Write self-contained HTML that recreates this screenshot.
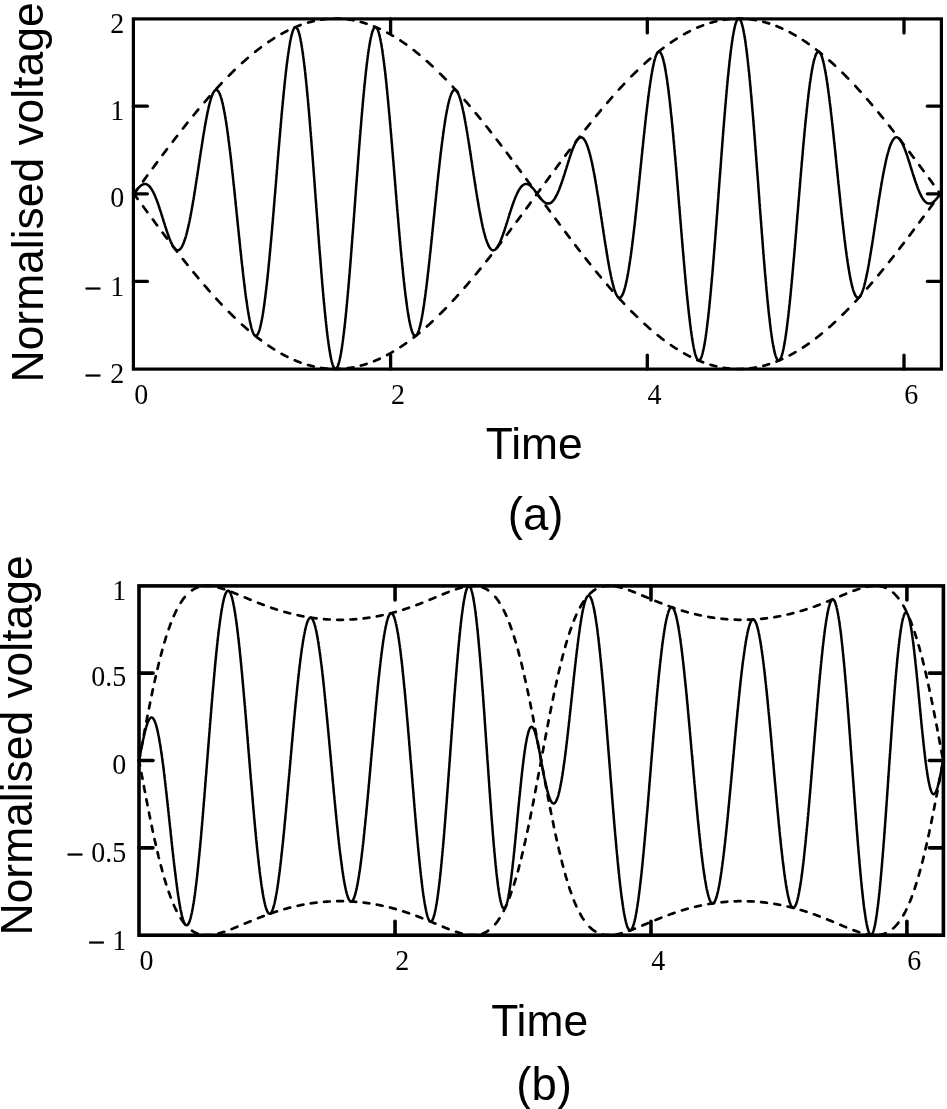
<!DOCTYPE html>
<html><head><meta charset="utf-8"><title>Normalised voltage vs time</title><style>html,body{margin:0;padding:0;background:#fff;overflow:hidden}svg{display:block}</style></head><body>
<svg width="947" height="1109" viewBox="0 0 947 1109">
<style>.ax{fill:none;stroke:#000}.tk{stroke:#000;stroke-linecap:round}.so{fill:none;stroke:#000;stroke-width:2.5;stroke-linejoin:round}.da{fill:none;stroke:#000;stroke-width:2.7;stroke-linecap:round;stroke-linejoin:round}.n{font-family:"Liberation Serif",serif;font-size:28px;fill:#000}.s{font-family:"Liberation Sans",sans-serif;font-size:44px;fill:#000}</style>
<rect width="947" height="1109" fill="#fff"/>
<rect x="133.40" y="18.90" width="808.00" height="350.20" class="ax" stroke-width="3.2"/>
<line x1="390.60" y1="369.10" x2="390.60" y2="355.10" class="tk" stroke-width="3.3"/>
<line x1="390.60" y1="18.90" x2="390.60" y2="32.90" class="tk" stroke-width="3.3"/>
<line x1="647.30" y1="369.10" x2="647.30" y2="355.10" class="tk" stroke-width="3.3"/>
<line x1="647.30" y1="18.90" x2="647.30" y2="32.90" class="tk" stroke-width="3.3"/>
<line x1="904.00" y1="369.10" x2="904.00" y2="355.10" class="tk" stroke-width="3.3"/>
<line x1="904.00" y1="18.90" x2="904.00" y2="32.90" class="tk" stroke-width="3.3"/>
<line x1="133.40" y1="106.20" x2="147.40" y2="106.20" class="tk" stroke-width="3.3"/>
<line x1="941.40" y1="106.20" x2="927.40" y2="106.20" class="tk" stroke-width="3.3"/>
<line x1="133.40" y1="193.80" x2="147.40" y2="193.80" class="tk" stroke-width="3.3"/>
<line x1="941.40" y1="193.80" x2="927.40" y2="193.80" class="tk" stroke-width="3.3"/>
<line x1="133.40" y1="281.40" x2="147.40" y2="281.40" class="tk" stroke-width="3.3"/>
<line x1="941.40" y1="281.40" x2="927.40" y2="281.40" class="tk" stroke-width="3.3"/>
<rect x="139.00" y="585.90" width="804.40" height="349.30" class="ax" stroke-width="3.6"/>
<line x1="395.04" y1="935.20" x2="395.04" y2="921.20" class="tk" stroke-width="3.6"/>
<line x1="395.04" y1="585.90" x2="395.04" y2="599.90" class="tk" stroke-width="3.6"/>
<line x1="650.98" y1="935.20" x2="650.98" y2="921.20" class="tk" stroke-width="3.6"/>
<line x1="650.98" y1="585.90" x2="650.98" y2="599.90" class="tk" stroke-width="3.6"/>
<line x1="906.92" y1="935.20" x2="906.92" y2="921.20" class="tk" stroke-width="3.6"/>
<line x1="906.92" y1="585.90" x2="906.92" y2="599.90" class="tk" stroke-width="3.6"/>
<line x1="139.00" y1="673.15" x2="153.00" y2="673.15" class="tk" stroke-width="3.6"/>
<line x1="943.40" y1="673.15" x2="929.40" y2="673.15" class="tk" stroke-width="3.6"/>
<line x1="139.00" y1="760.50" x2="153.00" y2="760.50" class="tk" stroke-width="3.6"/>
<line x1="943.40" y1="760.50" x2="929.40" y2="760.50" class="tk" stroke-width="3.6"/>
<line x1="139.00" y1="847.85" x2="153.00" y2="847.85" class="tk" stroke-width="3.6"/>
<line x1="943.40" y1="847.85" x2="929.40" y2="847.85" class="tk" stroke-width="3.6"/>
<path class="so" d="M133.9,193.8 L134.0,193.6 L134.2,193.4 L134.3,193.2 L134.4,193.1 L134.6,192.9 L134.7,192.7 L134.8,192.5 L135.0,192.3 L135.1,192.2 L135.2,192.0 L135.4,191.8 L135.5,191.6 L135.6,191.4 L135.8,191.3 L135.9,191.1 L136.1,190.9 L136.2,190.7 L136.3,190.6 L136.5,190.4 L136.6,190.2 L136.7,190.0 L136.9,189.9 L137.0,189.7 L137.1,189.5 L137.3,189.4 L137.4,189.2 L137.5,189.0 L137.7,188.9 L137.8,188.7 L137.9,188.6 L138.1,188.4 L138.2,188.3 L138.3,188.1 L138.5,188.0 L138.6,187.8 L138.7,187.7 L138.9,187.5 L139.0,187.4 L139.1,187.2 L139.3,187.1 L139.4,187.0 L139.5,186.8 L139.7,186.7 L139.8,186.6 L139.9,186.4 L140.1,186.3 L140.2,186.2 L140.4,186.1 L140.5,186.0 L140.6,185.9 L140.8,185.7 L140.9,185.6 L141.0,185.5 L141.2,185.4 L141.3,185.3 L141.4,185.2 L141.6,185.2 L141.7,185.1 L141.8,185.0 L142.0,184.9 L142.1,184.8 L142.2,184.7 L142.4,184.7 L142.5,184.6 L142.6,184.5 L142.8,184.5 L142.9,184.4 L143.0,184.4 L143.2,184.3 L143.3,184.3 L143.4,184.2 L143.6,184.2 L143.7,184.1 L143.8,184.1 L144.0,184.1 L144.1,184.1 L144.3,184.0 L144.4,184.0 L144.5,184.0 L144.7,184.0 L144.8,184.0 L144.9,184.0 L145.1,184.0 L145.2,184.0 L145.3,184.0 L145.5,184.0 L145.6,184.0 L145.7,184.1 L145.9,184.1 L146.0,184.1 L146.1,184.1 L146.3,184.2 L146.4,184.2 L146.5,184.3 L146.7,184.3 L146.8,184.4 L146.9,184.4 L147.1,184.5 L147.2,184.6 L147.3,184.6 L147.5,184.7 L147.6,184.8 L147.7,184.9 L147.9,185.0 L148.0,185.1 L148.1,185.2 L148.3,185.3 L148.4,185.4 L148.6,185.5 L148.7,185.6 L148.8,185.7 L149.0,185.9 L149.1,186.0 L149.2,186.1 L149.4,186.3 L149.5,186.4 L149.6,186.5 L149.8,186.7 L149.9,186.9 L150.0,187.0 L150.2,187.2 L150.3,187.4 L150.4,187.5 L150.6,187.7 L150.7,187.9 L150.8,188.1 L151.0,188.3 L151.1,188.5 L151.2,188.7 L151.4,188.9 L151.5,189.1 L151.6,189.3 L151.8,189.5 L151.9,189.7 L152.0,189.9 L152.2,190.2 L152.3,190.4 L152.5,190.6 L152.6,190.9 L152.7,191.1 L152.9,191.4 L153.0,191.6 L153.1,191.9 L153.3,192.2 L153.4,192.4 L153.5,192.7 L153.7,193.0 L153.8,193.2 L153.9,193.5 L154.1,193.8 L154.2,194.1 L154.3,194.4 L154.5,194.7 L154.6,195.0 L154.7,195.3 L154.9,195.6 L155.0,195.9 L155.1,196.2 L155.3,196.5 L155.4,196.9 L155.5,197.2 L155.7,197.5 L155.8,197.8 L155.9,198.2 L156.1,198.5 L156.2,198.9 L156.3,199.2 L156.5,199.6 L156.6,199.9 L156.8,200.3 L156.9,200.6 L157.0,201.0 L157.2,201.3 L157.3,201.7 L157.4,202.1 L157.6,202.4 L157.7,202.8 L157.8,203.2 L158.0,203.6 L158.1,204.0 L158.2,204.3 L158.4,204.7 L158.5,205.1 L158.6,205.5 L158.8,205.9 L158.9,206.3 L159.0,206.7 L159.2,207.1 L159.3,207.5 L159.4,207.9 L159.6,208.3 L159.7,208.7 L159.8,209.1 L160.0,209.5 L160.1,209.9 L160.2,210.4 L160.4,210.8 L160.5,211.2 L160.7,211.6 L160.8,212.0 L160.9,212.4 L161.1,212.9 L161.2,213.3 L161.3,213.7 L161.5,214.1 L161.6,214.6 L161.7,215.0 L161.9,215.4 L162.0,215.9 L162.1,216.3 L162.3,216.7 L162.4,217.1 L162.5,217.6 L162.7,218.0 L162.8,218.4 L162.9,218.9 L163.1,219.3 L163.2,219.7 L163.3,220.2 L163.5,220.6 L163.6,221.0 L163.7,221.4 L163.9,221.9 L164.0,222.3 L164.1,222.7 L164.3,223.2 L164.4,223.6 L164.6,224.0 L164.7,224.4 L164.8,224.9 L165.0,225.3 L165.1,225.7 L165.2,226.1 L165.4,226.6 L165.5,227.0 L165.6,227.4 L165.8,227.8 L165.9,228.2 L166.0,228.7 L166.2,229.1 L166.3,229.5 L166.4,229.9 L166.6,230.3 L166.7,230.7 L166.8,231.1 L167.0,231.5 L167.1,231.9 L167.2,232.3 L167.4,232.7 L167.5,233.1 L167.6,233.5 L167.8,233.9 L167.9,234.2 L168.0,234.6 L168.2,235.0 L168.3,235.4 L168.4,235.8 L168.6,236.1 L168.7,236.5 L168.9,236.9 L169.0,237.2 L169.1,237.6 L169.3,237.9 L169.4,238.3 L169.5,238.6 L169.7,239.0 L169.8,239.3 L169.9,239.6 L170.1,240.0 L170.2,240.3 L170.3,240.6 L170.5,240.9 L170.6,241.3 L170.7,241.6 L170.9,241.9 L171.0,242.2 L171.1,242.5 L171.3,242.8 L171.4,243.1 L171.5,243.3 L171.7,243.6 L171.8,243.9 L171.9,244.2 L172.1,244.4 L172.2,244.7 L172.3,244.9 L172.5,245.2 L172.6,245.4 L172.8,245.7 L172.9,245.9 L173.0,246.1 L173.2,246.4 L173.3,246.6 L173.4,246.8 L173.6,247.0 L173.7,247.2 L173.8,247.4 L174.0,247.6 L174.1,247.8 L174.2,247.9 L174.4,248.1 L174.5,248.3 L174.6,248.4 L174.8,248.6 L174.9,248.7 L175.0,248.9 L175.2,249.0 L175.3,249.1 L175.4,249.3 L175.6,249.4 L175.7,249.5 L175.8,249.6 L176.0,249.7 L176.1,249.8 L176.2,249.9 L176.4,249.9 L176.5,250.0 L176.6,250.1 L176.8,250.1 L176.9,250.2 L177.1,250.2 L177.2,250.2 L177.3,250.3 L177.5,250.3 L177.6,250.3 L177.7,250.3 L177.9,250.3 L178.0,250.3 L178.1,250.3 L178.3,250.2 L178.4,250.2 L178.5,250.2 L178.7,250.1 L178.8,250.1 L178.9,250.0 L179.1,249.9 L179.2,249.9 L179.3,249.8 L179.5,249.7 L179.6,249.6 L179.7,249.5 L179.9,249.4 L180.0,249.2 L180.1,249.1 L180.3,249.0 L180.4,248.8 L180.5,248.7 L180.7,248.5 L180.8,248.3 L181.0,248.2 L181.1,248.0 L181.2,247.8 L181.4,247.6 L181.5,247.4 L181.6,247.2 L181.8,246.9 L181.9,246.7 L182.0,246.5 L182.2,246.2 L182.3,246.0 L182.4,245.7 L182.6,245.4 L182.7,245.1 L182.8,244.9 L183.0,244.6 L183.1,244.3 L183.2,244.0 L183.4,243.6 L183.5,243.3 L183.6,243.0 L183.8,242.6 L183.9,242.3 L184.0,241.9 L184.2,241.6 L184.3,241.2 L184.4,240.8 L184.6,240.4 L184.7,240.0 L184.8,239.6 L185.0,239.2 L185.1,238.8 L185.3,238.4 L185.4,237.9 L185.5,237.5 L185.7,237.0 L185.8,236.6 L185.9,236.1 L186.1,235.6 L186.2,235.2 L186.3,234.7 L186.5,234.2 L186.6,233.7 L186.7,233.2 L186.9,232.6 L187.0,232.1 L187.1,231.6 L187.3,231.1 L187.4,230.5 L187.5,230.0 L187.7,229.4 L187.8,228.8 L187.9,228.3 L188.1,227.7 L188.2,227.1 L188.3,226.5 L188.5,225.9 L188.6,225.3 L188.7,224.7 L188.9,224.0 L189.0,223.4 L189.2,222.8 L189.3,222.1 L189.4,221.5 L189.6,220.8 L189.7,220.2 L189.8,219.5 L190.0,218.9 L190.1,218.2 L190.2,217.5 L190.4,216.8 L190.5,216.1 L190.6,215.4 L190.8,214.7 L190.9,214.0 L191.0,213.3 L191.2,212.5 L191.3,211.8 L191.4,211.1 L191.6,210.3 L191.7,209.6 L191.8,208.9 L192.0,208.1 L192.1,207.3 L192.2,206.6 L192.4,205.8 L192.5,205.0 L192.6,204.2 L192.8,203.5 L192.9,202.7 L193.0,201.9 L193.2,201.1 L193.3,200.3 L193.5,199.5 L193.6,198.7 L193.7,197.9 L193.9,197.0 L194.0,196.2 L194.1,195.4 L194.3,194.6 L194.4,193.7 L194.5,192.9 L194.7,192.1 L194.8,191.2 L194.9,190.4 L195.1,189.5 L195.2,188.7 L195.3,187.8 L195.5,187.0 L195.6,186.1 L195.7,185.2 L195.9,184.4 L196.0,183.5 L196.1,182.7 L196.3,181.8 L196.4,180.9 L196.5,180.0 L196.7,179.2 L196.8,178.3 L196.9,177.4 L197.1,176.5 L197.2,175.6 L197.4,174.8 L197.5,173.9 L197.6,173.0 L197.8,172.1 L197.9,171.2 L198.0,170.3 L198.2,169.4 L198.3,168.5 L198.4,167.6 L198.6,166.8 L198.7,165.9 L198.8,165.0 L199.0,164.1 L199.1,163.2 L199.2,162.3 L199.4,161.4 L199.5,160.5 L199.6,159.6 L199.8,158.7 L199.9,157.9 L200.0,157.0 L200.2,156.1 L200.3,155.2 L200.4,154.3 L200.6,153.4 L200.7,152.6 L200.8,151.7 L201.0,150.8 L201.1,149.9 L201.2,149.1 L201.4,148.2 L201.5,147.3 L201.7,146.4 L201.8,145.6 L201.9,144.7 L202.1,143.9 L202.2,143.0 L202.3,142.2 L202.5,141.3 L202.6,140.5 L202.7,139.6 L202.9,138.8 L203.0,137.9 L203.1,137.1 L203.3,136.3 L203.4,135.5 L203.5,134.6 L203.7,133.8 L203.8,133.0 L203.9,132.2 L204.1,131.4 L204.2,130.6 L204.3,129.8 L204.5,129.0 L204.6,128.2 L204.7,127.4 L204.9,126.7 L205.0,125.9 L205.1,125.1 L205.3,124.4 L205.4,123.6 L205.6,122.9 L205.7,122.1 L205.8,121.4 L206.0,120.7 L206.1,119.9 L206.2,119.2 L206.4,118.5 L206.5,117.8 L206.6,117.1 L206.8,116.4 L206.9,115.7 L207.0,115.0 L207.2,114.4 L207.3,113.7 L207.4,113.0 L207.6,112.4 L207.7,111.7 L207.8,111.1 L208.0,110.5 L208.1,109.9 L208.2,109.2 L208.4,108.6 L208.5,108.0 L208.6,107.5 L208.8,106.9 L208.9,106.3 L209.0,105.7 L209.2,105.2 L209.3,104.6 L209.4,104.1 L209.6,103.6 L209.7,103.0 L209.9,102.5 L210.0,102.0 L210.1,101.5 L210.3,101.0 L210.4,100.6 L210.5,100.1 L210.7,99.6 L210.8,99.2 L210.9,98.8 L211.1,98.3 L211.2,97.9 L211.3,97.5 L211.5,97.1 L211.6,96.7 L211.7,96.3 L211.9,96.0 L212.0,95.6 L212.1,95.3 L212.3,94.9 L212.4,94.6 L212.5,94.3 L212.7,94.0 L212.8,93.7 L212.9,93.4 L213.1,93.1 L213.2,92.8 L213.3,92.6 L213.5,92.3 L213.6,92.1 L213.8,91.9 L213.9,91.7 L214.0,91.5 L214.2,91.3 L214.3,91.1 L214.4,91.0 L214.6,90.8 L214.7,90.7 L214.8,90.5 L215.0,90.4 L215.1,90.3 L215.2,90.2 L215.4,90.1 L215.5,90.1 L215.6,90.0 L215.8,89.9 L215.9,89.9 L216.0,89.9 L216.2,89.9 L216.3,89.9 L216.4,89.9 L216.6,89.9 L216.7,89.9 L216.8,90.0 L217.0,90.0 L217.1,90.1 L217.2,90.2 L217.4,90.3 L217.5,90.4 L217.7,90.5 L217.8,90.7 L217.9,90.8 L218.1,91.0 L218.2,91.1 L218.3,91.3 L218.5,91.5 L218.6,91.7 L218.7,91.9 L218.9,92.1 L219.0,92.4 L219.1,92.6 L219.3,92.9 L219.4,93.2 L219.5,93.5 L219.7,93.8 L219.8,94.1 L219.9,94.4 L220.1,94.8 L220.2,95.1 L220.3,95.5 L220.5,95.9 L220.6,96.2 L220.7,96.6 L220.9,97.1 L221.0,97.5 L221.1,97.9 L221.3,98.4 L221.4,98.8 L221.5,99.3 L221.7,99.8 L221.8,100.3 L222.0,100.8 L222.1,101.3 L222.2,101.8 L222.4,102.4 L222.5,102.9 L222.6,103.5 L222.8,104.1 L222.9,104.7 L223.0,105.3 L223.2,105.9 L223.3,106.5 L223.4,107.2 L223.6,107.8 L223.7,108.5 L223.8,109.2 L224.0,109.8 L224.1,110.5 L224.2,111.2 L224.4,112.0 L224.5,112.7 L224.6,113.4 L224.8,114.2 L224.9,114.9 L225.0,115.7 L225.2,116.5 L225.3,117.3 L225.4,118.1 L225.6,118.9 L225.7,119.7 L225.9,120.6 L226.0,121.4 L226.1,122.3 L226.3,123.1 L226.4,124.0 L226.5,124.9 L226.7,125.8 L226.8,126.7 L226.9,127.6 L227.1,128.6 L227.2,129.5 L227.3,130.4 L227.5,131.4 L227.6,132.4 L227.7,133.3 L227.9,134.3 L228.0,135.3 L228.1,136.3 L228.3,137.3 L228.4,138.3 L228.5,139.4 L228.7,140.4 L228.8,141.4 L228.9,142.5 L229.1,143.5 L229.2,144.6 L229.3,145.7 L229.5,146.8 L229.6,147.9 L229.7,149.0 L229.9,150.1 L230.0,151.2 L230.2,152.3 L230.3,153.4 L230.4,154.6 L230.6,155.7 L230.7,156.9 L230.8,158.0 L231.0,159.2 L231.1,160.4 L231.2,161.5 L231.4,162.7 L231.5,163.9 L231.6,165.1 L231.8,166.3 L231.9,167.5 L232.0,168.7 L232.2,170.0 L232.3,171.2 L232.4,172.4 L232.6,173.6 L232.7,174.9 L232.8,176.1 L233.0,177.4 L233.1,178.6 L233.2,179.9 L233.4,181.1 L233.5,182.4 L233.6,183.7 L233.8,185.0 L233.9,186.2 L234.1,187.5 L234.2,188.8 L234.3,190.1 L234.5,191.4 L234.6,192.7 L234.7,194.0 L234.9,195.3 L235.0,196.6 L235.1,197.9 L235.3,199.2 L235.4,200.5 L235.5,201.8 L235.7,203.1 L235.8,204.4 L235.9,205.7 L236.1,207.1 L236.2,208.4 L236.3,209.7 L236.5,211.0 L236.6,212.3 L236.7,213.7 L236.9,215.0 L237.0,216.3 L237.1,217.6 L237.3,218.9 L237.4,220.3 L237.5,221.6 L237.7,222.9 L237.8,224.2 L237.9,225.5 L238.1,226.9 L238.2,228.2 L238.4,229.5 L238.5,230.8 L238.6,232.1 L238.8,233.4 L238.9,234.7 L239.0,236.1 L239.2,237.4 L239.3,238.7 L239.4,240.0 L239.6,241.3 L239.7,242.6 L239.8,243.8 L240.0,245.1 L240.1,246.4 L240.2,247.7 L240.4,249.0 L240.5,250.3 L240.6,251.5 L240.8,252.8 L240.9,254.1 L241.0,255.3 L241.2,256.6 L241.3,257.8 L241.4,259.1 L241.6,260.3 L241.7,261.5 L241.8,262.8 L242.0,264.0 L242.1,265.2 L242.3,266.4 L242.4,267.6 L242.5,268.8 L242.7,270.0 L242.8,271.2 L242.9,272.4 L243.1,273.6 L243.2,274.7 L243.3,275.9 L243.5,277.0 L243.6,278.2 L243.7,279.3 L243.9,280.5 L244.0,281.6 L244.1,282.7 L244.3,283.8 L244.4,284.9 L244.5,286.0 L244.7,287.1 L244.8,288.2 L244.9,289.2 L245.1,290.3 L245.2,291.3 L245.3,292.4 L245.5,293.4 L245.6,294.4 L245.7,295.4 L245.9,296.4 L246.0,297.4 L246.1,298.4 L246.3,299.4 L246.4,300.3 L246.6,301.3 L246.7,302.2 L246.8,303.1 L247.0,304.1 L247.1,305.0 L247.2,305.9 L247.4,306.8 L247.5,307.6 L247.6,308.5 L247.8,309.3 L247.9,310.2 L248.0,311.0 L248.2,311.8 L248.3,312.6 L248.4,313.4 L248.6,314.2 L248.7,315.0 L248.8,315.7 L249.0,316.5 L249.1,317.2 L249.2,317.9 L249.4,318.6 L249.5,319.3 L249.6,320.0 L249.8,320.7 L249.9,321.3 L250.0,322.0 L250.2,322.6 L250.3,323.2 L250.5,323.8 L250.6,324.4 L250.7,325.0 L250.9,325.5 L251.0,326.1 L251.1,326.6 L251.3,327.1 L251.4,327.6 L251.5,328.1 L251.7,328.6 L251.8,329.1 L251.9,329.5 L252.1,329.9 L252.2,330.4 L252.3,330.8 L252.5,331.2 L252.6,331.5 L252.7,331.9 L252.9,332.2 L253.0,332.6 L253.1,332.9 L253.3,333.2 L253.4,333.5 L253.5,333.7 L253.7,334.0 L253.8,334.2 L253.9,334.4 L254.1,334.6 L254.2,334.8 L254.3,335.0 L254.5,335.2 L254.6,335.3 L254.8,335.4 L254.9,335.6 L255.0,335.7 L255.2,335.7 L255.3,335.8 L255.4,335.9 L255.6,335.9 L255.7,335.9 L255.8,335.9 L256.0,335.9 L256.1,335.9 L256.2,335.8 L256.4,335.8 L256.5,335.7 L256.6,335.6 L256.8,335.5 L256.9,335.4 L257.0,335.2 L257.2,335.1 L257.3,334.9 L257.4,334.7 L257.6,334.5 L257.7,334.3 L257.8,334.0 L258.0,333.8 L258.1,333.5 L258.2,333.2 L258.4,332.9 L258.5,332.6 L258.7,332.3 L258.8,331.9 L258.9,331.6 L259.1,331.2 L259.2,330.8 L259.3,330.4 L259.5,329.9 L259.6,329.5 L259.7,329.0 L259.9,328.6 L260.0,328.1 L260.1,327.6 L260.3,327.0 L260.4,326.5 L260.5,325.9 L260.7,325.4 L260.8,324.8 L260.9,324.2 L261.1,323.6 L261.2,322.9 L261.3,322.3 L261.5,321.6 L261.6,320.9 L261.7,320.2 L261.9,319.5 L262.0,318.8 L262.1,318.1 L262.3,317.3 L262.4,316.6 L262.5,315.8 L262.7,315.0 L262.8,314.2 L263.0,313.3 L263.1,312.5 L263.2,311.6 L263.4,310.8 L263.5,309.9 L263.6,309.0 L263.8,308.1 L263.9,307.2 L264.0,306.2 L264.2,305.3 L264.3,304.3 L264.4,303.3 L264.6,302.3 L264.7,301.3 L264.8,300.3 L265.0,299.3 L265.1,298.2 L265.2,297.2 L265.4,296.1 L265.5,295.0 L265.6,293.9 L265.8,292.8 L265.9,291.7 L266.0,290.5 L266.2,289.4 L266.3,288.2 L266.4,287.0 L266.6,285.9 L266.7,284.7 L266.9,283.5 L267.0,282.2 L267.1,281.0 L267.3,279.8 L267.4,278.5 L267.5,277.2 L267.7,276.0 L267.8,274.7 L267.9,273.4 L268.1,272.1 L268.2,270.8 L268.3,269.4 L268.5,268.1 L268.6,266.8 L268.7,265.4 L268.9,264.0 L269.0,262.7 L269.1,261.3 L269.3,259.9 L269.4,258.5 L269.5,257.1 L269.7,255.6 L269.8,254.2 L269.9,252.8 L270.1,251.3 L270.2,249.9 L270.3,248.4 L270.5,246.9 L270.6,245.5 L270.7,244.0 L270.9,242.5 L271.0,241.0 L271.2,239.5 L271.3,238.0 L271.4,236.4 L271.6,234.9 L271.7,233.4 L271.8,231.8 L272.0,230.3 L272.1,228.8 L272.2,227.2 L272.4,225.6 L272.5,224.1 L272.6,222.5 L272.8,220.9 L272.9,219.3 L273.0,217.7 L273.2,216.2 L273.3,214.6 L273.4,213.0 L273.6,211.4 L273.7,209.8 L273.8,208.1 L274.0,206.5 L274.1,204.9 L274.2,203.3 L274.4,201.7 L274.5,200.0 L274.6,198.4 L274.8,196.8 L274.9,195.1 L275.1,193.5 L275.2,191.9 L275.3,190.2 L275.5,188.6 L275.6,187.0 L275.7,185.3 L275.9,183.7 L276.0,182.0 L276.1,180.4 L276.3,178.7 L276.4,177.1 L276.5,175.5 L276.7,173.8 L276.8,172.2 L276.9,170.5 L277.1,168.9 L277.2,167.3 L277.3,165.6 L277.5,164.0 L277.6,162.3 L277.7,160.7 L277.9,159.1 L278.0,157.5 L278.1,155.8 L278.3,154.2 L278.4,152.6 L278.5,151.0 L278.7,149.3 L278.8,147.7 L279.0,146.1 L279.1,144.5 L279.2,142.9 L279.4,141.3 L279.5,139.7 L279.6,138.1 L279.8,136.6 L279.9,135.0 L280.0,133.4 L280.2,131.8 L280.3,130.3 L280.4,128.7 L280.6,127.2 L280.7,125.6 L280.8,124.1 L281.0,122.6 L281.1,121.0 L281.2,119.5 L281.4,118.0 L281.5,116.5 L281.6,115.0 L281.8,113.5 L281.9,112.0 L282.0,110.5 L282.2,109.1 L282.3,107.6 L282.4,106.2 L282.6,104.7 L282.7,103.3 L282.8,101.9 L283.0,100.4 L283.1,99.0 L283.3,97.6 L283.4,96.2 L283.5,94.9 L283.7,93.5 L283.8,92.1 L283.9,90.8 L284.1,89.4 L284.2,88.1 L284.3,86.8 L284.5,85.5 L284.6,84.2 L284.7,82.9 L284.9,81.6 L285.0,80.4 L285.1,79.1 L285.3,77.9 L285.4,76.6 L285.5,75.4 L285.7,74.2 L285.8,73.0 L285.9,71.8 L286.1,70.7 L286.2,69.5 L286.3,68.4 L286.5,67.3 L286.6,66.1 L286.7,65.0 L286.9,64.0 L287.0,62.9 L287.2,61.8 L287.3,60.8 L287.4,59.7 L287.6,58.7 L287.7,57.7 L287.8,56.7 L288.0,55.7 L288.1,54.8 L288.2,53.8 L288.4,52.9 L288.5,52.0 L288.6,51.1 L288.8,50.2 L288.9,49.3 L289.0,48.5 L289.2,47.6 L289.3,46.8 L289.4,46.0 L289.6,45.2 L289.7,44.4 L289.8,43.6 L290.0,42.9 L290.1,42.2 L290.2,41.4 L290.4,40.7 L290.5,40.1 L290.6,39.4 L290.8,38.8 L290.9,38.1 L291.0,37.5 L291.2,36.9 L291.3,36.3 L291.5,35.8 L291.6,35.2 L291.7,34.7 L291.9,34.2 L292.0,33.7 L292.1,33.2 L292.3,32.7 L292.4,32.3 L292.5,31.9 L292.7,31.5 L292.8,31.1 L292.9,30.7 L293.1,30.4 L293.2,30.0 L293.3,29.7 L293.5,29.4 L293.6,29.1 L293.7,28.9 L293.9,28.6 L294.0,28.4 L294.1,28.2 L294.3,28.0 L294.4,27.8 L294.5,27.7 L294.7,27.5 L294.8,27.4 L294.9,27.3 L295.1,27.2 L295.2,27.2 L295.4,27.1 L295.5,27.1 L295.6,27.1 L295.8,27.1 L295.9,27.1 L296.0,27.2 L296.2,27.2 L296.3,27.3 L296.4,27.4 L296.6,27.6 L296.7,27.7 L296.8,27.9 L297.0,28.0 L297.1,28.2 L297.2,28.5 L297.4,28.7 L297.5,28.9 L297.6,29.2 L297.8,29.5 L297.9,29.8 L298.0,30.1 L298.2,30.5 L298.3,30.8 L298.4,31.2 L298.6,31.6 L298.7,32.0 L298.8,32.5 L299.0,32.9 L299.1,33.4 L299.2,33.9 L299.4,34.4 L299.5,34.9 L299.7,35.5 L299.8,36.0 L299.9,36.6 L300.1,37.2 L300.2,37.8 L300.3,38.5 L300.5,39.1 L300.6,39.8 L300.7,40.5 L300.9,41.2 L301.0,41.9 L301.1,42.6 L301.3,43.4 L301.4,44.2 L301.5,44.9 L301.7,45.8 L301.8,46.6 L301.9,47.4 L302.1,48.3 L302.2,49.1 L302.3,50.0 L302.5,50.9 L302.6,51.9 L302.7,52.8 L302.9,53.8 L303.0,54.7 L303.1,55.7 L303.3,56.7 L303.4,57.7 L303.6,58.8 L303.7,59.8 L303.8,60.9 L304.0,62.0 L304.1,63.1 L304.2,64.2 L304.4,65.3 L304.5,66.4 L304.6,67.6 L304.8,68.8 L304.9,70.0 L305.0,71.2 L305.2,72.4 L305.3,73.6 L305.4,74.8 L305.6,76.1 L305.7,77.4 L305.8,78.6 L306.0,79.9 L306.1,81.3 L306.2,82.6 L306.4,83.9 L306.5,85.3 L306.6,86.6 L306.8,88.0 L306.9,89.4 L307.0,90.8 L307.2,92.2 L307.3,93.6 L307.4,95.0 L307.6,96.5 L307.7,97.9 L307.9,99.4 L308.0,100.9 L308.1,102.4 L308.3,103.9 L308.4,105.4 L308.5,106.9 L308.7,108.4 L308.8,110.0 L308.9,111.5 L309.1,113.1 L309.2,114.7 L309.3,116.3 L309.5,117.8 L309.6,119.4 L309.7,121.1 L309.9,122.7 L310.0,124.3 L310.1,125.9 L310.3,127.6 L310.4,129.2 L310.5,130.9 L310.7,132.6 L310.8,134.2 L310.9,135.9 L311.1,137.6 L311.2,139.3 L311.3,141.0 L311.5,142.7 L311.6,144.4 L311.8,146.1 L311.9,147.9 L312.0,149.6 L312.2,151.3 L312.3,153.1 L312.4,154.8 L312.6,156.6 L312.7,158.3 L312.8,160.1 L313.0,161.9 L313.1,163.6 L313.2,165.4 L313.4,167.2 L313.5,169.0 L313.6,170.8 L313.8,172.6 L313.9,174.3 L314.0,176.1 L314.2,177.9 L314.3,179.7 L314.4,181.5 L314.6,183.3 L314.7,185.2 L314.8,187.0 L315.0,188.8 L315.1,190.6 L315.2,192.4 L315.4,194.2 L315.5,196.0 L315.6,197.8 L315.8,199.6 L315.9,201.5 L316.1,203.3 L316.2,205.1 L316.3,206.9 L316.5,208.7 L316.6,210.5 L316.7,212.3 L316.9,214.1 L317.0,215.9 L317.1,217.7 L317.3,219.5 L317.4,221.3 L317.5,223.1 L317.7,224.9 L317.8,226.7 L317.9,228.5 L318.1,230.3 L318.2,232.1 L318.3,233.9 L318.5,235.6 L318.6,237.4 L318.7,239.2 L318.9,240.9 L319.0,242.7 L319.1,244.4 L319.3,246.2 L319.4,247.9 L319.5,249.6 L319.7,251.4 L319.8,253.1 L320.0,254.8 L320.1,256.5 L320.2,258.2 L320.4,259.9 L320.5,261.6 L320.6,263.3 L320.8,265.0 L320.9,266.6 L321.0,268.3 L321.2,270.0 L321.3,271.6 L321.4,273.2 L321.6,274.9 L321.7,276.5 L321.8,278.1 L322.0,279.7 L322.1,281.3 L322.2,282.9 L322.4,284.4 L322.5,286.0 L322.6,287.6 L322.8,289.1 L322.9,290.6 L323.0,292.2 L323.2,293.7 L323.3,295.2 L323.4,296.7 L323.6,298.2 L323.7,299.6 L323.8,301.1 L324.0,302.5 L324.1,304.0 L324.3,305.4 L324.4,306.8 L324.5,308.2 L324.7,309.6 L324.8,310.9 L324.9,312.3 L325.1,313.7 L325.2,315.0 L325.3,316.3 L325.5,317.6 L325.6,318.9 L325.7,320.2 L325.9,321.5 L326.0,322.7 L326.1,323.9 L326.3,325.2 L326.4,326.4 L326.5,327.6 L326.7,328.8 L326.8,329.9 L326.9,331.1 L327.1,332.2 L327.2,333.3 L327.3,334.4 L327.5,335.5 L327.6,336.6 L327.7,337.7 L327.9,338.7 L328.0,339.7 L328.2,340.7 L328.3,341.7 L328.4,342.7 L328.6,343.7 L328.7,344.6 L328.8,345.5 L329.0,346.5 L329.1,347.4 L329.2,348.2 L329.4,349.1 L329.5,349.9 L329.6,350.8 L329.8,351.6 L329.9,352.4 L330.0,353.1 L330.2,353.9 L330.3,354.6 L330.4,355.4 L330.6,356.1 L330.7,356.7 L330.8,357.4 L331.0,358.1 L331.1,358.7 L331.2,359.3 L331.4,359.9 L331.5,360.5 L331.6,361.0 L331.8,361.6 L331.9,362.1 L332.1,362.6 L332.2,363.1 L332.3,363.6 L332.5,364.0 L332.6,364.4 L332.7,364.8 L332.9,365.2 L333.0,365.6 L333.1,366.0 L333.3,366.3 L333.4,366.6 L333.5,366.9 L333.7,367.2 L333.8,367.4 L333.9,367.7 L334.1,367.9 L334.2,368.1 L334.3,368.3 L334.5,368.4 L334.6,368.6 L334.7,368.7 L334.9,368.8 L335.0,368.9 L335.1,368.9 L335.3,369.0 L335.4,369.0 L335.5,369.0 L335.7,369.0 L335.8,369.0 L335.9,368.9 L336.1,368.8 L336.2,368.7 L336.4,368.6 L336.5,368.5 L336.6,368.3 L336.8,368.2 L336.9,368.0 L337.0,367.8 L337.2,367.5 L337.3,367.3 L337.4,367.0 L337.6,366.7 L337.7,366.4 L337.8,366.1 L338.0,365.8 L338.1,365.4 L338.2,365.0 L338.4,364.6 L338.5,364.2 L338.6,363.8 L338.8,363.3 L338.9,362.8 L339.0,362.4 L339.2,361.8 L339.3,361.3 L339.4,360.8 L339.6,360.2 L339.7,359.6 L339.8,359.0 L340.0,358.4 L340.1,357.7 L340.3,357.1 L340.4,356.4 L340.5,355.7 L340.7,355.0 L340.8,354.3 L340.9,353.5 L341.1,352.8 L341.2,352.0 L341.3,351.2 L341.5,350.3 L341.6,349.5 L341.7,348.7 L341.9,347.8 L342.0,346.9 L342.1,346.0 L342.3,345.1 L342.4,344.1 L342.5,343.2 L342.7,342.2 L342.8,341.2 L342.9,340.2 L343.1,339.2 L343.2,338.2 L343.3,337.1 L343.5,336.1 L343.6,335.0 L343.7,333.9 L343.9,332.8 L344.0,331.6 L344.1,330.5 L344.3,329.3 L344.4,328.2 L344.6,327.0 L344.7,325.8 L344.8,324.6 L345.0,323.3 L345.1,322.1 L345.2,320.8 L345.4,319.5 L345.5,318.3 L345.6,317.0 L345.8,315.6 L345.9,314.3 L346.0,313.0 L346.2,311.6 L346.3,310.3 L346.4,308.9 L346.6,307.5 L346.7,306.1 L346.8,304.7 L347.0,303.2 L347.1,301.8 L347.2,300.4 L347.4,298.9 L347.5,297.4 L347.6,295.9 L347.8,294.4 L347.9,292.9 L348.0,291.4 L348.2,289.9 L348.3,288.3 L348.5,286.8 L348.6,285.2 L348.7,283.7 L348.9,282.1 L349.0,280.5 L349.1,278.9 L349.3,277.3 L349.4,275.7 L349.5,274.1 L349.7,272.4 L349.8,270.8 L349.9,269.1 L350.1,267.5 L350.2,265.8 L350.3,264.1 L350.5,262.5 L350.6,260.8 L350.7,259.1 L350.9,257.4 L351.0,255.7 L351.1,254.0 L351.3,252.2 L351.4,250.5 L351.5,248.8 L351.7,247.0 L351.8,245.3 L351.9,243.6 L352.1,241.8 L352.2,240.0 L352.3,238.3 L352.5,236.5 L352.6,234.7 L352.8,233.0 L352.9,231.2 L353.0,229.4 L353.2,227.6 L353.3,225.8 L353.4,224.0 L353.6,222.2 L353.7,220.4 L353.8,218.6 L354.0,216.8 L354.1,215.0 L354.2,213.2 L354.4,211.4 L354.5,209.6 L354.6,207.8 L354.8,206.0 L354.9,204.2 L355.0,202.4 L355.2,200.6 L355.3,198.7 L355.4,196.9 L355.6,195.1 L355.7,193.3 L355.8,191.5 L356.0,189.7 L356.1,187.9 L356.2,186.1 L356.4,184.3 L356.5,182.4 L356.7,180.6 L356.8,178.8 L356.9,177.0 L357.1,175.2 L357.2,173.5 L357.3,171.7 L357.5,169.9 L357.6,168.1 L357.7,166.3 L357.9,164.5 L358.0,162.8 L358.1,161.0 L358.3,159.2 L358.4,157.5 L358.5,155.7 L358.7,154.0 L358.8,152.2 L358.9,150.5 L359.1,148.7 L359.2,147.0 L359.3,145.3 L359.5,143.6 L359.6,141.8 L359.7,140.1 L359.9,138.4 L360.0,136.8 L360.1,135.1 L360.3,133.4 L360.4,131.7 L360.5,130.1 L360.7,128.4 L360.8,126.8 L361.0,125.1 L361.1,123.5 L361.2,121.9 L361.4,120.3 L361.5,118.6 L361.6,117.1 L361.8,115.5 L361.9,113.9 L362.0,112.3 L362.2,110.8 L362.3,109.2 L362.4,107.7 L362.6,106.2 L362.7,104.6 L362.8,103.1 L363.0,101.6 L363.1,100.1 L363.2,98.7 L363.4,97.2 L363.5,95.8 L363.6,94.3 L363.8,92.9 L363.9,91.5 L364.0,90.1 L364.2,88.7 L364.3,87.3 L364.4,85.9 L364.6,84.6 L364.7,83.2 L364.9,81.9 L365.0,80.6 L365.1,79.3 L365.3,78.0 L365.4,76.7 L365.5,75.5 L365.7,74.2 L365.8,73.0 L365.9,71.8 L366.1,70.6 L366.2,69.4 L366.3,68.2 L366.5,67.0 L366.6,65.9 L366.7,64.7 L366.9,63.6 L367.0,62.5 L367.1,61.4 L367.3,60.4 L367.4,59.3 L367.5,58.3 L367.7,57.2 L367.8,56.2 L367.9,55.2 L368.1,54.2 L368.2,53.3 L368.3,52.3 L368.5,51.4 L368.6,50.5 L368.7,49.6 L368.9,48.7 L369.0,47.8 L369.2,47.0 L369.3,46.2 L369.4,45.3 L369.6,44.6 L369.7,43.8 L369.8,43.0 L370.0,42.3 L370.1,41.5 L370.2,40.8 L370.4,40.1 L370.5,39.4 L370.6,38.8 L370.8,38.1 L370.9,37.5 L371.0,36.9 L371.2,36.3 L371.3,35.8 L371.4,35.2 L371.6,34.7 L371.7,34.1 L371.8,33.6 L372.0,33.2 L372.1,32.7 L372.2,32.3 L372.4,31.8 L372.5,31.4 L372.6,31.0 L372.8,30.7 L372.9,30.3 L373.1,30.0 L373.2,29.7 L373.3,29.4 L373.5,29.1 L373.6,28.8 L373.7,28.6 L373.9,28.3 L374.0,28.1 L374.1,27.9 L374.3,27.8 L374.4,27.6 L374.5,27.5 L374.7,27.4 L374.8,27.3 L374.9,27.2 L375.1,27.2 L375.2,27.1 L375.3,27.1 L375.5,27.1 L375.6,27.1 L375.7,27.1 L375.9,27.2 L376.0,27.3 L376.1,27.4 L376.3,27.5 L376.4,27.6 L376.5,27.7 L376.7,27.9 L376.8,28.1 L376.9,28.3 L377.1,28.5 L377.2,28.7 L377.4,29.0 L377.5,29.3 L377.6,29.6 L377.8,29.9 L377.9,30.2 L378.0,30.5 L378.2,30.9 L378.3,31.3 L378.4,31.7 L378.6,32.1 L378.7,32.5 L378.8,33.0 L379.0,33.4 L379.1,33.9 L379.2,34.4 L379.4,35.0 L379.5,35.5 L379.6,36.0 L379.8,36.6 L379.9,37.2 L380.0,37.8 L380.2,38.4 L380.3,39.1 L380.4,39.7 L380.6,40.4 L380.7,41.1 L380.8,41.8 L381.0,42.5 L381.1,43.3 L381.3,44.0 L381.4,44.8 L381.5,45.6 L381.7,46.4 L381.8,47.2 L381.9,48.0 L382.1,48.9 L382.2,49.7 L382.3,50.6 L382.5,51.5 L382.6,52.4 L382.7,53.4 L382.9,54.3 L383.0,55.3 L383.1,56.2 L383.3,57.2 L383.4,58.2 L383.5,59.2 L383.7,60.2 L383.8,61.3 L383.9,62.3 L384.1,63.4 L384.2,64.5 L384.3,65.6 L384.5,66.7 L384.6,67.8 L384.7,69.0 L384.9,70.1 L385.0,71.3 L385.2,72.4 L385.3,73.6 L385.4,74.8 L385.6,76.0 L385.7,77.3 L385.8,78.5 L386.0,79.7 L386.1,81.0 L386.2,82.3 L386.4,83.5 L386.5,84.8 L386.6,86.1 L386.8,87.5 L386.9,88.8 L387.0,90.1 L387.2,91.5 L387.3,92.8 L387.4,94.2 L387.6,95.6 L387.7,96.9 L387.8,98.3 L388.0,99.7 L388.1,101.1 L388.2,102.6 L388.4,104.0 L388.5,105.4 L388.6,106.9 L388.8,108.3 L388.9,109.8 L389.0,111.3 L389.2,112.8 L389.3,114.2 L389.5,115.7 L389.6,117.2 L389.7,118.8 L389.9,120.3 L390.0,121.8 L390.1,123.3 L390.3,124.9 L390.4,126.4 L390.5,127.9 L390.7,129.5 L390.8,131.1 L390.9,132.6 L391.1,134.2 L391.2,135.8 L391.3,137.4 L391.5,138.9 L391.6,140.5 L391.7,142.1 L391.9,143.7 L392.0,145.3 L392.1,146.9 L392.3,148.5 L392.4,150.2 L392.5,151.8 L392.7,153.4 L392.8,155.0 L392.9,156.6 L393.1,158.3 L393.2,159.9 L393.4,161.5 L393.5,163.2 L393.6,164.8 L393.8,166.4 L393.9,168.1 L394.0,169.7 L394.2,171.4 L394.3,173.0 L394.4,174.6 L394.6,176.3 L394.7,177.9 L394.8,179.6 L395.0,181.2 L395.1,182.9 L395.2,184.5 L395.4,186.1 L395.5,187.8 L395.6,189.4 L395.8,191.1 L395.9,192.7 L396.0,194.3 L396.2,196.0 L396.3,197.6 L396.4,199.2 L396.6,200.9 L396.7,202.5 L396.8,204.1 L397.0,205.7 L397.1,207.3 L397.2,208.9 L397.4,210.6 L397.5,212.2 L397.7,213.8 L397.8,215.4 L397.9,217.0 L398.1,218.5 L398.2,220.1 L398.3,221.7 L398.5,223.3 L398.6,224.9 L398.7,226.4 L398.9,228.0 L399.0,229.5 L399.1,231.1 L399.3,232.6 L399.4,234.2 L399.5,235.7 L399.7,237.2 L399.8,238.7 L399.9,240.2 L400.1,241.7 L400.2,243.2 L400.3,244.7 L400.5,246.2 L400.6,247.7 L400.7,249.1 L400.9,250.6 L401.0,252.1 L401.1,253.5 L401.3,254.9 L401.4,256.4 L401.6,257.8 L401.7,259.2 L401.8,260.6 L402.0,262.0 L402.1,263.3 L402.2,264.7 L402.4,266.1 L402.5,267.4 L402.6,268.8 L402.8,270.1 L402.9,271.4 L403.0,272.7 L403.2,274.0 L403.3,275.3 L403.4,276.6 L403.6,277.9 L403.7,279.1 L403.8,280.4 L404.0,281.6 L404.1,282.8 L404.2,284.1 L404.4,285.3 L404.5,286.5 L404.6,287.6 L404.8,288.8 L404.9,290.0 L405.0,291.1 L405.2,292.2 L405.3,293.3 L405.4,294.4 L405.6,295.5 L405.7,296.6 L405.9,297.7 L406.0,298.7 L406.1,299.8 L406.3,300.8 L406.4,301.8 L406.5,302.8 L406.7,303.8 L406.8,304.8 L406.9,305.7 L407.1,306.7 L407.2,307.6 L407.3,308.5 L407.5,309.4 L407.6,310.3 L407.7,311.2 L407.9,312.1 L408.0,312.9 L408.1,313.8 L408.3,314.6 L408.4,315.4 L408.5,316.2 L408.7,316.9 L408.8,317.7 L408.9,318.5 L409.1,319.2 L409.2,319.9 L409.3,320.6 L409.5,321.3 L409.6,322.0 L409.8,322.6 L409.9,323.2 L410.0,323.9 L410.2,324.5 L410.3,325.1 L410.4,325.7 L410.6,326.2 L410.7,326.8 L410.8,327.3 L411.0,327.8 L411.1,328.3 L411.2,328.8 L411.4,329.3 L411.5,329.7 L411.6,330.2 L411.8,330.6 L411.9,331.0 L412.0,331.4 L412.2,331.7 L412.3,332.1 L412.4,332.4 L412.6,332.8 L412.7,333.1 L412.8,333.4 L413.0,333.6 L413.1,333.9 L413.2,334.2 L413.4,334.4 L413.5,334.6 L413.6,334.8 L413.8,335.0 L413.9,335.1 L414.1,335.3 L414.2,335.4 L414.3,335.5 L414.5,335.6 L414.6,335.7 L414.7,335.8 L414.9,335.8 L415.0,335.9 L415.1,335.9 L415.3,335.9 L415.4,335.9 L415.5,335.9 L415.7,335.8 L415.8,335.8 L415.9,335.7 L416.1,335.6 L416.2,335.5 L416.3,335.4 L416.5,335.2 L416.6,335.1 L416.7,334.9 L416.9,334.7 L417.0,334.5 L417.1,334.3 L417.3,334.1 L417.4,333.9 L417.5,333.6 L417.7,333.3 L417.8,333.0 L418.0,332.7 L418.1,332.4 L418.2,332.1 L418.4,331.7 L418.5,331.3 L418.6,331.0 L418.8,330.6 L418.9,330.2 L419.0,329.7 L419.2,329.3 L419.3,328.8 L419.4,328.4 L419.6,327.9 L419.7,327.4 L419.8,326.9 L420.0,326.4 L420.1,325.8 L420.2,325.3 L420.4,324.7 L420.5,324.1 L420.6,323.5 L420.8,322.9 L420.9,322.3 L421.0,321.7 L421.2,321.0 L421.3,320.3 L421.4,319.7 L421.6,319.0 L421.7,318.3 L421.8,317.6 L422.0,316.8 L422.1,316.1 L422.3,315.4 L422.4,314.6 L422.5,313.8 L422.7,313.0 L422.8,312.2 L422.9,311.4 L423.1,310.6 L423.2,309.8 L423.3,308.9 L423.5,308.1 L423.6,307.2 L423.7,306.3 L423.9,305.4 L424.0,304.5 L424.1,303.6 L424.3,302.7 L424.4,301.7 L424.5,300.8 L424.7,299.8 L424.8,298.9 L424.9,297.9 L425.1,296.9 L425.2,295.9 L425.3,294.9 L425.5,293.9 L425.6,292.9 L425.7,291.8 L425.9,290.8 L426.0,289.7 L426.2,288.7 L426.3,287.6 L426.4,286.5 L426.6,285.4 L426.7,284.4 L426.8,283.3 L427.0,282.1 L427.1,281.0 L427.2,279.9 L427.4,278.8 L427.5,277.6 L427.6,276.5 L427.8,275.3 L427.9,274.1 L428.0,273.0 L428.2,271.8 L428.3,270.6 L428.4,269.4 L428.6,268.2 L428.7,267.0 L428.8,265.8 L429.0,264.6 L429.1,263.4 L429.2,262.2 L429.4,260.9 L429.5,259.7 L429.6,258.4 L429.8,257.2 L429.9,255.9 L430.0,254.7 L430.2,253.4 L430.3,252.2 L430.5,250.9 L430.6,249.6 L430.7,248.3 L430.9,247.1 L431.0,245.8 L431.1,244.5 L431.3,243.2 L431.4,241.9 L431.5,240.6 L431.7,239.3 L431.8,238.0 L431.9,236.7 L432.1,235.4 L432.2,234.1 L432.3,232.8 L432.5,231.5 L432.6,230.2 L432.7,228.8 L432.9,227.5 L433.0,226.2 L433.1,224.9 L433.3,223.6 L433.4,222.2 L433.5,220.9 L433.7,219.6 L433.8,218.3 L433.9,217.0 L434.1,215.6 L434.2,214.3 L434.4,213.0 L434.5,211.7 L434.6,210.3 L434.8,209.0 L434.9,207.7 L435.0,206.4 L435.2,205.1 L435.3,203.8 L435.4,202.4 L435.6,201.1 L435.7,199.8 L435.8,198.5 L436.0,197.2 L436.1,195.9 L436.2,194.6 L436.4,193.3 L436.5,192.0 L436.6,190.7 L436.8,189.4 L436.9,188.2 L437.0,186.9 L437.2,185.6 L437.3,184.3 L437.4,183.0 L437.6,181.8 L437.7,180.5 L437.8,179.3 L438.0,178.0 L438.1,176.7 L438.2,175.5 L438.4,174.3 L438.5,173.0 L438.7,171.8 L438.8,170.6 L438.9,169.3 L439.1,168.1 L439.2,166.9 L439.3,165.7 L439.5,164.5 L439.6,163.3 L439.7,162.1 L439.9,161.0 L440.0,159.8 L440.1,158.6 L440.3,157.5 L440.4,156.3 L440.5,155.2 L440.7,154.0 L440.8,152.9 L440.9,151.8 L441.1,150.6 L441.2,149.5 L441.3,148.4 L441.5,147.3 L441.6,146.2 L441.7,145.2 L441.9,144.1 L442.0,143.0 L442.1,142.0 L442.3,140.9 L442.4,139.9 L442.6,138.8 L442.7,137.8 L442.8,136.8 L443.0,135.8 L443.1,134.8 L443.2,133.8 L443.4,132.8 L443.5,131.9 L443.6,130.9 L443.8,130.0 L443.9,129.0 L444.0,128.1 L444.2,127.2 L444.3,126.3 L444.4,125.4 L444.6,124.5 L444.7,123.6 L444.8,122.7 L445.0,121.8 L445.1,121.0 L445.2,120.2 L445.4,119.3 L445.5,118.5 L445.6,117.7 L445.8,116.9 L445.9,116.1 L446.0,115.3 L446.2,114.6 L446.3,113.8 L446.5,113.1 L446.6,112.3 L446.7,111.6 L446.9,110.9 L447.0,110.2 L447.1,109.5 L447.3,108.8 L447.4,108.2 L447.5,107.5 L447.7,106.9 L447.8,106.2 L447.9,105.6 L448.1,105.0 L448.2,104.4 L448.3,103.8 L448.5,103.2 L448.6,102.7 L448.7,102.1 L448.9,101.6 L449.0,101.0 L449.1,100.5 L449.3,100.0 L449.4,99.5 L449.5,99.1 L449.7,98.6 L449.8,98.1 L449.9,97.7 L450.1,97.3 L450.2,96.8 L450.3,96.4 L450.5,96.0 L450.6,95.7 L450.8,95.3 L450.9,94.9 L451.0,94.6 L451.2,94.3 L451.3,93.9 L451.4,93.6 L451.6,93.3 L451.7,93.0 L451.8,92.8 L452.0,92.5 L452.1,92.3 L452.2,92.0 L452.4,91.8 L452.5,91.6 L452.6,91.4 L452.8,91.2 L452.9,91.0 L453.0,90.9 L453.2,90.7 L453.3,90.6 L453.4,90.5 L453.6,90.3 L453.7,90.2 L453.8,90.2 L454.0,90.1 L454.1,90.0 L454.2,90.0 L454.4,89.9 L454.5,89.9 L454.7,89.9 L454.8,89.9 L454.9,89.9 L455.1,89.9 L455.2,89.9 L455.3,90.0 L455.5,90.0 L455.6,90.1 L455.7,90.2 L455.9,90.3 L456.0,90.4 L456.1,90.5 L456.3,90.6 L456.4,90.7 L456.5,90.9 L456.7,91.0 L456.8,91.2 L456.9,91.4 L457.1,91.6 L457.2,91.8 L457.3,92.0 L457.5,92.2 L457.6,92.5 L457.7,92.7 L457.9,93.0 L458.0,93.2 L458.1,93.5 L458.3,93.8 L458.4,94.1 L458.5,94.4 L458.7,94.7 L458.8,95.1 L459.0,95.4 L459.1,95.8 L459.2,96.1 L459.4,96.5 L459.5,96.9 L459.6,97.3 L459.8,97.7 L459.9,98.1 L460.0,98.5 L460.2,99.0 L460.3,99.4 L460.4,99.9 L460.6,100.3 L460.7,100.8 L460.8,101.3 L461.0,101.8 L461.1,102.3 L461.2,102.8 L461.4,103.3 L461.5,103.8 L461.6,104.4 L461.8,104.9 L461.9,105.5 L462.0,106.0 L462.2,106.6 L462.3,107.2 L462.4,107.7 L462.6,108.3 L462.7,108.9 L462.9,109.5 L463.0,110.2 L463.1,110.8 L463.3,111.4 L463.4,112.1 L463.5,112.7 L463.7,113.4 L463.8,114.0 L463.9,114.7 L464.1,115.4 L464.2,116.1 L464.3,116.7 L464.5,117.4 L464.6,118.1 L464.7,118.9 L464.9,119.6 L465.0,120.3 L465.1,121.0 L465.3,121.7 L465.4,122.5 L465.5,123.2 L465.7,124.0 L465.8,124.7 L465.9,125.5 L466.1,126.3 L466.2,127.0 L466.3,127.8 L466.5,128.6 L466.6,129.4 L466.7,130.2 L466.9,131.0 L467.0,131.8 L467.2,132.6 L467.3,133.4 L467.4,134.2 L467.6,135.0 L467.7,135.9 L467.8,136.7 L468.0,137.5 L468.1,138.4 L468.2,139.2 L468.4,140.0 L468.5,140.9 L468.6,141.7 L468.8,142.6 L468.9,143.4 L469.0,144.3 L469.2,145.2 L469.3,146.0 L469.4,146.9 L469.6,147.7 L469.7,148.6 L469.8,149.5 L470.0,150.4 L470.1,151.2 L470.2,152.1 L470.4,153.0 L470.5,153.9 L470.6,154.8 L470.8,155.6 L470.9,156.5 L471.1,157.4 L471.2,158.3 L471.3,159.2 L471.5,160.1 L471.6,161.0 L471.7,161.9 L471.9,162.7 L472.0,163.6 L472.1,164.5 L472.3,165.4 L472.4,166.3 L472.5,167.2 L472.7,168.1 L472.8,169.0 L472.9,169.9 L473.1,170.8 L473.2,171.6 L473.3,172.5 L473.5,173.4 L473.6,174.3 L473.7,175.2 L473.9,176.1 L474.0,177.0 L474.1,177.8 L474.3,178.7 L474.4,179.6 L474.5,180.5 L474.7,181.3 L474.8,182.2 L474.9,183.1 L475.1,184.0 L475.2,184.8 L475.4,185.7 L475.5,186.5 L475.6,187.4 L475.8,188.3 L475.9,189.1 L476.0,190.0 L476.2,190.8 L476.3,191.6 L476.4,192.5 L476.6,193.3 L476.7,194.2 L476.8,195.0 L477.0,195.8 L477.1,196.6 L477.2,197.5 L477.4,198.3 L477.5,199.1 L477.6,199.9 L477.8,200.7 L477.9,201.5 L478.0,202.3 L478.2,203.1 L478.3,203.9 L478.4,204.6 L478.6,205.4 L478.7,206.2 L478.8,207.0 L479.0,207.7 L479.1,208.5 L479.3,209.2 L479.4,210.0 L479.5,210.7 L479.7,211.5 L479.8,212.2 L479.9,212.9 L480.1,213.6 L480.2,214.3 L480.3,215.1 L480.5,215.8 L480.6,216.5 L480.7,217.1 L480.9,217.8 L481.0,218.5 L481.1,219.2 L481.3,219.9 L481.4,220.5 L481.5,221.2 L481.7,221.8 L481.8,222.5 L481.9,223.1 L482.1,223.7 L482.2,224.4 L482.3,225.0 L482.5,225.6 L482.6,226.2 L482.7,226.8 L482.9,227.4 L483.0,228.0 L483.1,228.5 L483.3,229.1 L483.4,229.7 L483.6,230.2 L483.7,230.8 L483.8,231.3 L484.0,231.9 L484.1,232.4 L484.2,232.9 L484.4,233.4 L484.5,233.9 L484.6,234.4 L484.8,234.9 L484.9,235.4 L485.0,235.9 L485.2,236.3 L485.3,236.8 L485.4,237.3 L485.6,237.7 L485.7,238.1 L485.8,238.6 L486.0,239.0 L486.1,239.4 L486.2,239.8 L486.4,240.2 L486.5,240.6 L486.6,241.0 L486.8,241.4 L486.9,241.7 L487.0,242.1 L487.2,242.5 L487.3,242.8 L487.5,243.1 L487.6,243.5 L487.7,243.8 L487.9,244.1 L488.0,244.4 L488.1,244.7 L488.3,245.0 L488.4,245.3 L488.5,245.6 L488.7,245.8 L488.8,246.1 L488.9,246.3 L489.1,246.6 L489.2,246.8 L489.3,247.1 L489.5,247.3 L489.6,247.5 L489.7,247.7 L489.9,247.9 L490.0,248.1 L490.1,248.3 L490.3,248.4 L490.4,248.6 L490.5,248.7 L490.7,248.9 L490.8,249.0 L490.9,249.2 L491.1,249.3 L491.2,249.4 L491.3,249.5 L491.5,249.6 L491.6,249.7 L491.8,249.8 L491.9,249.9 L492.0,250.0 L492.2,250.0 L492.3,250.1 L492.4,250.1 L492.6,250.2 L492.7,250.2 L492.8,250.3 L493.0,250.3 L493.1,250.3 L493.2,250.3 L493.4,250.3 L493.5,250.3 L493.6,250.3 L493.8,250.2 L493.9,250.2 L494.0,250.2 L494.2,250.1 L494.3,250.1 L494.4,250.0 L494.6,250.0 L494.7,249.9 L494.8,249.8 L495.0,249.7 L495.1,249.6 L495.2,249.5 L495.4,249.4 L495.5,249.3 L495.7,249.2 L495.8,249.1 L495.9,249.0 L496.1,248.8 L496.2,248.7 L496.3,248.5 L496.5,248.4 L496.6,248.2 L496.7,248.0 L496.9,247.9 L497.0,247.7 L497.1,247.5 L497.3,247.3 L497.4,247.1 L497.5,246.9 L497.7,246.7 L497.8,246.5 L497.9,246.3 L498.1,246.0 L498.2,245.8 L498.3,245.6 L498.5,245.3 L498.6,245.1 L498.7,244.8 L498.9,244.6 L499.0,244.3 L499.1,244.0 L499.3,243.8 L499.4,243.5 L499.6,243.2 L499.7,242.9 L499.8,242.6 L500.0,242.3 L500.1,242.0 L500.2,241.7 L500.4,241.4 L500.5,241.1 L500.6,240.8 L500.8,240.5 L500.9,240.1 L501.0,239.8 L501.2,239.5 L501.3,239.1 L501.4,238.8 L501.6,238.5 L501.7,238.1 L501.8,237.8 L502.0,237.4 L502.1,237.0 L502.2,236.7 L502.4,236.3 L502.5,235.9 L502.6,235.6 L502.8,235.2 L502.9,234.8 L503.0,234.4 L503.2,234.1 L503.3,233.7 L503.4,233.3 L503.6,232.9 L503.7,232.5 L503.9,232.1 L504.0,231.7 L504.1,231.3 L504.3,230.9 L504.4,230.5 L504.5,230.1 L504.7,229.7 L504.8,229.3 L504.9,228.9 L505.1,228.4 L505.2,228.0 L505.3,227.6 L505.5,227.2 L505.6,226.8 L505.7,226.4 L505.9,225.9 L506.0,225.5 L506.1,225.1 L506.3,224.7 L506.4,224.2 L506.5,223.8 L506.7,223.4 L506.8,223.0 L506.9,222.5 L507.1,222.1 L507.2,221.7 L507.3,221.2 L507.5,220.8 L507.6,220.4 L507.8,219.9 L507.9,219.5 L508.0,219.1 L508.2,218.6 L508.3,218.2 L508.4,217.8 L508.6,217.4 L508.7,216.9 L508.8,216.5 L509.0,216.1 L509.1,215.6 L509.2,215.2 L509.4,214.8 L509.5,214.4 L509.6,213.9 L509.8,213.5 L509.9,213.1 L510.0,212.7 L510.2,212.2 L510.3,211.8 L510.4,211.4 L510.6,211.0 L510.7,210.6 L510.8,210.1 L511.0,209.7 L511.1,209.3 L511.2,208.9 L511.4,208.5 L511.5,208.1 L511.6,207.7 L511.8,207.3 L511.9,206.9 L512.1,206.5 L512.2,206.1 L512.3,205.7 L512.5,205.3 L512.6,204.9 L512.7,204.5 L512.9,204.1 L513.0,203.8 L513.1,203.4 L513.3,203.0 L513.4,202.6 L513.5,202.3 L513.7,201.9 L513.8,201.5 L513.9,201.2 L514.1,200.8 L514.2,200.4 L514.3,200.1 L514.5,199.7 L514.6,199.4 L514.7,199.0 L514.9,198.7 L515.0,198.4 L515.1,198.0 L515.3,197.7 L515.4,197.4 L515.5,197.0 L515.7,196.7 L515.8,196.4 L516.0,196.1 L516.1,195.8 L516.2,195.4 L516.4,195.1 L516.5,194.8 L516.6,194.5 L516.8,194.2 L516.9,194.0 L517.0,193.7 L517.2,193.4 L517.3,193.1 L517.4,192.8 L517.6,192.6 L517.7,192.3 L517.8,192.0 L518.0,191.8 L518.1,191.5 L518.2,191.3 L518.4,191.0 L518.5,190.8 L518.6,190.5 L518.8,190.3 L518.9,190.1 L519.0,189.8 L519.2,189.6 L519.3,189.4 L519.4,189.2 L519.6,189.0 L519.7,188.8 L519.8,188.6 L520.0,188.4 L520.1,188.2 L520.3,188.0 L520.4,187.8 L520.5,187.6 L520.7,187.4 L520.8,187.3 L520.9,187.1 L521.1,186.9 L521.2,186.8 L521.3,186.6 L521.5,186.5 L521.6,186.3 L521.7,186.2 L521.9,186.1 L522.0,185.9 L522.1,185.8 L522.3,185.7 L522.4,185.6 L522.5,185.4 L522.7,185.3 L522.8,185.2 L522.9,185.1 L523.1,185.0 L523.2,184.9 L523.3,184.8 L523.5,184.8 L523.6,184.7 L523.7,184.6 L523.9,184.5 L524.0,184.5 L524.2,184.4 L524.3,184.4 L524.4,184.3 L524.6,184.2 L524.7,184.2 L524.8,184.2 L525.0,184.1 L525.1,184.1 L525.2,184.1 L525.4,184.0 L525.5,184.0 L525.6,184.0 L525.8,184.0 L525.9,184.0 L526.0,184.0 L526.2,184.0 L526.3,184.0 L526.4,184.0 L526.6,184.0 L526.7,184.0 L526.8,184.0 L527.0,184.1 L527.1,184.1 L527.2,184.1 L527.4,184.2 L527.5,184.2 L527.6,184.2 L527.8,184.3 L527.9,184.3 L528.0,184.4 L528.2,184.4 L528.3,184.5 L528.5,184.6 L528.6,184.6 L528.7,184.7 L528.9,184.8 L529.0,184.9 L529.1,184.9 L529.3,185.0 L529.4,185.1 L529.5,185.2 L529.7,185.3 L529.8,185.4 L529.9,185.5 L530.1,185.6 L530.2,185.7 L530.3,185.8 L530.5,185.9 L530.6,186.0 L530.7,186.1 L530.9,186.3 L531.0,186.4 L531.1,186.5 L531.3,186.6 L531.4,186.8 L531.5,186.9 L531.7,187.0 L531.8,187.2 L531.9,187.3 L532.1,187.4 L532.2,187.6 L532.4,187.7 L532.5,187.9 L532.6,188.0 L532.8,188.2 L532.9,188.3 L533.0,188.5 L533.2,188.6 L533.3,188.8 L533.4,189.0 L533.6,189.1 L533.7,189.3 L533.8,189.5 L534.0,189.6 L534.1,189.8 L534.2,190.0 L534.4,190.1 L534.5,190.3 L534.6,190.5 L534.8,190.6 L534.9,190.8 L535.0,191.0 L535.2,191.2 L535.3,191.3 L535.4,191.5 L535.6,191.7 L535.7,191.9 L535.8,192.1 L536.0,192.2 L536.1,192.4 L536.2,192.6 L536.4,192.8 L536.5,193.0 L536.7,193.2 L536.8,193.3 L536.9,193.5 L537.1,193.7 L537.2,193.9 L537.3,194.1 L537.5,194.3 L537.6,194.4 L537.7,194.6 L537.9,194.8 L538.0,195.0 L538.1,195.2 L538.3,195.4 L538.4,195.5 L538.5,195.7 L538.7,195.9 L538.8,196.1 L538.9,196.3 L539.1,196.4 L539.2,196.6 L539.3,196.8 L539.5,197.0 L539.6,197.1 L539.7,197.3 L539.9,197.5 L540.0,197.6 L540.1,197.8 L540.3,198.0 L540.4,198.1 L540.6,198.3 L540.7,198.5 L540.8,198.6 L541.0,198.8 L541.1,199.0 L541.2,199.1 L541.4,199.3 L541.5,199.4 L541.6,199.6 L541.8,199.7 L541.9,199.9 L542.0,200.0 L542.2,200.2 L542.3,200.3 L542.4,200.4 L542.6,200.6 L542.7,200.7 L542.8,200.8 L543.0,201.0 L543.1,201.1 L543.2,201.2 L543.4,201.3 L543.5,201.5 L543.6,201.6 L543.8,201.7 L543.9,201.8 L544.0,201.9 L544.2,202.0 L544.3,202.1 L544.4,202.2 L544.6,202.3 L544.7,202.4 L544.9,202.5 L545.0,202.6 L545.1,202.7 L545.3,202.7 L545.4,202.8 L545.5,202.9 L545.7,203.0 L545.8,203.0 L545.9,203.1 L546.1,203.2 L546.2,203.2 L546.3,203.3 L546.5,203.3 L546.6,203.4 L546.7,203.4 L546.9,203.4 L547.0,203.5 L547.1,203.5 L547.3,203.5 L547.4,203.6 L547.5,203.6 L547.7,203.6 L547.8,203.6 L547.9,203.6 L548.1,203.6 L548.2,203.6 L548.3,203.6 L548.5,203.6 L548.6,203.6 L548.8,203.6 L548.9,203.6 L549.0,203.5 L549.2,203.5 L549.3,203.5 L549.4,203.4 L549.6,203.4 L549.7,203.4 L549.8,203.3 L550.0,203.2 L550.1,203.2 L550.2,203.1 L550.4,203.1 L550.5,203.0 L550.6,202.9 L550.8,202.8 L550.9,202.8 L551.0,202.7 L551.2,202.6 L551.3,202.5 L551.4,202.4 L551.6,202.3 L551.7,202.2 L551.8,202.0 L552.0,201.9 L552.1,201.8 L552.2,201.7 L552.4,201.5 L552.5,201.4 L552.7,201.3 L552.8,201.1 L552.9,201.0 L553.1,200.8 L553.2,200.7 L553.3,200.5 L553.5,200.3 L553.6,200.2 L553.7,200.0 L553.9,199.8 L554.0,199.6 L554.1,199.4 L554.3,199.2 L554.4,199.0 L554.5,198.8 L554.7,198.6 L554.8,198.4 L554.9,198.2 L555.1,198.0 L555.2,197.8 L555.3,197.5 L555.5,197.3 L555.6,197.1 L555.7,196.8 L555.9,196.6 L556.0,196.3 L556.1,196.1 L556.3,195.8 L556.4,195.6 L556.5,195.3 L556.7,195.0 L556.8,194.8 L557.0,194.5 L557.1,194.2 L557.2,193.9 L557.4,193.6 L557.5,193.4 L557.6,193.1 L557.8,192.8 L557.9,192.5 L558.0,192.2 L558.2,191.8 L558.3,191.5 L558.4,191.2 L558.6,190.9 L558.7,190.6 L558.8,190.2 L559.0,189.9 L559.1,189.6 L559.2,189.2 L559.4,188.9 L559.5,188.6 L559.6,188.2 L559.8,187.9 L559.9,187.5 L560.0,187.2 L560.2,186.8 L560.3,186.4 L560.4,186.1 L560.6,185.7 L560.7,185.3 L560.9,185.0 L561.0,184.6 L561.1,184.2 L561.3,183.8 L561.4,183.5 L561.5,183.1 L561.7,182.7 L561.8,182.3 L561.9,181.9 L562.1,181.5 L562.2,181.1 L562.3,180.7 L562.5,180.3 L562.6,179.9 L562.7,179.5 L562.9,179.1 L563.0,178.7 L563.1,178.3 L563.3,177.9 L563.4,177.5 L563.5,177.0 L563.7,176.6 L563.8,176.2 L563.9,175.8 L564.1,175.4 L564.2,174.9 L564.3,174.5 L564.5,174.1 L564.6,173.7 L564.7,173.2 L564.9,172.8 L565.0,172.4 L565.2,172.0 L565.3,171.5 L565.4,171.1 L565.6,170.7 L565.7,170.2 L565.8,169.8 L566.0,169.4 L566.1,169.0 L566.2,168.5 L566.4,168.1 L566.5,167.7 L566.6,167.2 L566.8,166.8 L566.9,166.4 L567.0,165.9 L567.2,165.5 L567.3,165.1 L567.4,164.6 L567.6,164.2 L567.7,163.8 L567.8,163.4 L568.0,162.9 L568.1,162.5 L568.2,162.1 L568.4,161.7 L568.5,161.2 L568.6,160.8 L568.8,160.4 L568.9,160.0 L569.1,159.6 L569.2,159.2 L569.3,158.7 L569.5,158.3 L569.6,157.9 L569.7,157.5 L569.9,157.1 L570.0,156.7 L570.1,156.3 L570.3,155.9 L570.4,155.5 L570.5,155.1 L570.7,154.7 L570.8,154.3 L570.9,153.9 L571.1,153.5 L571.2,153.2 L571.3,152.8 L571.5,152.4 L571.6,152.0 L571.7,151.7 L571.9,151.3 L572.0,150.9 L572.1,150.6 L572.3,150.2 L572.4,149.8 L572.5,149.5 L572.7,149.1 L572.8,148.8 L572.9,148.5 L573.1,148.1 L573.2,147.8 L573.4,147.5 L573.5,147.1 L573.6,146.8 L573.8,146.5 L573.9,146.2 L574.0,145.9 L574.2,145.6 L574.3,145.3 L574.4,145.0 L574.6,144.7 L574.7,144.4 L574.8,144.1 L575.0,143.8 L575.1,143.6 L575.2,143.3 L575.4,143.0 L575.5,142.8 L575.6,142.5 L575.8,142.3 L575.9,142.0 L576.0,141.8 L576.2,141.6 L576.3,141.3 L576.4,141.1 L576.6,140.9 L576.7,140.7 L576.8,140.5 L577.0,140.3 L577.1,140.1 L577.3,139.9 L577.4,139.7 L577.5,139.6 L577.7,139.4 L577.8,139.2 L577.9,139.1 L578.1,138.9 L578.2,138.8 L578.3,138.6 L578.5,138.5 L578.6,138.4 L578.7,138.3 L578.9,138.2 L579.0,138.1 L579.1,138.0 L579.3,137.9 L579.4,137.8 L579.5,137.7 L579.7,137.6 L579.8,137.6 L579.9,137.5 L580.1,137.5 L580.2,137.4 L580.3,137.4 L580.5,137.4 L580.6,137.3 L580.7,137.3 L580.9,137.3 L581.0,137.3 L581.1,137.3 L581.3,137.3 L581.4,137.3 L581.6,137.4 L581.7,137.4 L581.8,137.5 L582.0,137.5 L582.1,137.6 L582.2,137.6 L582.4,137.7 L582.5,137.8 L582.6,137.9 L582.8,138.0 L582.9,138.1 L583.0,138.2 L583.2,138.3 L583.3,138.4 L583.4,138.6 L583.6,138.7 L583.7,138.9 L583.8,139.0 L584.0,139.2 L584.1,139.3 L584.2,139.5 L584.4,139.7 L584.5,139.9 L584.6,140.1 L584.8,140.3 L584.9,140.5 L585.0,140.8 L585.2,141.0 L585.3,141.3 L585.5,141.5 L585.6,141.8 L585.7,142.0 L585.9,142.3 L586.0,142.6 L586.1,142.9 L586.3,143.2 L586.4,143.5 L586.5,143.8 L586.7,144.1 L586.8,144.5 L586.9,144.8 L587.1,145.1 L587.2,145.5 L587.3,145.9 L587.5,146.2 L587.6,146.6 L587.7,147.0 L587.9,147.4 L588.0,147.8 L588.1,148.2 L588.3,148.6 L588.4,149.0 L588.5,149.5 L588.7,149.9 L588.8,150.3 L588.9,150.8 L589.1,151.3 L589.2,151.7 L589.3,152.2 L589.5,152.7 L589.6,153.2 L589.8,153.7 L589.9,154.2 L590.0,154.7 L590.2,155.2 L590.3,155.7 L590.4,156.3 L590.6,156.8 L590.7,157.4 L590.8,157.9 L591.0,158.5 L591.1,159.1 L591.2,159.6 L591.4,160.2 L591.5,160.8 L591.6,161.4 L591.8,162.0 L591.9,162.6 L592.0,163.2 L592.2,163.9 L592.3,164.5 L592.4,165.1 L592.6,165.8 L592.7,166.4 L592.8,167.1 L593.0,167.7 L593.1,168.4 L593.2,169.1 L593.4,169.8 L593.5,170.5 L593.7,171.1 L593.8,171.8 L593.9,172.5 L594.1,173.3 L594.2,174.0 L594.3,174.7 L594.5,175.4 L594.6,176.1 L594.7,176.9 L594.9,177.6 L595.0,178.4 L595.1,179.1 L595.3,179.9 L595.4,180.6 L595.5,181.4 L595.7,182.2 L595.8,183.0 L595.9,183.7 L596.1,184.5 L596.2,185.3 L596.3,186.1 L596.5,186.9 L596.6,187.7 L596.7,188.5 L596.9,189.3 L597.0,190.1 L597.1,191.0 L597.3,191.8 L597.4,192.6 L597.5,193.4 L597.7,194.3 L597.8,195.1 L598.0,196.0 L598.1,196.8 L598.2,197.6 L598.4,198.5 L598.5,199.3 L598.6,200.2 L598.8,201.1 L598.9,201.9 L599.0,202.8 L599.2,203.6 L599.3,204.5 L599.4,205.4 L599.6,206.3 L599.7,207.1 L599.8,208.0 L600.0,208.9 L600.1,209.8 L600.2,210.6 L600.4,211.5 L600.5,212.4 L600.6,213.3 L600.8,214.2 L600.9,215.1 L601.0,216.0 L601.2,216.8 L601.3,217.7 L601.4,218.6 L601.6,219.5 L601.7,220.4 L601.9,221.3 L602.0,222.2 L602.1,223.1 L602.3,224.0 L602.4,224.9 L602.5,225.7 L602.7,226.6 L602.8,227.5 L602.9,228.4 L603.1,229.3 L603.2,230.2 L603.3,231.1 L603.5,232.0 L603.6,232.8 L603.7,233.7 L603.9,234.6 L604.0,235.5 L604.1,236.4 L604.3,237.2 L604.4,238.1 L604.5,239.0 L604.7,239.9 L604.8,240.7 L604.9,241.6 L605.1,242.4 L605.2,243.3 L605.3,244.2 L605.5,245.0 L605.6,245.9 L605.8,246.7 L605.9,247.6 L606.0,248.4 L606.2,249.2 L606.3,250.1 L606.4,250.9 L606.6,251.7 L606.7,252.6 L606.8,253.4 L607.0,254.2 L607.1,255.0 L607.2,255.8 L607.4,256.6 L607.5,257.4 L607.6,258.2 L607.8,259.0 L607.9,259.8 L608.0,260.6 L608.2,261.3 L608.3,262.1 L608.4,262.9 L608.6,263.6 L608.7,264.4 L608.8,265.1 L609.0,265.9 L609.1,266.6 L609.2,267.3 L609.4,268.0 L609.5,268.7 L609.6,269.5 L609.8,270.2 L609.9,270.9 L610.1,271.5 L610.2,272.2 L610.3,272.9 L610.5,273.6 L610.6,274.2 L610.7,274.9 L610.9,275.5 L611.0,276.2 L611.1,276.8 L611.3,277.4 L611.4,278.1 L611.5,278.7 L611.7,279.3 L611.8,279.9 L611.9,280.4 L612.1,281.0 L612.2,281.6 L612.3,282.1 L612.5,282.7 L612.6,283.2 L612.7,283.8 L612.9,284.3 L613.0,284.8 L613.1,285.3 L613.3,285.8 L613.4,286.3 L613.5,286.8 L613.7,287.3 L613.8,287.7 L614.0,288.2 L614.1,288.6 L614.2,289.1 L614.4,289.5 L614.5,289.9 L614.6,290.3 L614.8,290.7 L614.9,291.1 L615.0,291.5 L615.2,291.8 L615.3,292.2 L615.4,292.5 L615.6,292.9 L615.7,293.2 L615.8,293.5 L616.0,293.8 L616.1,294.1 L616.2,294.4 L616.4,294.6 L616.5,294.9 L616.6,295.1 L616.8,295.4 L616.9,295.6 L617.0,295.8 L617.2,296.0 L617.3,296.2 L617.4,296.4 L617.6,296.6 L617.7,296.7 L617.8,296.9 L618.0,297.0 L618.1,297.1 L618.3,297.2 L618.4,297.3 L618.5,297.4 L618.7,297.5 L618.8,297.6 L618.9,297.6 L619.1,297.7 L619.2,297.7 L619.3,297.7 L619.5,297.7 L619.6,297.7 L619.7,297.7 L619.9,297.7 L620.0,297.6 L620.1,297.6 L620.3,297.5 L620.4,297.4 L620.5,297.4 L620.7,297.3 L620.8,297.1 L620.9,297.0 L621.1,296.9 L621.2,296.7 L621.3,296.6 L621.5,296.4 L621.6,296.2 L621.7,296.0 L621.9,295.8 L622.0,295.6 L622.2,295.3 L622.3,295.1 L622.4,294.8 L622.6,294.6 L622.7,294.3 L622.8,294.0 L623.0,293.7 L623.1,293.3 L623.2,293.0 L623.4,292.7 L623.5,292.3 L623.6,291.9 L623.8,291.6 L623.9,291.2 L624.0,290.8 L624.2,290.3 L624.3,289.9 L624.4,289.5 L624.6,289.0 L624.7,288.5 L624.8,288.1 L625.0,287.6 L625.1,287.1 L625.2,286.6 L625.4,286.0 L625.5,285.5 L625.6,284.9 L625.8,284.4 L625.9,283.8 L626.0,283.2 L626.2,282.6 L626.3,282.0 L626.5,281.4 L626.6,280.7 L626.7,280.1 L626.9,279.4 L627.0,278.8 L627.1,278.1 L627.3,277.4 L627.4,276.7 L627.5,276.0 L627.7,275.3 L627.8,274.5 L627.9,273.8 L628.1,273.0 L628.2,272.3 L628.3,271.5 L628.5,270.7 L628.6,269.9 L628.7,269.1 L628.9,268.3 L629.0,267.4 L629.1,266.6 L629.3,265.8 L629.4,264.9 L629.5,264.0 L629.7,263.1 L629.8,262.2 L629.9,261.3 L630.1,260.4 L630.2,259.5 L630.4,258.6 L630.5,257.6 L630.6,256.7 L630.8,255.7 L630.9,254.8 L631.0,253.8 L631.2,252.8 L631.3,251.8 L631.4,250.8 L631.6,249.8 L631.7,248.8 L631.8,247.7 L632.0,246.7 L632.1,245.6 L632.2,244.6 L632.4,243.5 L632.5,242.4 L632.6,241.4 L632.8,240.3 L632.9,239.2 L633.0,238.1 L633.2,237.0 L633.3,235.8 L633.4,234.7 L633.6,233.6 L633.7,232.4 L633.8,231.3 L634.0,230.1 L634.1,229.0 L634.2,227.8 L634.4,226.6 L634.5,225.5 L634.7,224.3 L634.8,223.1 L634.9,221.9 L635.1,220.7 L635.2,219.5 L635.3,218.3 L635.5,217.0 L635.6,215.8 L635.7,214.6 L635.9,213.3 L636.0,212.1 L636.1,210.9 L636.3,209.6 L636.4,208.3 L636.5,207.1 L636.7,205.8 L636.8,204.6 L636.9,203.3 L637.1,202.0 L637.2,200.7 L637.3,199.4 L637.5,198.2 L637.6,196.9 L637.7,195.6 L637.9,194.3 L638.0,193.0 L638.1,191.7 L638.3,190.4 L638.4,189.1 L638.6,187.8 L638.7,186.5 L638.8,185.2 L639.0,183.8 L639.1,182.5 L639.2,181.2 L639.4,179.9 L639.5,178.6 L639.6,177.3 L639.8,175.9 L639.9,174.6 L640.0,173.3 L640.2,172.0 L640.3,170.6 L640.4,169.3 L640.6,168.0 L640.7,166.7 L640.8,165.4 L641.0,164.0 L641.1,162.7 L641.2,161.4 L641.4,160.1 L641.5,158.8 L641.6,157.4 L641.8,156.1 L641.9,154.8 L642.0,153.5 L642.2,152.2 L642.3,150.9 L642.4,149.6 L642.6,148.3 L642.7,147.0 L642.9,145.7 L643.0,144.4 L643.1,143.1 L643.3,141.8 L643.4,140.5 L643.5,139.3 L643.7,138.0 L643.8,136.7 L643.9,135.4 L644.1,134.2 L644.2,132.9 L644.3,131.7 L644.5,130.4 L644.6,129.2 L644.7,127.9 L644.9,126.7 L645.0,125.4 L645.1,124.2 L645.3,123.0 L645.4,121.8 L645.5,120.6 L645.7,119.4 L645.8,118.2 L645.9,117.0 L646.1,115.8 L646.2,114.6 L646.3,113.5 L646.5,112.3 L646.6,111.1 L646.8,110.0 L646.9,108.8 L647.0,107.7 L647.2,106.6 L647.3,105.5 L647.4,104.3 L647.6,103.2 L647.7,102.2 L647.8,101.1 L648.0,100.0 L648.1,98.9 L648.2,97.9 L648.4,96.8 L648.5,95.8 L648.6,94.7 L648.8,93.7 L648.9,92.7 L649.0,91.7 L649.2,90.7 L649.3,89.7 L649.4,88.7 L649.6,87.8 L649.7,86.8 L649.8,85.9 L650.0,84.9 L650.1,84.0 L650.2,83.1 L650.4,82.2 L650.5,81.3 L650.6,80.4 L650.8,79.5 L650.9,78.7 L651.1,77.8 L651.2,77.0 L651.3,76.2 L651.5,75.4 L651.6,74.6 L651.7,73.8 L651.9,73.0 L652.0,72.2 L652.1,71.5 L652.3,70.8 L652.4,70.0 L652.5,69.3 L652.7,68.6 L652.8,67.9 L652.9,67.3 L653.1,66.6 L653.2,65.9 L653.3,65.3 L653.5,64.7 L653.6,64.1 L653.7,63.5 L653.9,62.9 L654.0,62.3 L654.1,61.8 L654.3,61.2 L654.4,60.7 L654.5,60.2 L654.7,59.7 L654.8,59.2 L655.0,58.8 L655.1,58.3 L655.2,57.9 L655.4,57.4 L655.5,57.0 L655.6,56.6 L655.8,56.3 L655.9,55.9 L656.0,55.5 L656.2,55.2 L656.3,54.9 L656.4,54.6 L656.6,54.3 L656.7,54.0 L656.8,53.7 L657.0,53.5 L657.1,53.3 L657.2,53.1 L657.4,52.9 L657.5,52.7 L657.6,52.5 L657.8,52.4 L657.9,52.2 L658.0,52.1 L658.2,52.0 L658.3,51.9 L658.4,51.8 L658.6,51.8 L658.7,51.7 L658.8,51.7 L659.0,51.7 L659.1,51.7 L659.3,51.7 L659.4,51.8 L659.5,51.8 L659.7,51.9 L659.8,52.0 L659.9,52.1 L660.1,52.2 L660.2,52.3 L660.3,52.5 L660.5,52.6 L660.6,52.8 L660.7,53.0 L660.9,53.2 L661.0,53.4 L661.1,53.7 L661.3,54.0 L661.4,54.2 L661.5,54.5 L661.7,54.8 L661.8,55.2 L661.9,55.5 L662.1,55.9 L662.2,56.2 L662.3,56.6 L662.5,57.0 L662.6,57.4 L662.7,57.9 L662.9,58.3 L663.0,58.8 L663.2,59.3 L663.3,59.8 L663.4,60.3 L663.6,60.8 L663.7,61.4 L663.8,61.9 L664.0,62.5 L664.1,63.1 L664.2,63.7 L664.4,64.4 L664.5,65.0 L664.6,65.6 L664.8,66.3 L664.9,67.0 L665.0,67.7 L665.2,68.4 L665.3,69.1 L665.4,69.9 L665.6,70.7 L665.7,71.4 L665.8,72.2 L666.0,73.0 L666.1,73.8 L666.2,74.7 L666.4,75.5 L666.5,76.4 L666.6,77.3 L666.8,78.2 L666.9,79.1 L667.1,80.0 L667.2,80.9 L667.3,81.9 L667.5,82.8 L667.6,83.8 L667.7,84.8 L667.9,85.8 L668.0,86.8 L668.1,87.8 L668.3,88.9 L668.4,89.9 L668.5,91.0 L668.7,92.1 L668.8,93.2 L668.9,94.3 L669.1,95.4 L669.2,96.5 L669.3,97.6 L669.5,98.8 L669.6,100.0 L669.7,101.1 L669.9,102.3 L670.0,103.5 L670.1,104.8 L670.3,106.0 L670.4,107.2 L670.5,108.5 L670.7,109.7 L670.8,111.0 L670.9,112.3 L671.1,113.6 L671.2,114.9 L671.4,116.2 L671.5,117.5 L671.6,118.8 L671.8,120.2 L671.9,121.5 L672.0,122.9 L672.2,124.3 L672.3,125.6 L672.4,127.0 L672.6,128.4 L672.7,129.8 L672.8,131.2 L673.0,132.7 L673.1,134.1 L673.2,135.5 L673.4,137.0 L673.5,138.5 L673.6,139.9 L673.8,141.4 L673.9,142.9 L674.0,144.4 L674.2,145.9 L674.3,147.4 L674.4,148.9 L674.6,150.4 L674.7,151.9 L674.8,153.4 L675.0,155.0 L675.1,156.5 L675.3,158.1 L675.4,159.6 L675.5,161.2 L675.7,162.7 L675.8,164.3 L675.9,165.9 L676.1,167.5 L676.2,169.1 L676.3,170.6 L676.5,172.2 L676.6,173.8 L676.7,175.4 L676.9,177.0 L677.0,178.7 L677.1,180.3 L677.3,181.9 L677.4,183.5 L677.5,185.1 L677.7,186.7 L677.8,188.4 L677.9,190.0 L678.1,191.6 L678.2,193.3 L678.3,194.9 L678.5,196.5 L678.6,198.2 L678.7,199.8 L678.9,201.5 L679.0,203.1 L679.1,204.7 L679.3,206.4 L679.4,208.0 L679.6,209.7 L679.7,211.3 L679.8,213.0 L680.0,214.6 L680.1,216.2 L680.2,217.9 L680.4,219.5 L680.5,221.2 L680.6,222.8 L680.8,224.4 L680.9,226.1 L681.0,227.7 L681.2,229.3 L681.3,231.0 L681.4,232.6 L681.6,234.2 L681.7,235.8 L681.8,237.4 L682.0,239.1 L682.1,240.7 L682.2,242.3 L682.4,243.9 L682.5,245.5 L682.6,247.1 L682.8,248.7 L682.9,250.2 L683.0,251.8 L683.2,253.4 L683.3,255.0 L683.5,256.5 L683.6,258.1 L683.7,259.7 L683.9,261.2 L684.0,262.7 L684.1,264.3 L684.3,265.8 L684.4,267.3 L684.5,268.8 L684.7,270.4 L684.8,271.9 L684.9,273.4 L685.1,274.8 L685.2,276.3 L685.3,277.8 L685.5,279.3 L685.6,280.7 L685.7,282.2 L685.9,283.6 L686.0,285.0 L686.1,286.5 L686.3,287.9 L686.4,289.3 L686.5,290.7 L686.7,292.0 L686.8,293.4 L686.9,294.8 L687.1,296.1 L687.2,297.5 L687.3,298.8 L687.5,300.1 L687.6,301.5 L687.8,302.8 L687.9,304.1 L688.0,305.3 L688.2,306.6 L688.3,307.9 L688.4,309.1 L688.6,310.3 L688.7,311.6 L688.8,312.8 L689.0,314.0 L689.1,315.2 L689.2,316.3 L689.4,317.5 L689.5,318.6 L689.6,319.8 L689.8,320.9 L689.9,322.0 L690.0,323.1 L690.2,324.2 L690.3,325.3 L690.4,326.3 L690.6,327.4 L690.7,328.4 L690.8,329.4 L691.0,330.4 L691.1,331.4 L691.2,332.3 L691.4,333.3 L691.5,334.2 L691.7,335.2 L691.8,336.1 L691.9,337.0 L692.1,337.9 L692.2,338.7 L692.3,339.6 L692.5,340.4 L692.6,341.2 L692.7,342.0 L692.9,342.8 L693.0,343.6 L693.1,344.3 L693.3,345.1 L693.4,345.8 L693.5,346.5 L693.7,347.2 L693.8,347.9 L693.9,348.5 L694.1,349.2 L694.2,349.8 L694.3,350.4 L694.5,351.0 L694.6,351.6 L694.7,352.1 L694.9,352.6 L695.0,353.2 L695.1,353.7 L695.3,354.2 L695.4,354.6 L695.5,355.1 L695.7,355.5 L695.8,355.9 L696.0,356.3 L696.1,356.7 L696.2,357.1 L696.4,357.4 L696.5,357.7 L696.6,358.0 L696.8,358.3 L696.9,358.6 L697.0,358.9 L697.2,359.1 L697.3,359.3 L697.4,359.5 L697.6,359.7 L697.7,359.9 L697.8,360.0 L698.0,360.1 L698.1,360.2 L698.2,360.3 L698.4,360.4 L698.5,360.5 L698.6,360.5 L698.8,360.5 L698.9,360.5 L699.0,360.5 L699.2,360.4 L699.3,360.4 L699.4,360.3 L699.6,360.2 L699.7,360.1 L699.9,360.0 L700.0,359.8 L700.1,359.7 L700.3,359.5 L700.4,359.3 L700.5,359.0 L700.7,358.8 L700.8,358.5 L700.9,358.2 L701.1,357.9 L701.2,357.6 L701.3,357.3 L701.5,356.9 L701.6,356.6 L701.7,356.2 L701.9,355.8 L702.0,355.3 L702.1,354.9 L702.3,354.4 L702.4,354.0 L702.5,353.5 L702.7,352.9 L702.8,352.4 L702.9,351.8 L703.1,351.3 L703.2,350.7 L703.3,350.1 L703.5,349.5 L703.6,348.8 L703.7,348.2 L703.9,347.5 L704.0,346.8 L704.2,346.1 L704.3,345.3 L704.4,344.6 L704.6,343.8 L704.7,343.0 L704.8,342.3 L705.0,341.4 L705.1,340.6 L705.2,339.8 L705.4,338.9 L705.5,338.0 L705.6,337.1 L705.8,336.2 L705.9,335.3 L706.0,334.3 L706.2,333.4 L706.3,332.4 L706.4,331.4 L706.6,330.4 L706.7,329.3 L706.8,328.3 L707.0,327.2 L707.1,326.2 L707.2,325.1 L707.4,324.0 L707.5,322.9 L707.6,321.7 L707.8,320.6 L707.9,319.4 L708.1,318.2 L708.2,317.0 L708.3,315.8 L708.5,314.6 L708.6,313.4 L708.7,312.1 L708.9,310.9 L709.0,309.6 L709.1,308.3 L709.3,307.0 L709.4,305.7 L709.5,304.4 L709.7,303.0 L709.8,301.7 L709.9,300.3 L710.1,298.9 L710.2,297.5 L710.3,296.1 L710.5,294.7 L710.6,293.3 L710.7,291.8 L710.9,290.4 L711.0,288.9 L711.1,287.5 L711.3,286.0 L711.4,284.5 L711.5,283.0 L711.7,281.4 L711.8,279.9 L711.9,278.4 L712.1,276.8 L712.2,275.3 L712.4,273.7 L712.5,272.1 L712.6,270.5 L712.8,269.0 L712.9,267.3 L713.0,265.7 L713.2,264.1 L713.3,262.5 L713.4,260.8 L713.6,259.2 L713.7,257.5 L713.8,255.9 L714.0,254.2 L714.1,252.5 L714.2,250.8 L714.4,249.2 L714.5,247.5 L714.6,245.8 L714.8,244.0 L714.9,242.3 L715.0,240.6 L715.2,238.9 L715.3,237.1 L715.4,235.4 L715.6,233.6 L715.7,231.9 L715.8,230.1 L716.0,228.4 L716.1,226.6 L716.3,224.8 L716.4,223.1 L716.5,221.3 L716.7,219.5 L716.8,217.7 L716.9,215.9 L717.1,214.1 L717.2,212.4 L717.3,210.6 L717.5,208.8 L717.6,207.0 L717.7,205.2 L717.9,203.3 L718.0,201.5 L718.1,199.7 L718.3,197.9 L718.4,196.1 L718.5,194.3 L718.7,192.5 L718.8,190.7 L718.9,188.9 L719.1,187.0 L719.2,185.2 L719.3,183.4 L719.5,181.6 L719.6,179.8 L719.7,178.0 L719.9,176.2 L720.0,174.4 L720.2,172.6 L720.3,170.8 L720.4,169.0 L720.6,167.2 L720.7,165.4 L720.8,163.6 L721.0,161.8 L721.1,160.0 L721.2,158.2 L721.4,156.4 L721.5,154.6 L721.6,152.9 L721.8,151.1 L721.9,149.3 L722.0,147.6 L722.2,145.8 L722.3,144.0 L722.4,142.3 L722.6,140.6 L722.7,138.8 L722.8,137.1 L723.0,135.4 L723.1,133.6 L723.2,131.9 L723.4,130.2 L723.5,128.5 L723.6,126.8 L723.8,125.1 L723.9,123.5 L724.0,121.8 L724.2,120.1 L724.3,118.5 L724.5,116.8 L724.6,115.2 L724.7,113.5 L724.9,111.9 L725.0,110.3 L725.1,108.7 L725.3,107.1 L725.4,105.5 L725.5,103.9 L725.7,102.4 L725.8,100.8 L725.9,99.3 L726.1,97.7 L726.2,96.2 L726.3,94.7 L726.5,93.2 L726.6,91.7 L726.7,90.2 L726.9,88.7 L727.0,87.2 L727.1,85.8 L727.3,84.4 L727.4,82.9 L727.5,81.5 L727.7,80.1 L727.8,78.7 L727.9,77.3 L728.1,76.0 L728.2,74.6 L728.4,73.3 L728.5,72.0 L728.6,70.6 L728.8,69.3 L728.9,68.1 L729.0,66.8 L729.2,65.5 L729.3,64.3 L729.4,63.0 L729.6,61.8 L729.7,60.6 L729.8,59.4 L730.0,58.3 L730.1,57.1 L730.2,56.0 L730.4,54.8 L730.5,53.7 L730.6,52.6 L730.8,51.5 L730.9,50.5 L731.0,49.4 L731.2,48.4 L731.3,47.4 L731.4,46.4 L731.6,45.4 L731.7,44.4 L731.8,43.5 L732.0,42.5 L732.1,41.6 L732.2,40.7 L732.4,39.8 L732.5,38.9 L732.7,38.1 L732.8,37.3 L732.9,36.4 L733.1,35.6 L733.2,34.8 L733.3,34.1 L733.5,33.3 L733.6,32.6 L733.7,31.9 L733.9,31.2 L734.0,30.5 L734.1,29.9 L734.3,29.2 L734.4,28.6 L734.5,28.0 L734.7,27.4 L734.8,26.8 L734.9,26.3 L735.1,25.8 L735.2,25.2 L735.3,24.8 L735.5,24.3 L735.6,23.8 L735.7,23.4 L735.9,23.0 L736.0,22.6 L736.1,22.2 L736.3,21.8 L736.4,21.5 L736.6,21.2 L736.7,20.9 L736.8,20.6 L737.0,20.3 L737.1,20.1 L737.2,19.8 L737.4,19.6 L737.5,19.4 L737.6,19.3 L737.8,19.1 L737.9,19.0 L738.0,18.9 L738.2,18.8 L738.3,18.7 L738.4,18.6 L738.6,18.6 L738.7,18.6 L738.8,18.6 L739.0,18.6 L739.1,18.7 L739.2,18.7 L739.4,18.8 L739.5,18.9 L739.6,19.0 L739.8,19.2 L739.9,19.3 L740.0,19.5 L740.2,19.7 L740.3,19.9 L740.4,20.2 L740.6,20.4 L740.7,20.7 L740.9,21.0 L741.0,21.3 L741.1,21.6 L741.3,22.0 L741.4,22.4 L741.5,22.8 L741.7,23.2 L741.8,23.6 L741.9,24.0 L742.1,24.5 L742.2,25.0 L742.3,25.5 L742.5,26.0 L742.6,26.6 L742.7,27.1 L742.9,27.7 L743.0,28.3 L743.1,28.9 L743.3,29.5 L743.4,30.2 L743.5,30.9 L743.7,31.5 L743.8,32.2 L743.9,33.0 L744.1,33.7 L744.2,34.5 L744.3,35.2 L744.5,36.0 L744.6,36.8 L744.8,37.7 L744.9,38.5 L745.0,39.4 L745.2,40.2 L745.3,41.1 L745.4,42.1 L745.6,43.0 L745.7,43.9 L745.8,44.9 L746.0,45.9 L746.1,46.9 L746.2,47.9 L746.4,48.9 L746.5,49.9 L746.6,51.0 L746.8,52.1 L746.9,53.2 L747.0,54.3 L747.2,55.4 L747.3,56.5 L747.4,57.7 L747.6,58.8 L747.7,60.0 L747.8,61.2 L748.0,62.4 L748.1,63.7 L748.2,64.9 L748.4,66.1 L748.5,67.4 L748.6,68.7 L748.8,70.0 L748.9,71.3 L749.1,72.6 L749.2,73.9 L749.3,75.3 L749.5,76.7 L749.6,78.0 L749.7,79.4 L749.9,80.8 L750.0,82.2 L750.1,83.6 L750.3,85.1 L750.4,86.5 L750.5,88.0 L750.7,89.4 L750.8,90.9 L750.9,92.4 L751.1,93.9 L751.2,95.4 L751.3,97.0 L751.5,98.5 L751.6,100.0 L751.7,101.6 L751.9,103.2 L752.0,104.7 L752.1,106.3 L752.3,107.9 L752.4,109.5 L752.5,111.1 L752.7,112.7 L752.8,114.4 L753.0,116.0 L753.1,117.6 L753.2,119.3 L753.4,121.0 L753.5,122.6 L753.6,124.3 L753.8,126.0 L753.9,127.7 L754.0,129.4 L754.2,131.1 L754.3,132.8 L754.4,134.5 L754.6,136.2 L754.7,138.0 L754.8,139.7 L755.0,141.4 L755.1,143.2 L755.2,144.9 L755.4,146.7 L755.5,148.4 L755.6,150.2 L755.8,152.0 L755.9,153.7 L756.0,155.5 L756.2,157.3 L756.3,159.1 L756.4,160.9 L756.6,162.7 L756.7,164.5 L756.8,166.3 L757.0,168.1 L757.1,169.9 L757.3,171.7 L757.4,173.5 L757.5,175.3 L757.7,177.1 L757.8,178.9 L757.9,180.7 L758.1,182.5 L758.2,184.3 L758.3,186.1 L758.5,188.0 L758.6,189.8 L758.7,191.6 L758.9,193.4 L759.0,195.2 L759.1,197.0 L759.3,198.8 L759.4,200.6 L759.5,202.4 L759.7,204.3 L759.8,206.1 L759.9,207.9 L760.1,209.7 L760.2,211.5 L760.3,213.3 L760.5,215.0 L760.6,216.8 L760.7,218.6 L760.9,220.4 L761.0,222.2 L761.2,224.0 L761.3,225.7 L761.4,227.5 L761.6,229.3 L761.7,231.0 L761.8,232.8 L762.0,234.5 L762.1,236.3 L762.2,238.0 L762.4,239.7 L762.5,241.5 L762.6,243.2 L762.8,244.9 L762.9,246.6 L763.0,248.3 L763.2,250.0 L763.3,251.7 L763.4,253.4 L763.6,255.0 L763.7,256.7 L763.8,258.4 L764.0,260.0 L764.1,261.7 L764.2,263.3 L764.4,264.9 L764.5,266.5 L764.6,268.2 L764.8,269.8 L764.9,271.3 L765.0,272.9 L765.2,274.5 L765.3,276.1 L765.5,277.6 L765.6,279.2 L765.7,280.7 L765.9,282.2 L766.0,283.7 L766.1,285.2 L766.3,286.7 L766.4,288.2 L766.5,289.7 L766.7,291.1 L766.8,292.6 L766.9,294.0 L767.1,295.4 L767.2,296.8 L767.3,298.2 L767.5,299.6 L767.6,301.0 L767.7,302.3 L767.9,303.7 L768.0,305.0 L768.1,306.3 L768.3,307.7 L768.4,309.0 L768.5,310.2 L768.7,311.5 L768.8,312.8 L768.9,314.0 L769.1,315.2 L769.2,316.4 L769.4,317.6 L769.5,318.8 L769.6,320.0 L769.8,321.2 L769.9,322.3 L770.0,323.4 L770.2,324.5 L770.3,325.6 L770.4,326.7 L770.6,327.8 L770.7,328.8 L770.8,329.9 L771.0,330.9 L771.1,331.9 L771.2,332.9 L771.4,333.8 L771.5,334.8 L771.6,335.7 L771.8,336.7 L771.9,337.6 L772.0,338.5 L772.2,339.3 L772.3,340.2 L772.4,341.0 L772.6,341.8 L772.7,342.7 L772.8,343.4 L773.0,344.2 L773.1,345.0 L773.3,345.7 L773.4,346.4 L773.5,347.1 L773.7,347.8 L773.8,348.5 L773.9,349.1 L774.1,349.8 L774.2,350.4 L774.3,351.0 L774.5,351.6 L774.6,352.1 L774.7,352.7 L774.9,353.2 L775.0,353.7 L775.1,354.2 L775.3,354.7 L775.4,355.1 L775.5,355.6 L775.7,356.0 L775.8,356.4 L775.9,356.8 L776.1,357.1 L776.2,357.5 L776.3,357.8 L776.5,358.1 L776.6,358.4 L776.7,358.7 L776.9,358.9 L777.0,359.1 L777.1,359.4 L777.3,359.6 L777.4,359.7 L777.6,359.9 L777.7,360.0 L777.8,360.2 L778.0,360.3 L778.1,360.4 L778.2,360.4 L778.4,360.5 L778.5,360.5 L778.6,360.5 L778.8,360.5 L778.9,360.5 L779.0,360.4 L779.2,360.4 L779.3,360.3 L779.4,360.2 L779.6,360.1 L779.7,359.9 L779.8,359.8 L780.0,359.6 L780.1,359.4 L780.2,359.2 L780.4,359.0 L780.5,358.7 L780.6,358.5 L780.8,358.2 L780.9,357.9 L781.0,357.6 L781.2,357.2 L781.3,356.9 L781.5,356.5 L781.6,356.1 L781.7,355.7 L781.9,355.3 L782.0,354.9 L782.1,354.4 L782.3,353.9 L782.4,353.4 L782.5,352.9 L782.7,352.4 L782.8,351.8 L782.9,351.3 L783.1,350.7 L783.2,350.1 L783.3,349.5 L783.5,348.8 L783.6,348.2 L783.7,347.5 L783.9,346.9 L784.0,346.2 L784.1,345.4 L784.3,344.7 L784.4,344.0 L784.5,343.2 L784.7,342.4 L784.8,341.6 L784.9,340.8 L785.1,340.0 L785.2,339.1 L785.3,338.3 L785.5,337.4 L785.6,336.5 L785.8,335.6 L785.9,334.7 L786.0,333.8 L786.2,332.8 L786.3,331.9 L786.4,330.9 L786.6,329.9 L786.7,328.9 L786.8,327.9 L787.0,326.8 L787.1,325.8 L787.2,324.7 L787.4,323.6 L787.5,322.6 L787.6,321.5 L787.8,320.3 L787.9,319.2 L788.0,318.1 L788.2,316.9 L788.3,315.8 L788.4,314.6 L788.6,313.4 L788.7,312.2 L788.8,311.0 L789.0,309.7 L789.1,308.5 L789.2,307.2 L789.4,306.0 L789.5,304.7 L789.7,303.4 L789.8,302.1 L789.9,300.8 L790.1,299.5 L790.2,298.2 L790.3,296.8 L790.5,295.5 L790.6,294.1 L790.7,292.7 L790.9,291.4 L791.0,290.0 L791.1,288.6 L791.3,287.2 L791.4,285.7 L791.5,284.3 L791.7,282.9 L791.8,281.4 L791.9,280.0 L792.1,278.5 L792.2,277.1 L792.3,275.6 L792.5,274.1 L792.6,272.6 L792.7,271.1 L792.9,269.6 L793.0,268.1 L793.1,266.6 L793.3,265.0 L793.4,263.5 L793.5,262.0 L793.7,260.4 L793.8,258.9 L794.0,257.3 L794.1,255.8 L794.2,254.2 L794.4,252.6 L794.5,251.0 L794.6,249.5 L794.8,247.9 L794.9,246.3 L795.0,244.7 L795.2,243.1 L795.3,241.5 L795.4,239.9 L795.6,238.3 L795.7,236.6 L795.8,235.0 L796.0,233.4 L796.1,231.8 L796.2,230.1 L796.4,228.5 L796.5,226.9 L796.6,225.3 L796.8,223.6 L796.9,222.0 L797.0,220.3 L797.2,218.7 L797.3,217.1 L797.4,215.4 L797.6,213.8 L797.7,212.1 L797.9,210.5 L798.0,208.9 L798.1,207.2 L798.3,205.6 L798.4,203.9 L798.5,202.3 L798.7,200.6 L798.8,199.0 L798.9,197.4 L799.1,195.7 L799.2,194.1 L799.3,192.5 L799.5,190.8 L799.6,189.2 L799.7,187.6 L799.9,185.9 L800.0,184.3 L800.1,182.7 L800.3,181.1 L800.4,179.5 L800.5,177.8 L800.7,176.2 L800.8,174.6 L800.9,173.0 L801.1,171.4 L801.2,169.9 L801.3,168.3 L801.5,166.7 L801.6,165.1 L801.7,163.5 L801.9,162.0 L802.0,160.4 L802.2,158.8 L802.3,157.3 L802.4,155.8 L802.6,154.2 L802.7,152.7 L802.8,151.2 L803.0,149.6 L803.1,148.1 L803.2,146.6 L803.4,145.1 L803.5,143.6 L803.6,142.1 L803.8,140.7 L803.9,139.2 L804.0,137.7 L804.2,136.3 L804.3,134.8 L804.4,133.4 L804.6,132.0 L804.7,130.5 L804.8,129.1 L805.0,127.7 L805.1,126.3 L805.2,124.9 L805.4,123.6 L805.5,122.2 L805.6,120.8 L805.8,119.5 L805.9,118.2 L806.1,116.8 L806.2,115.5 L806.3,114.2 L806.5,112.9 L806.6,111.6 L806.7,110.4 L806.9,109.1 L807.0,107.8 L807.1,106.6 L807.3,105.4 L807.4,104.1 L807.5,102.9 L807.7,101.7 L807.8,100.6 L807.9,99.4 L808.1,98.2 L808.2,97.1 L808.3,95.9 L808.5,94.8 L808.6,93.7 L808.7,92.6 L808.9,91.5 L809.0,90.4 L809.1,89.4 L809.3,88.3 L809.4,87.3 L809.5,86.3 L809.7,85.3 L809.8,84.3 L809.9,83.3 L810.1,82.3 L810.2,81.4 L810.4,80.4 L810.5,79.5 L810.6,78.6 L810.8,77.7 L810.9,76.8 L811.0,76.0 L811.2,75.1 L811.3,74.3 L811.4,73.4 L811.6,72.6 L811.7,71.8 L811.8,71.0 L812.0,70.3 L812.1,69.5 L812.2,68.8 L812.4,68.1 L812.5,67.4 L812.6,66.7 L812.8,66.0 L812.9,65.3 L813.0,64.7 L813.2,64.0 L813.3,63.4 L813.4,62.8 L813.6,62.2 L813.7,61.7 L813.8,61.1 L814.0,60.6 L814.1,60.0 L814.3,59.5 L814.4,59.0 L814.5,58.6 L814.7,58.1 L814.8,57.7 L814.9,57.2 L815.1,56.8 L815.2,56.4 L815.3,56.0 L815.5,55.7 L815.6,55.3 L815.7,55.0 L815.9,54.7 L816.0,54.4 L816.1,54.1 L816.3,53.8 L816.4,53.6 L816.5,53.3 L816.7,53.1 L816.8,52.9 L816.9,52.7 L817.1,52.5 L817.2,52.4 L817.3,52.2 L817.5,52.1 L817.6,52.0 L817.7,51.9 L817.9,51.8 L818.0,51.8 L818.1,51.7 L818.3,51.7 L818.4,51.7 L818.6,51.7 L818.7,51.7 L818.8,51.7 L819.0,51.8 L819.1,51.9 L819.2,51.9 L819.4,52.0 L819.5,52.2 L819.6,52.3 L819.8,52.4 L819.9,52.6 L820.0,52.8 L820.2,53.0 L820.3,53.2 L820.4,53.4 L820.6,53.6 L820.7,53.9 L820.8,54.1 L821.0,54.4 L821.1,54.7 L821.2,55.0 L821.4,55.4 L821.5,55.7 L821.6,56.1 L821.8,56.4 L821.9,56.8 L822.0,57.2 L822.2,57.7 L822.3,58.1 L822.5,58.5 L822.6,59.0 L822.7,59.5 L822.9,60.0 L823.0,60.5 L823.1,61.0 L823.3,61.5 L823.4,62.1 L823.5,62.6 L823.7,63.2 L823.8,63.8 L823.9,64.4 L824.1,65.0 L824.2,65.6 L824.3,66.3 L824.5,66.9 L824.6,67.6 L824.7,68.3 L824.9,69.0 L825.0,69.7 L825.1,70.4 L825.3,71.1 L825.4,71.9 L825.5,72.6 L825.7,73.4 L825.8,74.2 L825.9,75.0 L826.1,75.8 L826.2,76.6 L826.4,77.4 L826.5,78.3 L826.6,79.1 L826.8,80.0 L826.9,80.8 L827.0,81.7 L827.2,82.6 L827.3,83.5 L827.4,84.5 L827.6,85.4 L827.7,86.3 L827.8,87.3 L828.0,88.2 L828.1,89.2 L828.2,90.2 L828.4,91.2 L828.5,92.2 L828.6,93.2 L828.8,94.2 L828.9,95.2 L829.0,96.3 L829.2,97.3 L829.3,98.4 L829.4,99.4 L829.6,100.5 L829.7,101.6 L829.8,102.7 L830.0,103.8 L830.1,104.9 L830.2,106.0 L830.4,107.1 L830.5,108.3 L830.7,109.4 L830.8,110.6 L830.9,111.7 L831.1,112.9 L831.2,114.0 L831.3,115.2 L831.5,116.4 L831.6,117.6 L831.7,118.8 L831.9,120.0 L832.0,121.2 L832.1,122.4 L832.3,123.6 L832.4,124.8 L832.5,126.1 L832.7,127.3 L832.8,128.5 L832.9,129.8 L833.1,131.0 L833.2,132.3 L833.3,133.5 L833.5,134.8 L833.6,136.1 L833.7,137.3 L833.9,138.6 L834.0,139.9 L834.1,141.2 L834.3,142.5 L834.4,143.8 L834.6,145.0 L834.7,146.3 L834.8,147.6 L835.0,148.9 L835.1,150.2 L835.2,151.5 L835.4,152.9 L835.5,154.2 L835.6,155.5 L835.8,156.8 L835.9,158.1 L836.0,159.4 L836.2,160.7 L836.3,162.1 L836.4,163.4 L836.6,164.7 L836.7,166.0 L836.8,167.3 L837.0,168.7 L837.1,170.0 L837.2,171.3 L837.4,172.6 L837.5,173.9 L837.6,175.3 L837.8,176.6 L837.9,177.9 L838.0,179.2 L838.2,180.5 L838.3,181.9 L838.4,183.2 L838.6,184.5 L838.7,185.8 L838.9,187.1 L839.0,188.4 L839.1,189.7 L839.3,191.0 L839.4,192.3 L839.5,193.6 L839.7,194.9 L839.8,196.2 L839.9,197.5 L840.1,198.8 L840.2,200.1 L840.3,201.4 L840.5,202.6 L840.6,203.9 L840.7,205.2 L840.9,206.5 L841.0,207.7 L841.1,209.0 L841.3,210.2 L841.4,211.5 L841.5,212.7 L841.7,214.0 L841.8,215.2 L841.9,216.4 L842.1,217.6 L842.2,218.9 L842.3,220.1 L842.5,221.3 L842.6,222.5 L842.8,223.7 L842.9,224.9 L843.0,226.1 L843.2,227.2 L843.3,228.4 L843.4,229.6 L843.6,230.7 L843.7,231.9 L843.8,233.0 L844.0,234.2 L844.1,235.3 L844.2,236.4 L844.4,237.5 L844.5,238.6 L844.6,239.7 L844.8,240.8 L844.9,241.9 L845.0,243.0 L845.2,244.1 L845.3,245.1 L845.4,246.2 L845.6,247.2 L845.7,248.2 L845.8,249.3 L846.0,250.3 L846.1,251.3 L846.2,252.3 L846.4,253.3 L846.5,254.3 L846.6,255.2 L846.8,256.2 L846.9,257.2 L847.1,258.1 L847.2,259.0 L847.3,260.0 L847.5,260.9 L847.6,261.8 L847.7,262.7 L847.9,263.6 L848.0,264.5 L848.1,265.3 L848.3,266.2 L848.4,267.0 L848.5,267.9 L848.7,268.7 L848.8,269.5 L848.9,270.3 L849.1,271.1 L849.2,271.9 L849.3,272.7 L849.5,273.4 L849.6,274.2 L849.7,274.9 L849.9,275.6 L850.0,276.4 L850.1,277.1 L850.3,277.8 L850.4,278.4 L850.5,279.1 L850.7,279.8 L850.8,280.4 L851.0,281.1 L851.1,281.7 L851.2,282.3 L851.4,282.9 L851.5,283.5 L851.6,284.1 L851.8,284.7 L851.9,285.2 L852.0,285.8 L852.2,286.3 L852.3,286.8 L852.4,287.3 L852.6,287.8 L852.7,288.3 L852.8,288.8 L853.0,289.2 L853.1,289.7 L853.2,290.1 L853.4,290.5 L853.5,291.0 L853.6,291.4 L853.8,291.7 L853.9,292.1 L854.0,292.5 L854.2,292.8 L854.3,293.2 L854.4,293.5 L854.6,293.8 L854.7,294.1 L854.8,294.4 L855.0,294.7 L855.1,295.0 L855.3,295.2 L855.4,295.5 L855.5,295.7 L855.7,295.9 L855.8,296.1 L855.9,296.3 L856.1,296.5 L856.2,296.6 L856.3,296.8 L856.5,296.9 L856.6,297.1 L856.7,297.2 L856.9,297.3 L857.0,297.4 L857.1,297.5 L857.3,297.6 L857.4,297.6 L857.5,297.7 L857.7,297.7 L857.8,297.7 L857.9,297.7 L858.1,297.7 L858.2,297.7 L858.3,297.7 L858.5,297.7 L858.6,297.6 L858.7,297.5 L858.9,297.5 L859.0,297.4 L859.2,297.3 L859.3,297.2 L859.4,297.1 L859.6,296.9 L859.7,296.8 L859.8,296.6 L860.0,296.5 L860.1,296.3 L860.2,296.1 L860.4,295.9 L860.5,295.7 L860.6,295.5 L860.8,295.3 L860.9,295.0 L861.0,294.8 L861.2,294.5 L861.3,294.2 L861.4,293.9 L861.6,293.6 L861.7,293.3 L861.8,293.0 L862.0,292.7 L862.1,292.3 L862.2,292.0 L862.4,291.6 L862.5,291.3 L862.6,290.9 L862.8,290.5 L862.9,290.1 L863.0,289.7 L863.2,289.3 L863.3,288.8 L863.5,288.4 L863.6,288.0 L863.7,287.5 L863.9,287.0 L864.0,286.6 L864.1,286.1 L864.3,285.6 L864.4,285.1 L864.5,284.6 L864.7,284.0 L864.8,283.5 L864.9,283.0 L865.1,282.4 L865.2,281.9 L865.3,281.3 L865.5,280.7 L865.6,280.1 L865.7,279.6 L865.9,279.0 L866.0,278.4 L866.1,277.7 L866.3,277.1 L866.4,276.5 L866.5,275.9 L866.7,275.2 L866.8,274.6 L866.9,273.9 L867.1,273.2 L867.2,272.6 L867.4,271.9 L867.5,271.2 L867.6,270.5 L867.8,269.8 L867.9,269.1 L868.0,268.4 L868.2,267.7 L868.3,266.9 L868.4,266.2 L868.6,265.5 L868.7,264.7 L868.8,264.0 L869.0,263.2 L869.1,262.5 L869.2,261.7 L869.4,260.9 L869.5,260.2 L869.6,259.4 L869.8,258.6 L869.9,257.8 L870.0,257.0 L870.2,256.2 L870.3,255.4 L870.4,254.6 L870.6,253.8 L870.7,253.0 L870.8,252.1 L871.0,251.3 L871.1,250.5 L871.2,249.7 L871.4,248.8 L871.5,248.0 L871.7,247.1 L871.8,246.3 L871.9,245.4 L872.1,244.6 L872.2,243.7 L872.3,242.9 L872.5,242.0 L872.6,241.2 L872.7,240.3 L872.9,239.4 L873.0,238.5 L873.1,237.7 L873.3,236.8 L873.4,235.9 L873.5,235.0 L873.7,234.2 L873.8,233.3 L873.9,232.4 L874.1,231.5 L874.2,230.6 L874.3,229.7 L874.5,228.9 L874.6,228.0 L874.7,227.1 L874.9,226.2 L875.0,225.3 L875.1,224.4 L875.3,223.5 L875.4,222.6 L875.6,221.7 L875.7,220.8 L875.8,220.0 L876.0,219.1 L876.1,218.2 L876.2,217.3 L876.4,216.4 L876.5,215.5 L876.6,214.6 L876.8,213.7 L876.9,212.8 L877.0,212.0 L877.2,211.1 L877.3,210.2 L877.4,209.3 L877.6,208.4 L877.7,207.6 L877.8,206.7 L878.0,205.8 L878.1,204.9 L878.2,204.1 L878.4,203.2 L878.5,202.4 L878.6,201.5 L878.8,200.6 L878.9,199.8 L879.0,198.9 L879.2,198.1 L879.3,197.2 L879.4,196.4 L879.6,195.5 L879.7,194.7 L879.9,193.9 L880.0,193.0 L880.1,192.2 L880.3,191.4 L880.4,190.6 L880.5,189.7 L880.7,188.9 L880.8,188.1 L880.9,187.3 L881.1,186.5 L881.2,185.7 L881.3,184.9 L881.5,184.1 L881.6,183.4 L881.7,182.6 L881.9,181.8 L882.0,181.0 L882.1,180.3 L882.3,179.5 L882.4,178.7 L882.5,178.0 L882.7,177.3 L882.8,176.5 L882.9,175.8 L883.1,175.1 L883.2,174.3 L883.3,173.6 L883.5,172.9 L883.6,172.2 L883.8,171.5 L883.9,170.8 L884.0,170.1 L884.2,169.4 L884.3,168.7 L884.4,168.1 L884.6,167.4 L884.7,166.8 L884.8,166.1 L885.0,165.5 L885.1,164.8 L885.2,164.2 L885.4,163.6 L885.5,162.9 L885.6,162.3 L885.8,161.7 L885.9,161.1 L886.0,160.5 L886.2,159.9 L886.3,159.3 L886.4,158.8 L886.6,158.2 L886.7,157.6 L886.8,157.1 L887.0,156.5 L887.1,156.0 L887.2,155.5 L887.4,155.0 L887.5,154.4 L887.7,153.9 L887.8,153.4 L887.9,152.9 L888.1,152.4 L888.2,152.0 L888.3,151.5 L888.5,151.0 L888.6,150.6 L888.7,150.1 L888.9,149.7 L889.0,149.2 L889.1,148.8 L889.3,148.4 L889.4,148.0 L889.5,147.6 L889.7,147.2 L889.8,146.8 L889.9,146.4 L890.1,146.0 L890.2,145.7 L890.3,145.3 L890.5,145.0 L890.6,144.6 L890.7,144.3 L890.9,144.0 L891.0,143.6 L891.1,143.3 L891.3,143.0 L891.4,142.7 L891.5,142.5 L891.7,142.2 L891.8,141.9 L892.0,141.6 L892.1,141.4 L892.2,141.1 L892.4,140.9 L892.5,140.7 L892.6,140.4 L892.8,140.2 L892.9,140.0 L893.0,139.8 L893.2,139.6 L893.3,139.4 L893.4,139.3 L893.6,139.1 L893.7,138.9 L893.8,138.8 L894.0,138.6 L894.1,138.5 L894.2,138.4 L894.4,138.2 L894.5,138.1 L894.6,138.0 L894.8,137.9 L894.9,137.8 L895.0,137.7 L895.2,137.7 L895.3,137.6 L895.4,137.5 L895.6,137.5 L895.7,137.4 L895.9,137.4 L896.0,137.4 L896.1,137.3 L896.3,137.3 L896.4,137.3 L896.5,137.3 L896.7,137.3 L896.8,137.3 L896.9,137.3 L897.1,137.4 L897.2,137.4 L897.3,137.4 L897.5,137.5 L897.6,137.5 L897.7,137.6 L897.9,137.7 L898.0,137.7 L898.1,137.8 L898.3,137.9 L898.4,138.0 L898.5,138.1 L898.7,138.2 L898.8,138.3 L898.9,138.5 L899.1,138.6 L899.2,138.7 L899.3,138.9 L899.5,139.0 L899.6,139.2 L899.7,139.3 L899.9,139.5 L900.0,139.7 L900.2,139.8 L900.3,140.0 L900.4,140.2 L900.6,140.4 L900.7,140.6 L900.8,140.8 L901.0,141.0 L901.1,141.2 L901.2,141.5 L901.4,141.7 L901.5,141.9 L901.6,142.2 L901.8,142.4 L901.9,142.7 L902.0,142.9 L902.2,143.2 L902.3,143.4 L902.4,143.7 L902.6,144.0 L902.7,144.3 L902.8,144.5 L903.0,144.8 L903.1,145.1 L903.2,145.4 L903.4,145.7 L903.5,146.0 L903.6,146.3 L903.8,146.7 L903.9,147.0 L904.1,147.3 L904.2,147.6 L904.3,148.0 L904.5,148.3 L904.6,148.6 L904.7,149.0 L904.9,149.3 L905.0,149.7 L905.1,150.0 L905.3,150.4 L905.4,150.7 L905.5,151.1 L905.7,151.5 L905.8,151.8 L905.9,152.2 L906.1,152.6 L906.2,153.0 L906.3,153.4 L906.5,153.7 L906.6,154.1 L906.7,154.5 L906.9,154.9 L907.0,155.3 L907.1,155.7 L907.3,156.1 L907.4,156.5 L907.5,156.9 L907.7,157.3 L907.8,157.7 L907.9,158.1 L908.1,158.5 L908.2,158.9 L908.4,159.4 L908.5,159.8 L908.6,160.2 L908.8,160.6 L908.9,161.0 L909.0,161.5 L909.2,161.9 L909.3,162.3 L909.4,162.7 L909.6,163.2 L909.7,163.6 L909.8,164.0 L910.0,164.4 L910.1,164.9 L910.2,165.3 L910.4,165.7 L910.5,166.2 L910.6,166.6 L910.8,167.0 L910.9,167.4 L911.0,167.9 L911.2,168.3 L911.3,168.7 L911.4,169.2 L911.6,169.6 L911.7,170.0 L911.8,170.5 L912.0,170.9 L912.1,171.3 L912.3,171.7 L912.4,172.2 L912.5,172.6 L912.7,173.0 L912.8,173.5 L912.9,173.9 L913.1,174.3 L913.2,174.7 L913.3,175.2 L913.5,175.6 L913.6,176.0 L913.7,176.4 L913.9,176.8 L914.0,177.2 L914.1,177.7 L914.3,178.1 L914.4,178.5 L914.5,178.9 L914.7,179.3 L914.8,179.7 L914.9,180.1 L915.1,180.5 L915.2,180.9 L915.3,181.3 L915.5,181.7 L915.6,182.1 L915.7,182.5 L915.9,182.9 L916.0,183.3 L916.1,183.6 L916.3,184.0 L916.4,184.4 L916.6,184.8 L916.7,185.2 L916.8,185.5 L917.0,185.9 L917.1,186.3 L917.2,186.6 L917.4,187.0 L917.5,187.3 L917.6,187.7 L917.8,188.0 L917.9,188.4 L918.0,188.7 L918.2,189.1 L918.3,189.4 L918.4,189.8 L918.6,190.1 L918.7,190.4 L918.8,190.7 L919.0,191.1 L919.1,191.4 L919.2,191.7 L919.4,192.0 L919.5,192.3 L919.6,192.6 L919.8,192.9 L919.9,193.2 L920.0,193.5 L920.2,193.8 L920.3,194.1 L920.5,194.4 L920.6,194.6 L920.7,194.9 L920.9,195.2 L921.0,195.4 L921.1,195.7 L921.3,196.0 L921.4,196.2 L921.5,196.5 L921.7,196.7 L921.8,197.0 L921.9,197.2 L922.1,197.4 L922.2,197.7 L922.3,197.9 L922.5,198.1 L922.6,198.3 L922.7,198.5 L922.9,198.7 L923.0,198.9 L923.1,199.1 L923.3,199.3 L923.4,199.5 L923.5,199.7 L923.7,199.9 L923.8,200.1 L923.9,200.2 L924.1,200.4 L924.2,200.6 L924.3,200.7 L924.5,200.9 L924.6,201.1 L924.8,201.2 L924.9,201.3 L925.0,201.5 L925.2,201.6 L925.3,201.7 L925.4,201.9 L925.6,202.0 L925.7,202.1 L925.8,202.2 L926.0,202.3 L926.1,202.4 L926.2,202.5 L926.4,202.6 L926.5,202.7 L926.6,202.8 L926.8,202.9 L926.9,203.0 L927.0,203.0 L927.2,203.1 L927.3,203.2 L927.4,203.2 L927.6,203.3 L927.7,203.3 L927.8,203.4 L928.0,203.4 L928.1,203.5 L928.2,203.5 L928.4,203.5 L928.5,203.5 L928.7,203.6 L928.8,203.6 L928.9,203.6 L929.1,203.6 L929.2,203.6 L929.3,203.6 L929.5,203.6 L929.6,203.6 L929.7,203.6 L929.9,203.6 L930.0,203.6 L930.1,203.5 L930.3,203.5 L930.4,203.5 L930.5,203.5 L930.7,203.4 L930.8,203.4 L930.9,203.3 L931.1,203.3 L931.2,203.2 L931.3,203.2 L931.5,203.1 L931.6,203.1 L931.7,203.0 L931.9,202.9 L932.0,202.9 L932.1,202.8 L932.3,202.7 L932.4,202.6 L932.5,202.5 L932.7,202.4 L932.8,202.4 L933.0,202.3 L933.1,202.2 L933.2,202.1 L933.4,202.0 L933.5,201.9 L933.6,201.7 L933.8,201.6 L933.9,201.5 L934.0,201.4 L934.2,201.3 L934.3,201.2 L934.4,201.0 L934.6,200.9 L934.7,200.8 L934.8,200.6 L935.0,200.5 L935.1,200.4 L935.2,200.2 L935.4,200.1 L935.5,199.9 L935.6,199.8 L935.8,199.6 L935.9,199.5 L936.0,199.3 L936.2,199.2 L936.3,199.0 L936.4,198.9 L936.6,198.7 L936.7,198.6 L936.9,198.4 L937.0,198.2 L937.1,198.1 L937.3,197.9 L937.4,197.7 L937.5,197.6 L937.7,197.4 L937.8,197.2 L937.9,197.0 L938.1,196.9 L938.2,196.7 L938.3,196.5 L938.5,196.3 L938.6,196.2 L938.7,196.0 L938.9,195.8 L939.0,195.6 L939.1,195.4 L939.3,195.3 L939.4,195.1 L939.5,194.9 L939.7,194.7 L939.8,194.5 L939.9,194.4 L940.1,194.2 L940.2,194.0 L940.3,193.8"/>
<path class="da" d="M133.9,193.8 134.4,193.1 135.0,192.3 135.5,191.6 136.1,190.9 136.6,190.1 137.1,189.4 137.6,188.7M143.1,181.3 143.6,180.6 144.1,179.9 144.7,179.1 145.2,178.4 145.7,177.7 146.3,176.9 146.8,176.2 147.3,175.5M152.8,168.1 153.3,167.5 153.8,166.8 154.3,166.0 154.9,165.3 155.4,164.6 155.9,163.9 156.5,163.1 157.0,162.4 157.1,162.3M162.6,154.9 163.1,154.3 163.6,153.6 164.1,152.9 164.7,152.2 165.2,151.5 165.8,150.8 166.3,150.0 166.8,149.3 167.0,149.1M172.7,141.7 173.2,141.0 173.7,140.4 174.2,139.7 174.8,139.0 175.3,138.3 175.8,137.6 176.4,136.9 176.9,136.2 177.1,135.9M182.9,128.5 183.4,127.9 183.9,127.3 184.4,126.6 185.0,125.9 185.5,125.2 186.1,124.5 186.6,123.9 187.1,123.2 187.5,122.7M193.5,115.3 194.0,114.7 194.5,114.1 195.1,113.4 195.6,112.8 196.1,112.1 196.7,111.5 197.2,110.8 197.8,110.2 198.3,109.5 198.3,109.5M204.6,102.1 205.0,101.6 205.6,101.0 206.1,100.4 206.6,99.8 207.2,99.1 207.7,98.5 208.2,97.9 208.8,97.3 209.3,96.7 209.6,96.3M216.3,88.9 216.7,88.4 217.2,87.9 217.8,87.3 218.3,86.7 218.9,86.1 219.4,85.5 219.9,85.0 220.5,84.4 221.0,83.8 221.5,83.2 221.7,83.1M228.8,75.7 229.3,75.2 229.9,74.7 230.4,74.1 231.0,73.6 231.5,73.1 232.0,72.5 232.6,72.0 233.1,71.5 233.6,70.9 234.2,70.4 234.6,70.0M242.0,63.0 242.5,62.6 243.1,62.1 243.6,61.6 244.1,61.2 244.7,60.7 245.2,60.2 245.7,59.7 246.3,59.3 246.8,58.8 247.4,58.3 247.8,57.9M255.2,51.8 255.7,51.4 256.2,51.0 256.8,50.5 257.3,50.1 257.8,49.7 258.4,49.3 258.9,48.9 259.5,48.5 260.0,48.1 260.5,47.7 261.0,47.3M268.4,42.0 268.9,41.7 269.4,41.3 269.9,41.0 270.5,40.6 271.0,40.3 271.6,39.9 272.1,39.6 272.6,39.2 273.2,38.9 273.7,38.5 274.2,38.2M281.6,33.8 282.2,33.5 282.7,33.2 283.3,32.9 283.8,32.6 284.3,32.3 284.9,32.1 285.4,31.8 285.9,31.5 286.5,31.2 287.0,31.0 287.4,30.7M294.8,27.3 295.4,27.1 295.9,26.9 296.4,26.7 297.0,26.4 297.5,26.2 298.0,26.0 298.6,25.8 299.1,25.6 299.7,25.4 300.2,25.2 300.6,25.0M308.0,22.6 308.5,22.5 309.1,22.3 309.6,22.2 310.1,22.0 310.7,21.9 311.2,21.7 311.8,21.6 312.3,21.5 312.8,21.3 313.4,21.2 313.8,21.1M321.2,19.7 321.7,19.6 322.2,19.5 322.8,19.5 323.3,19.4 323.8,19.3 324.4,19.3 324.9,19.2 325.5,19.1 326.0,19.1 326.5,19.0 327.0,19.0M334.4,18.6 334.9,18.6 335.4,18.6 335.9,18.6 336.5,18.6 337.0,18.6 337.6,18.6 338.1,18.6 338.6,18.7 339.2,18.7 339.7,18.7 340.2,18.7M347.6,19.4 348.0,19.4 348.6,19.5 349.1,19.6 349.7,19.7 350.2,19.7 350.7,19.8 351.3,19.9 351.8,20.0 352.3,20.1 352.9,20.2 353.4,20.3 353.4,20.3M360.8,22.0 361.4,22.1 361.9,22.3 362.4,22.4 363.0,22.6 363.5,22.8 364.0,22.9 364.6,23.1 365.1,23.2 365.7,23.4 366.2,23.6 366.6,23.7M374.0,26.4 374.5,26.6 375.1,26.9 375.6,27.1 376.1,27.3 376.7,27.5 377.2,27.8 377.8,28.0 378.3,28.2 378.8,28.5 379.4,28.7 379.8,28.9M387.2,32.6 387.7,32.9 388.2,33.2 388.8,33.5 389.3,33.8 389.9,34.1 390.4,34.4 390.9,34.7 391.5,35.0 392.0,35.3 392.5,35.6 393.0,35.9M400.4,40.5 400.9,40.8 401.4,41.2 402.0,41.6 402.5,41.9 403.0,42.3 403.6,42.7 404.1,43.0 404.6,43.4 405.2,43.8 405.7,44.2 406.2,44.5M413.6,50.1 414.1,50.4 414.6,50.8 415.1,51.2 415.7,51.7 416.2,52.1 416.7,52.5 417.3,53.0 417.8,53.4 418.4,53.8 418.9,54.3 419.4,54.7 419.4,54.7M426.8,61.1 427.4,61.6 427.9,62.1 428.4,62.5 429.0,63.0 429.5,63.5 430.0,64.0 430.6,64.5 431.1,65.0 431.7,65.5 432.2,66.0 432.6,66.4M440.0,73.6 440.5,74.1 441.1,74.6 441.6,75.1 442.1,75.7 442.7,76.2 443.2,76.8 443.8,77.3 444.3,77.9 444.8,78.4 445.4,79.0 445.8,79.4M452.8,86.8 453.2,87.2 453.7,87.8 454.2,88.4 454.8,89.0 455.3,89.5 455.9,90.1 456.4,90.7 456.9,91.3 457.5,91.9 458.0,92.5 458.0,92.6M464.6,100.0 465.0,100.5 465.5,101.1 466.1,101.7 466.6,102.3 467.2,102.9 467.7,103.6 468.2,104.2 468.8,104.8 469.3,105.5 469.5,105.8M475.7,113.2 476.2,113.7 476.7,114.3 477.2,115.0 477.8,115.6 478.3,116.3 478.8,117.0 479.4,117.6 479.9,118.3 480.5,118.9 480.5,119.0M486.4,126.4 486.9,127.0 487.5,127.7 488.0,128.4 488.5,129.0 489.1,129.7 489.6,130.4 490.1,131.1 490.7,131.8 491.0,132.2M496.7,139.6 497.1,140.1 497.7,140.8 498.2,141.5 498.7,142.2 499.3,142.9 499.8,143.6 500.4,144.3 500.9,145.0 501.2,145.4M506.8,152.8 507.2,153.3 507.8,154.1 508.3,154.8 508.8,155.5 509.4,156.2 509.9,156.9 510.4,157.6 511.0,158.4 511.1,158.6M516.6,166.0 517.2,166.7 517.7,167.4 518.2,168.1 518.8,168.8 519.3,169.6 519.8,170.3 520.4,171.0 520.9,171.7 520.9,171.8M526.4,179.2 526.8,179.8 527.4,180.5 527.9,181.2 528.5,182.0 529.0,182.7 529.5,183.4 530.1,184.2 530.6,184.9 530.6,185.0M536.1,192.4 536.5,193.0 537.1,193.7 537.6,194.4 538.1,195.2 538.7,195.9 539.2,196.6 539.7,197.4 540.3,198.1 540.3,198.2M545.7,205.6 546.2,206.2 546.7,206.9 547.3,207.6 547.8,208.4 548.3,209.1 548.9,209.8 549.4,210.6 550.0,211.3 550.0,211.4M555.5,218.8 555.9,219.3 556.4,220.0 557.0,220.8 557.5,221.5 558.0,222.2 558.6,222.9 559.1,223.7 559.6,224.4 559.8,224.6M565.3,232.0 565.8,232.7 566.4,233.4 566.9,234.1 567.4,234.8 568.0,235.5 568.5,236.2 569.1,236.9 569.6,237.6 569.7,237.8M575.3,245.2 575.8,245.8 576.3,246.5 576.8,247.2 577.4,247.9 577.9,248.6 578.5,249.3 579.0,250.0 579.5,250.6 579.8,251.0M585.6,258.4 586.0,258.9 586.5,259.6 587.1,260.3 587.6,260.9 588.1,261.6 588.7,262.3 589.2,263.0 589.8,263.6 590.2,264.2M596.1,271.6 596.6,272.1 597.1,272.8 597.7,273.4 598.2,274.1 598.8,274.7 599.3,275.4 599.8,276.0 600.4,276.7 600.9,277.3 600.9,277.4M607.2,284.8 607.6,285.3 608.2,285.9 608.7,286.5 609.2,287.1 609.8,287.8 610.3,288.4 610.9,289.0 611.4,289.6 611.9,290.2 612.2,290.6M618.8,298.0 619.3,298.5 619.9,299.1 620.4,299.7 620.9,300.3 621.5,300.8 622.0,301.4 622.6,302.0 623.1,302.6 623.6,303.1 624.2,303.7 624.2,303.8M631.3,311.2 631.8,311.7 632.4,312.2 632.9,312.7 633.4,313.3 634.0,313.8 634.5,314.3 635.1,314.9 635.6,315.4 636.1,315.9 636.7,316.5 637.1,316.9M644.5,323.9 645.0,324.3 645.5,324.8 646.1,325.3 646.6,325.8 647.2,326.3 647.7,326.7 648.2,327.2 648.8,327.7 649.3,328.2 649.8,328.6 650.3,329.0M657.7,335.2 658.2,335.6 658.7,336.0 659.3,336.5 659.8,336.9 660.3,337.3 660.9,337.7 661.4,338.2 661.9,338.6 662.5,339.0 663.0,339.4 663.5,339.8M670.9,345.1 671.4,345.4 671.9,345.8 672.4,346.1 673.0,346.5 673.5,346.9 674.0,347.2 674.6,347.6 675.1,347.9 675.7,348.3 676.2,348.6 676.7,348.9M684.1,353.4 684.5,353.6 685.1,353.9 685.6,354.2 686.1,354.5 686.7,354.8 687.2,355.1 687.8,355.4 688.3,355.6 688.8,355.9 689.4,356.2 689.9,356.5 689.9,356.5M697.3,360.0 697.8,360.2 698.4,360.4 698.9,360.6 699.4,360.9 700.0,361.1 700.5,361.3 701.1,361.5 701.6,361.7 702.1,361.9 702.7,362.1 703.1,362.3M710.5,364.8 711.0,364.9 711.5,365.1 712.1,365.2 712.6,365.4 713.2,365.5 713.7,365.7 714.2,365.8 714.8,366.0 715.3,366.1 715.8,366.2 716.3,366.3M723.7,367.8 724.2,367.9 724.7,368.0 725.3,368.0 725.8,368.1 726.3,368.2 726.9,368.3 727.4,368.3 727.9,368.4 728.5,368.4 729.0,368.5 729.5,368.5M736.9,369.0 737.4,369.0 737.9,369.0 738.4,369.0 739.0,369.0 739.5,369.0 740.0,369.0 740.6,369.0 741.1,369.0 741.7,369.0 742.2,368.9 742.7,368.9M750.1,368.3 750.5,368.3 751.1,368.2 751.6,368.1 752.1,368.0 752.7,368.0 753.2,367.9 753.8,367.8 754.3,367.7 754.8,367.6 755.4,367.5 755.9,367.4 755.9,367.4M763.3,365.8 763.8,365.7 764.4,365.5 764.9,365.4 765.5,365.2 766.0,365.1 766.5,364.9 767.1,364.7 767.6,364.6 768.1,364.4 768.7,364.3 769.1,364.1M776.5,361.5 777.0,361.3 777.6,361.0 778.1,360.8 778.6,360.6 779.2,360.4 779.7,360.2 780.2,359.9 780.8,359.7 781.3,359.4 781.9,359.2 782.3,359.0M789.7,355.4 790.2,355.1 790.7,354.8 791.3,354.5 791.8,354.2 792.3,353.9 792.9,353.6 793.4,353.3 794.0,353.0 794.5,352.7 795.0,352.4 795.5,352.1M802.9,347.5 803.4,347.3 803.9,346.9 804.4,346.5 805.0,346.2 805.5,345.8 806.1,345.5 806.6,345.1 807.1,344.7 807.7,344.3 808.2,344.0 808.7,343.6M816.1,338.1 816.5,337.8 817.1,337.4 817.6,336.9 818.1,336.5 818.7,336.1 819.2,335.7 819.8,335.2 820.3,334.8 820.8,334.4 821.4,333.9 821.9,333.5 821.9,333.5M829.3,327.1 829.8,326.7 830.4,326.2 830.9,325.7 831.5,325.2 832.0,324.7 832.5,324.3 833.1,323.8 833.6,323.3 834.1,322.8 834.7,322.3 835.1,321.9M842.5,314.8 843.0,314.3 843.6,313.7 844.1,313.2 844.6,312.7 845.2,312.1 845.7,311.6 846.2,311.0 846.8,310.5 847.3,310.0 847.9,309.4 848.3,309.0M855.3,301.6 855.8,301.1 856.3,300.5 856.9,299.9 857.4,299.3 857.9,298.7 858.5,298.1 859.0,297.5 859.6,296.9 860.1,296.3 860.6,295.8M867.1,288.4 867.6,287.8 868.2,287.2 868.7,286.6 869.2,286.0 869.8,285.4 870.3,284.7 870.8,284.1 871.4,283.5 871.9,282.8 872.1,282.6M878.3,275.2 878.8,274.7 879.3,274.0 879.9,273.4 880.4,272.7 880.9,272.0 881.5,271.4 882.0,270.7 882.5,270.1 883.1,269.4 883.1,269.4M889.0,262.0 889.5,261.4 890.1,260.7 890.6,260.0 891.1,259.3 891.7,258.6 892.2,258.0 892.8,257.3 893.3,256.6 893.6,256.2M899.4,248.8 899.9,248.1 900.4,247.4 901.0,246.7 901.5,246.0 902.0,245.3 902.6,244.6 903.1,243.9 903.6,243.2 903.8,243.0M909.4,235.6 910.0,234.9 910.5,234.2 911.0,233.5 911.6,232.7 912.1,232.0 912.7,231.3 913.2,230.6 913.7,229.9 913.8,229.8M919.3,222.4 919.8,221.8 920.3,221.0 920.9,220.3 921.4,219.6 921.9,218.9 922.5,218.1 923.0,217.4 923.5,216.7 923.6,216.6M929.1,209.2 929.6,208.5 930.1,207.7 930.7,207.0 931.2,206.3 931.7,205.5 932.3,204.8 932.8,204.1 933.3,203.4M938.7,196.0 939.3,195.3 939.8,194.5 940.3,193.8"/>
<path class="da" d="M133.9,193.8 134.4,194.5 135.0,195.3 135.5,196.0 136.1,196.7 136.6,197.5 137.1,198.2 137.6,198.9M143.1,206.3 143.6,207.0 144.1,207.7 144.7,208.5 145.2,209.2 145.7,209.9 146.3,210.7 146.8,211.4 147.3,212.1M152.8,219.5 153.3,220.1 153.8,220.8 154.3,221.6 154.9,222.3 155.4,223.0 155.9,223.7 156.5,224.5 157.0,225.2 157.1,225.3M162.6,232.7 163.1,233.3 163.6,234.0 164.1,234.7 164.7,235.4 165.2,236.1 165.8,236.8 166.3,237.6 166.8,238.3 167.0,238.5M172.7,245.9 173.2,246.6 173.7,247.2 174.2,247.9 174.8,248.6 175.3,249.3 175.8,250.0 176.4,250.7 176.9,251.4 177.1,251.7M182.9,259.1 183.4,259.7 183.9,260.3 184.4,261.0 185.0,261.7 185.5,262.4 186.1,263.1 186.6,263.7 187.1,264.4 187.5,264.9M193.5,272.3 194.0,272.9 194.5,273.5 195.1,274.2 195.6,274.8 196.1,275.5 196.7,276.1 197.2,276.8 197.8,277.4 198.3,278.1 198.3,278.1M204.6,285.5 205.0,286.0 205.6,286.6 206.1,287.2 206.6,287.8 207.2,288.5 207.7,289.1 208.2,289.7 208.8,290.3 209.3,290.9 209.6,291.3M216.3,298.7 216.7,299.2 217.2,299.7 217.8,300.3 218.3,300.9 218.9,301.5 219.4,302.1 219.9,302.6 220.5,303.2 221.0,303.8 221.5,304.4 221.7,304.5M228.8,311.9 229.3,312.4 229.9,312.9 230.4,313.5 231.0,314.0 231.5,314.5 232.0,315.1 232.6,315.6 233.1,316.1 233.6,316.7 234.2,317.2 234.6,317.6M242.0,324.6 242.5,325.0 243.1,325.5 243.6,326.0 244.1,326.4 244.7,326.9 245.2,327.4 245.7,327.9 246.3,328.3 246.8,328.8 247.4,329.3 247.8,329.7M255.2,335.8 255.7,336.2 256.2,336.6 256.8,337.1 257.3,337.5 257.8,337.9 258.4,338.3 258.9,338.7 259.5,339.1 260.0,339.5 260.5,339.9 261.0,340.3M268.4,345.6 268.9,345.9 269.4,346.3 269.9,346.6 270.5,347.0 271.0,347.3 271.6,347.7 272.1,348.0 272.6,348.4 273.2,348.7 273.7,349.1 274.2,349.4M281.6,353.8 282.2,354.1 282.7,354.4 283.3,354.7 283.8,355.0 284.3,355.3 284.9,355.5 285.4,355.8 285.9,356.1 286.5,356.4 287.0,356.6 287.4,356.9M294.8,360.3 295.4,360.5 295.9,360.7 296.4,360.9 297.0,361.2 297.5,361.4 298.0,361.6 298.6,361.8 299.1,362.0 299.7,362.2 300.2,362.4 300.6,362.6M308.0,365.0 308.5,365.1 309.1,365.3 309.6,365.4 310.1,365.6 310.7,365.7 311.2,365.9 311.8,366.0 312.3,366.1 312.8,366.3 313.4,366.4 313.8,366.5M321.2,367.9 321.7,368.0 322.2,368.1 322.8,368.1 323.3,368.2 323.8,368.3 324.4,368.3 324.9,368.4 325.5,368.5 326.0,368.5 326.5,368.6 327.0,368.6M334.4,369.0 334.9,369.0 335.4,369.0 335.9,369.0 336.5,369.0 337.0,369.0 337.6,369.0 338.1,369.0 338.6,368.9 339.2,368.9 339.7,368.9 340.2,368.9M347.6,368.2 348.0,368.2 348.6,368.1 349.1,368.0 349.7,367.9 350.2,367.9 350.7,367.8 351.3,367.7 351.8,367.6 352.3,367.5 352.9,367.4 353.4,367.3 353.4,367.3M360.8,365.6 361.4,365.5 361.9,365.3 362.4,365.2 363.0,365.0 363.5,364.8 364.0,364.7 364.6,364.5 365.1,364.4 365.7,364.2 366.2,364.0 366.6,363.9M374.0,361.2 374.5,361.0 375.1,360.7 375.6,360.5 376.1,360.3 376.7,360.1 377.2,359.8 377.8,359.6 378.3,359.4 378.8,359.1 379.4,358.9 379.8,358.7M387.2,355.0 387.7,354.7 388.2,354.4 388.8,354.1 389.3,353.8 389.9,353.5 390.4,353.2 390.9,352.9 391.5,352.6 392.0,352.3 392.5,352.0 393.0,351.7M400.4,347.1 400.9,346.8 401.4,346.4 402.0,346.0 402.5,345.7 403.0,345.3 403.6,344.9 404.1,344.6 404.6,344.2 405.2,343.8 405.7,343.4 406.2,343.1M413.6,337.5 414.1,337.2 414.6,336.8 415.1,336.4 415.7,335.9 416.2,335.5 416.7,335.1 417.3,334.6 417.8,334.2 418.4,333.8 418.9,333.3 419.4,332.9 419.4,332.9M426.8,326.5 427.4,326.0 427.9,325.5 428.4,325.1 429.0,324.6 429.5,324.1 430.0,323.6 430.6,323.1 431.1,322.6 431.7,322.1 432.2,321.6 432.6,321.2M440.0,314.0 440.5,313.5 441.1,313.0 441.6,312.5 442.1,311.9 442.7,311.4 443.2,310.8 443.8,310.3 444.3,309.7 444.8,309.2 445.4,308.6 445.8,308.2M452.8,300.8 453.2,300.4 453.7,299.8 454.2,299.2 454.8,298.6 455.3,298.1 455.9,297.5 456.4,296.9 456.9,296.3 457.5,295.7 458.0,295.1 458.0,295.0M464.6,287.6 465.0,287.1 465.5,286.5 466.1,285.9 466.6,285.3 467.2,284.7 467.7,284.0 468.2,283.4 468.8,282.8 469.3,282.1 469.5,281.8M475.7,274.4 476.2,273.9 476.7,273.3 477.2,272.6 477.8,272.0 478.3,271.3 478.8,270.6 479.4,270.0 479.9,269.3 480.5,268.7 480.5,268.6M486.4,261.2 486.9,260.6 487.5,259.9 488.0,259.2 488.5,258.6 489.1,257.9 489.6,257.2 490.1,256.5 490.7,255.8 491.0,255.4M496.7,248.0 497.1,247.5 497.7,246.8 498.2,246.1 498.7,245.4 499.3,244.7 499.8,244.0 500.4,243.3 500.9,242.6 501.2,242.2M506.8,234.8 507.2,234.3 507.8,233.5 508.3,232.8 508.8,232.1 509.4,231.4 509.9,230.7 510.4,230.0 511.0,229.2 511.1,229.0M516.6,221.6 517.2,220.9 517.7,220.2 518.2,219.5 518.8,218.8 519.3,218.0 519.8,217.3 520.4,216.6 520.9,215.9 520.9,215.8M526.4,208.4 526.8,207.8 527.4,207.1 527.9,206.4 528.5,205.6 529.0,204.9 529.5,204.2 530.1,203.4 530.6,202.7 530.6,202.6M536.1,195.2 536.5,194.6 537.1,193.9 537.6,193.2 538.1,192.4 538.7,191.7 539.2,191.0 539.7,190.2 540.3,189.5 540.3,189.4M545.7,182.0 546.2,181.4 546.7,180.7 547.3,180.0 547.8,179.2 548.3,178.5 548.9,177.8 549.4,177.0 550.0,176.3 550.0,176.2M555.5,168.8 555.9,168.3 556.4,167.6 557.0,166.8 557.5,166.1 558.0,165.4 558.6,164.7 559.1,163.9 559.6,163.2 559.8,163.0M565.3,155.6 565.8,154.9 566.4,154.2 566.9,153.5 567.4,152.8 568.0,152.1 568.5,151.4 569.1,150.7 569.6,150.0 569.7,149.8M575.3,142.4 575.8,141.8 576.3,141.1 576.8,140.4 577.4,139.7 577.9,139.0 578.5,138.3 579.0,137.6 579.5,137.0 579.8,136.6M585.6,129.2 586.0,128.7 586.5,128.0 587.1,127.3 587.6,126.7 588.1,126.0 588.7,125.3 589.2,124.6 589.8,124.0 590.2,123.4M596.1,116.0 596.6,115.5 597.1,114.8 597.7,114.2 598.2,113.5 598.8,112.9 599.3,112.2 599.8,111.6 600.4,110.9 600.9,110.3 600.9,110.2M607.2,102.8 607.6,102.3 608.2,101.7 608.7,101.1 609.2,100.5 609.8,99.8 610.3,99.2 610.9,98.6 611.4,98.0 611.9,97.4 612.2,97.0M618.8,89.6 619.3,89.1 619.9,88.5 620.4,87.9 620.9,87.3 621.5,86.8 622.0,86.2 622.6,85.6 623.1,85.0 623.6,84.5 624.2,83.9 624.2,83.8M631.3,76.4 631.8,75.9 632.4,75.4 632.9,74.9 633.4,74.3 634.0,73.8 634.5,73.3 635.1,72.7 635.6,72.2 636.1,71.7 636.7,71.1 637.1,70.7M644.5,63.7 645.0,63.3 645.5,62.8 646.1,62.3 646.6,61.8 647.2,61.3 647.7,60.9 648.2,60.4 648.8,59.9 649.3,59.4 649.8,59.0 650.3,58.6M657.7,52.4 658.2,52.0 658.7,51.6 659.3,51.1 659.8,50.7 660.3,50.3 660.9,49.9 661.4,49.4 661.9,49.0 662.5,48.6 663.0,48.2 663.5,47.8M670.9,42.5 671.4,42.2 671.9,41.8 672.4,41.5 673.0,41.1 673.5,40.7 674.0,40.4 674.6,40.0 675.1,39.7 675.7,39.3 676.2,39.0 676.7,38.7M684.1,34.2 684.5,34.0 685.1,33.7 685.6,33.4 686.1,33.1 686.7,32.8 687.2,32.5 687.8,32.2 688.3,32.0 688.8,31.7 689.4,31.4 689.9,31.1 689.9,31.1M697.3,27.6 697.8,27.4 698.4,27.2 698.9,27.0 699.4,26.7 700.0,26.5 700.5,26.3 701.1,26.1 701.6,25.9 702.1,25.7 702.7,25.5 703.1,25.3M710.5,22.8 711.0,22.7 711.5,22.5 712.1,22.4 712.6,22.2 713.2,22.1 713.7,21.9 714.2,21.8 714.8,21.6 715.3,21.5 715.8,21.4 716.3,21.3M723.7,19.8 724.2,19.7 724.7,19.6 725.3,19.6 725.8,19.5 726.3,19.4 726.9,19.3 727.4,19.3 727.9,19.2 728.5,19.2 729.0,19.1 729.5,19.1M736.9,18.6 737.4,18.6 737.9,18.6 738.4,18.6 739.0,18.6 739.5,18.6 740.0,18.6 740.6,18.6 741.1,18.6 741.7,18.6 742.2,18.7 742.7,18.7M750.1,19.3 750.5,19.3 751.1,19.4 751.6,19.5 752.1,19.6 752.7,19.6 753.2,19.7 753.8,19.8 754.3,19.9 754.8,20.0 755.4,20.1 755.9,20.2 755.9,20.2M763.3,21.8 763.8,21.9 764.4,22.1 764.9,22.2 765.5,22.4 766.0,22.5 766.5,22.7 767.1,22.9 767.6,23.0 768.1,23.2 768.7,23.3 769.1,23.5M776.5,26.1 777.0,26.3 777.6,26.6 778.1,26.8 778.6,27.0 779.2,27.2 779.7,27.4 780.2,27.7 780.8,27.9 781.3,28.2 781.9,28.4 782.3,28.6M789.7,32.2 790.2,32.5 790.7,32.8 791.3,33.1 791.8,33.4 792.3,33.7 792.9,34.0 793.4,34.3 794.0,34.6 794.5,34.9 795.0,35.2 795.5,35.5M802.9,40.1 803.4,40.3 803.9,40.7 804.4,41.1 805.0,41.4 805.5,41.8 806.1,42.1 806.6,42.5 807.1,42.9 807.7,43.3 808.2,43.6 808.7,44.0M816.1,49.5 816.5,49.8 817.1,50.2 817.6,50.7 818.1,51.1 818.7,51.5 819.2,51.9 819.8,52.4 820.3,52.8 820.8,53.2 821.4,53.7 821.9,54.1 821.9,54.1M829.3,60.5 829.8,60.9 830.4,61.4 830.9,61.9 831.5,62.4 832.0,62.9 832.5,63.3 833.1,63.8 833.6,64.3 834.1,64.8 834.7,65.3 835.1,65.7M842.5,72.8 843.0,73.3 843.6,73.9 844.1,74.4 844.6,74.9 845.2,75.5 845.7,76.0 846.2,76.6 846.8,77.1 847.3,77.6 847.9,78.2 848.3,78.6M855.3,86.0 855.8,86.5 856.3,87.1 856.9,87.7 857.4,88.3 857.9,88.9 858.5,89.5 859.0,90.1 859.6,90.7 860.1,91.3 860.6,91.8M867.1,99.2 867.6,99.8 868.2,100.4 868.7,101.0 869.2,101.6 869.8,102.2 870.3,102.9 870.8,103.5 871.4,104.1 871.9,104.8 872.1,105.0M878.3,112.4 878.8,112.9 879.3,113.6 879.9,114.2 880.4,114.9 880.9,115.6 881.5,116.2 882.0,116.9 882.5,117.5 883.1,118.2 883.1,118.2M889.0,125.6 889.5,126.2 890.1,126.9 890.6,127.6 891.1,128.3 891.7,129.0 892.2,129.6 892.8,130.3 893.3,131.0 893.6,131.4M899.4,138.8 899.9,139.5 900.4,140.2 901.0,140.9 901.5,141.6 902.0,142.3 902.6,143.0 903.1,143.7 903.6,144.4 903.8,144.6M909.4,152.0 910.0,152.7 910.5,153.4 911.0,154.1 911.6,154.9 912.1,155.6 912.7,156.3 913.2,157.0 913.7,157.7 913.8,157.8M919.3,165.2 919.8,165.8 920.3,166.6 920.9,167.3 921.4,168.0 921.9,168.7 922.5,169.5 923.0,170.2 923.5,170.9 923.6,171.0M929.1,178.4 929.6,179.1 930.1,179.9 930.7,180.6 931.2,181.3 931.7,182.1 932.3,182.8 932.8,183.5 933.3,184.2M938.7,191.6 939.3,192.3 939.8,193.1 940.3,193.8"/>
<path class="so" d="M139.1,760.5 L139.2,759.8 L139.4,759.1 L139.5,758.3 L139.6,757.6 L139.8,756.9 L139.9,756.2 L140.0,755.5 L140.2,754.7 L140.3,754.0 L140.4,753.3 L140.6,752.6 L140.7,751.9 L140.8,751.2 L141.0,750.5 L141.1,749.8 L141.2,749.1 L141.4,748.4 L141.5,747.7 L141.6,747.0 L141.8,746.3 L141.9,745.7 L142.0,745.0 L142.2,744.3 L142.3,743.7 L142.5,743.0 L142.6,742.3 L142.7,741.7 L142.9,741.1 L143.0,740.4 L143.1,739.8 L143.3,739.2 L143.4,738.5 L143.5,737.9 L143.7,737.3 L143.8,736.7 L143.9,736.1 L144.1,735.5 L144.2,734.9 L144.3,734.4 L144.5,733.8 L144.6,733.2 L144.7,732.7 L144.9,732.1 L145.0,731.6 L145.1,731.1 L145.3,730.5 L145.4,730.0 L145.5,729.5 L145.7,729.0 L145.8,728.5 L145.9,728.1 L146.1,727.6 L146.2,727.1 L146.3,726.7 L146.5,726.2 L146.6,725.8 L146.7,725.4 L146.9,725.0 L147.0,724.6 L147.1,724.2 L147.3,723.8 L147.4,723.4 L147.5,723.0 L147.7,722.7 L147.8,722.4 L147.9,722.0 L148.1,721.7 L148.2,721.4 L148.3,721.1 L148.5,720.8 L148.6,720.5 L148.8,720.3 L148.9,720.0 L149.0,719.8 L149.2,719.5 L149.3,719.3 L149.4,719.1 L149.6,718.9 L149.7,718.7 L149.8,718.6 L150.0,718.4 L150.1,718.3 L150.2,718.1 L150.4,718.0 L150.5,717.9 L150.6,717.8 L150.8,717.7 L150.9,717.7 L151.0,717.6 L151.2,717.6 L151.3,717.5 L151.4,717.5 L151.6,717.5 L151.7,717.5 L151.8,717.5 L152.0,717.6 L152.1,717.6 L152.2,717.7 L152.4,717.7 L152.5,717.8 L152.6,717.9 L152.8,718.0 L152.9,718.2 L153.0,718.3 L153.2,718.5 L153.3,718.6 L153.4,718.8 L153.6,719.0 L153.7,719.2 L153.8,719.4 L154.0,719.7 L154.1,719.9 L154.2,720.2 L154.4,720.4 L154.5,720.7 L154.6,721.0 L154.8,721.4 L154.9,721.7 L155.0,722.0 L155.2,722.4 L155.3,722.7 L155.5,723.1 L155.6,723.5 L155.7,723.9 L155.9,724.4 L156.0,724.8 L156.1,725.2 L156.3,725.7 L156.4,726.2 L156.5,726.7 L156.7,727.2 L156.8,727.7 L156.9,728.2 L157.1,728.7 L157.2,729.3 L157.3,729.9 L157.5,730.4 L157.6,731.0 L157.7,731.6 L157.9,732.3 L158.0,732.9 L158.1,733.5 L158.3,734.2 L158.4,734.8 L158.5,735.5 L158.7,736.2 L158.8,736.9 L158.9,737.6 L159.1,738.4 L159.2,739.1 L159.3,739.9 L159.5,740.6 L159.6,741.4 L159.7,742.2 L159.9,743.0 L160.0,743.8 L160.1,744.6 L160.3,745.4 L160.4,746.3 L160.5,747.1 L160.7,748.0 L160.8,748.9 L160.9,749.7 L161.1,750.6 L161.2,751.5 L161.3,752.5 L161.5,753.4 L161.6,754.3 L161.8,755.3 L161.9,756.2 L162.0,757.2 L162.2,758.2 L162.3,759.1 L162.4,760.1 L162.6,761.1 L162.7,762.2 L162.8,763.2 L163.0,764.2 L163.1,765.2 L163.2,766.3 L163.4,767.3 L163.5,768.4 L163.6,769.5 L163.8,770.5 L163.9,771.6 L164.0,772.7 L164.2,773.8 L164.3,774.9 L164.4,776.0 L164.6,777.2 L164.7,778.3 L164.8,779.4 L165.0,780.6 L165.1,781.7 L165.2,782.9 L165.4,784.0 L165.5,785.2 L165.6,786.4 L165.8,787.5 L165.9,788.7 L166.0,789.9 L166.2,791.1 L166.3,792.3 L166.4,793.5 L166.6,794.7 L166.7,795.9 L166.8,797.1 L167.0,798.3 L167.1,799.5 L167.2,800.8 L167.4,802.0 L167.5,803.2 L167.6,804.5 L167.8,805.7 L167.9,806.9 L168.1,808.2 L168.2,809.4 L168.3,810.7 L168.5,811.9 L168.6,813.2 L168.7,814.4 L168.9,815.7 L169.0,816.9 L169.1,818.2 L169.3,819.4 L169.4,820.7 L169.5,821.9 L169.7,823.2 L169.8,824.4 L169.9,825.7 L170.1,827.0 L170.2,828.2 L170.3,829.5 L170.5,830.7 L170.6,832.0 L170.7,833.2 L170.9,834.5 L171.0,835.7 L171.1,837.0 L171.3,838.2 L171.4,839.4 L171.5,840.7 L171.7,841.9 L171.8,843.2 L171.9,844.4 L172.1,845.6 L172.2,846.8 L172.3,848.1 L172.5,849.3 L172.6,850.5 L172.7,851.7 L172.9,852.9 L173.0,854.1 L173.1,855.3 L173.3,856.5 L173.4,857.7 L173.5,858.9 L173.7,860.1 L173.8,861.2 L173.9,862.4 L174.1,863.5 L174.2,864.7 L174.4,865.9 L174.5,867.0 L174.6,868.1 L174.8,869.3 L174.9,870.4 L175.0,871.5 L175.2,872.6 L175.3,873.7 L175.4,874.8 L175.6,875.9 L175.7,877.0 L175.8,878.0 L176.0,879.1 L176.1,880.1 L176.2,881.2 L176.4,882.2 L176.5,883.2 L176.6,884.3 L176.8,885.3 L176.9,886.3 L177.0,887.3 L177.2,888.2 L177.3,889.2 L177.4,890.2 L177.6,891.1 L177.7,892.0 L177.8,893.0 L178.0,893.9 L178.1,894.8 L178.2,895.7 L178.4,896.6 L178.5,897.5 L178.6,898.3 L178.8,899.2 L178.9,900.0 L179.0,900.8 L179.2,901.7 L179.3,902.5 L179.4,903.3 L179.6,904.0 L179.7,904.8 L179.8,905.6 L180.0,906.3 L180.1,907.0 L180.2,907.8 L180.4,908.5 L180.5,909.2 L180.6,909.8 L180.8,910.5 L180.9,911.2 L181.1,911.8 L181.2,912.4 L181.3,913.0 L181.5,913.6 L181.6,914.2 L181.7,914.8 L181.9,915.4 L182.0,915.9 L182.1,916.4 L182.3,916.9 L182.4,917.4 L182.5,917.9 L182.7,918.4 L182.8,918.8 L182.9,919.3 L183.1,919.7 L183.2,920.1 L183.3,920.5 L183.5,920.9 L183.6,921.3 L183.7,921.6 L183.9,921.9 L184.0,922.3 L184.1,922.6 L184.3,922.9 L184.4,923.1 L184.5,923.4 L184.7,923.6 L184.8,923.8 L184.9,924.1 L185.1,924.3 L185.2,924.4 L185.3,924.6 L185.5,924.7 L185.6,924.9 L185.7,925.0 L185.9,925.1 L186.0,925.2 L186.1,925.2 L186.3,925.3 L186.4,925.3 L186.5,925.3 L186.7,925.3 L186.8,925.3 L186.9,925.3 L187.1,925.2 L187.2,925.1 L187.4,925.1 L187.5,925.0 L187.6,924.8 L187.8,924.7 L187.9,924.6 L188.0,924.4 L188.2,924.2 L188.3,924.0 L188.4,923.8 L188.6,923.6 L188.7,923.3 L188.8,923.0 L189.0,922.8 L189.1,922.5 L189.2,922.1 L189.4,921.8 L189.5,921.5 L189.6,921.1 L189.8,920.7 L189.9,920.3 L190.0,919.9 L190.2,919.5 L190.3,919.0 L190.4,918.6 L190.6,918.1 L190.7,917.6 L190.8,917.1 L191.0,916.6 L191.1,916.0 L191.2,915.4 L191.4,914.9 L191.5,914.3 L191.6,913.7 L191.8,913.0 L191.9,912.4 L192.0,911.7 L192.2,911.1 L192.3,910.4 L192.4,909.7 L192.6,909.0 L192.7,908.2 L192.8,907.5 L193.0,906.7 L193.1,905.9 L193.2,905.1 L193.4,904.3 L193.5,903.5 L193.7,902.7 L193.8,901.8 L193.9,900.9 L194.1,900.0 L194.2,899.1 L194.3,898.2 L194.5,897.3 L194.6,896.4 L194.7,895.4 L194.9,894.4 L195.0,893.4 L195.1,892.4 L195.3,891.4 L195.4,890.4 L195.5,889.3 L195.7,888.3 L195.8,887.2 L195.9,886.1 L196.1,885.0 L196.2,883.9 L196.3,882.8 L196.5,881.7 L196.6,880.5 L196.7,879.4 L196.9,878.2 L197.0,877.0 L197.1,875.8 L197.3,874.6 L197.4,873.4 L197.5,872.1 L197.7,870.9 L197.8,869.6 L197.9,868.3 L198.1,867.1 L198.2,865.8 L198.3,864.5 L198.5,863.1 L198.6,861.8 L198.7,860.5 L198.9,859.1 L199.0,857.8 L199.1,856.4 L199.3,855.0 L199.4,853.6 L199.5,852.2 L199.7,850.8 L199.8,849.4 L200.0,847.9 L200.1,846.5 L200.2,845.1 L200.4,843.6 L200.5,842.1 L200.6,840.7 L200.8,839.2 L200.9,837.7 L201.0,836.2 L201.2,834.7 L201.3,833.1 L201.4,831.6 L201.6,830.1 L201.7,828.5 L201.8,827.0 L202.0,825.4 L202.1,823.9 L202.2,822.3 L202.4,820.7 L202.5,819.1 L202.6,817.5 L202.8,815.9 L202.9,814.3 L203.0,812.7 L203.2,811.1 L203.3,809.5 L203.4,807.9 L203.6,806.2 L203.7,804.6 L203.8,803.0 L204.0,801.3 L204.1,799.7 L204.2,798.0 L204.4,796.4 L204.5,794.7 L204.6,793.0 L204.8,791.4 L204.9,789.7 L205.0,788.0 L205.2,786.3 L205.3,784.6 L205.4,782.9 L205.6,781.3 L205.7,779.6 L205.8,777.9 L206.0,776.2 L206.1,774.5 L206.3,772.8 L206.4,771.1 L206.5,769.4 L206.7,767.7 L206.8,766.0 L206.9,764.3 L207.1,762.6 L207.2,760.8 L207.3,759.1 L207.5,757.4 L207.6,755.7 L207.7,754.0 L207.9,752.3 L208.0,750.6 L208.1,748.9 L208.3,747.2 L208.4,745.5 L208.5,743.8 L208.7,742.1 L208.8,740.4 L208.9,738.7 L209.1,737.0 L209.2,735.3 L209.3,733.6 L209.5,731.9 L209.6,730.2 L209.7,728.6 L209.9,726.9 L210.0,725.2 L210.1,723.5 L210.3,721.9 L210.4,720.2 L210.5,718.5 L210.7,716.9 L210.8,715.2 L210.9,713.6 L211.1,711.9 L211.2,710.3 L211.3,708.7 L211.5,707.0 L211.6,705.4 L211.7,703.8 L211.9,702.2 L212.0,700.6 L212.1,699.0 L212.3,697.4 L212.4,695.8 L212.5,694.2 L212.7,692.6 L212.8,691.1 L213.0,689.5 L213.1,687.9 L213.2,686.4 L213.4,684.9 L213.5,683.3 L213.6,681.8 L213.8,680.3 L213.9,678.8 L214.0,677.3 L214.2,675.8 L214.3,674.3 L214.4,672.8 L214.6,671.4 L214.7,669.9 L214.8,668.5 L215.0,667.0 L215.1,665.6 L215.2,664.2 L215.4,662.8 L215.5,661.4 L215.6,660.0 L215.8,658.6 L215.9,657.3 L216.0,655.9 L216.2,654.6 L216.3,653.2 L216.4,651.9 L216.6,650.6 L216.7,649.3 L216.8,648.0 L217.0,646.7 L217.1,645.4 L217.2,644.2 L217.4,642.9 L217.5,641.7 L217.6,640.5 L217.8,639.3 L217.9,638.1 L218.0,636.9 L218.2,635.7 L218.3,634.6 L218.4,633.4 L218.6,632.3 L218.7,631.2 L218.8,630.1 L219.0,629.0 L219.1,627.9 L219.3,626.9 L219.4,625.8 L219.5,624.8 L219.7,623.7 L219.8,622.7 L219.9,621.7 L220.1,620.8 L220.2,619.8 L220.3,618.8 L220.5,617.9 L220.6,617.0 L220.7,616.1 L220.9,615.2 L221.0,614.3 L221.1,613.4 L221.3,612.6 L221.4,611.7 L221.5,610.9 L221.7,610.1 L221.8,609.3 L221.9,608.6 L222.1,607.8 L222.2,607.1 L222.3,606.3 L222.5,605.6 L222.6,604.9 L222.7,604.3 L222.9,603.6 L223.0,602.9 L223.1,602.3 L223.3,601.7 L223.4,601.1 L223.5,600.5 L223.7,600.0 L223.8,599.4 L223.9,598.9 L224.1,598.4 L224.2,597.8 L224.3,597.4 L224.5,596.9 L224.6,596.4 L224.7,596.0 L224.9,595.6 L225.0,595.2 L225.1,594.8 L225.3,594.4 L225.4,594.1 L225.6,593.8 L225.7,593.4 L225.8,593.1 L226.0,592.9 L226.1,592.6 L226.2,592.3 L226.4,592.1 L226.5,591.9 L226.6,591.7 L226.8,591.5 L226.9,591.4 L227.0,591.2 L227.2,591.1 L227.3,591.0 L227.4,590.9 L227.6,590.8 L227.7,590.7 L227.8,590.7 L228.0,590.7 L228.1,590.7 L228.2,590.7 L228.4,590.7 L228.5,590.7 L228.6,590.8 L228.8,590.9 L228.9,591.0 L229.0,591.1 L229.2,591.2 L229.3,591.4 L229.4,591.5 L229.6,591.7 L229.7,591.9 L229.8,592.1 L230.0,592.3 L230.1,592.6 L230.2,592.8 L230.4,593.1 L230.5,593.4 L230.6,593.7 L230.8,594.1 L230.9,594.4 L231.0,594.8 L231.2,595.2 L231.3,595.6 L231.4,596.0 L231.6,596.4 L231.7,596.8 L231.9,597.3 L232.0,597.8 L232.1,598.3 L232.3,598.8 L232.4,599.3 L232.5,599.9 L232.7,600.4 L232.8,601.0 L232.9,601.6 L233.1,602.2 L233.2,602.8 L233.3,603.5 L233.5,604.1 L233.6,604.8 L233.7,605.5 L233.9,606.2 L234.0,606.9 L234.1,607.6 L234.3,608.4 L234.4,609.1 L234.5,609.9 L234.7,610.7 L234.8,611.5 L234.9,612.3 L235.1,613.1 L235.2,614.0 L235.3,614.9 L235.5,615.7 L235.6,616.6 L235.7,617.5 L235.9,618.5 L236.0,619.4 L236.1,620.3 L236.3,621.3 L236.4,622.3 L236.5,623.3 L236.7,624.3 L236.8,625.3 L236.9,626.3 L237.1,627.4 L237.2,628.4 L237.3,629.5 L237.5,630.6 L237.6,631.7 L237.7,632.8 L237.9,633.9 L238.0,635.0 L238.1,636.2 L238.3,637.3 L238.4,638.5 L238.6,639.7 L238.7,640.8 L238.8,642.0 L239.0,643.3 L239.1,644.5 L239.2,645.7 L239.4,647.0 L239.5,648.2 L239.6,649.5 L239.8,650.8 L239.9,652.1 L240.0,653.4 L240.2,654.7 L240.3,656.0 L240.4,657.3 L240.6,658.7 L240.7,660.0 L240.8,661.4 L241.0,662.7 L241.1,664.1 L241.2,665.5 L241.4,666.9 L241.5,668.3 L241.6,669.7 L241.8,671.1 L241.9,672.6 L242.0,674.0 L242.2,675.4 L242.3,676.9 L242.4,678.4 L242.6,679.8 L242.7,681.3 L242.8,682.8 L243.0,684.3 L243.1,685.8 L243.2,687.3 L243.4,688.8 L243.5,690.3 L243.6,691.8 L243.8,693.3 L243.9,694.9 L244.0,696.4 L244.2,698.0 L244.3,699.5 L244.4,701.1 L244.6,702.6 L244.7,704.2 L244.9,705.8 L245.0,707.4 L245.1,708.9 L245.3,710.5 L245.4,712.1 L245.5,713.7 L245.7,715.3 L245.8,716.9 L245.9,718.5 L246.1,720.1 L246.2,721.7 L246.3,723.3 L246.5,725.0 L246.6,726.6 L246.7,728.2 L246.9,729.8 L247.0,731.5 L247.1,733.1 L247.3,734.7 L247.4,736.4 L247.5,738.0 L247.7,739.6 L247.8,741.3 L247.9,742.9 L248.1,744.5 L248.2,746.2 L248.3,747.8 L248.5,749.5 L248.6,751.1 L248.7,752.7 L248.9,754.4 L249.0,756.0 L249.1,757.6 L249.3,759.3 L249.4,760.9 L249.5,762.6 L249.7,764.2 L249.8,765.8 L249.9,767.5 L250.1,769.1 L250.2,770.7 L250.3,772.3 L250.5,774.0 L250.6,775.6 L250.7,777.2 L250.9,778.8 L251.0,780.4 L251.2,782.0 L251.3,783.7 L251.4,785.3 L251.6,786.9 L251.7,788.5 L251.8,790.0 L252.0,791.6 L252.1,793.2 L252.2,794.8 L252.4,796.4 L252.5,797.9 L252.6,799.5 L252.8,801.1 L252.9,802.6 L253.0,804.2 L253.2,805.7 L253.3,807.3 L253.4,808.8 L253.6,810.3 L253.7,811.8 L253.8,813.4 L254.0,814.9 L254.1,816.4 L254.2,817.9 L254.4,819.4 L254.5,820.8 L254.6,822.3 L254.8,823.8 L254.9,825.2 L255.0,826.7 L255.2,828.1 L255.3,829.6 L255.4,831.0 L255.6,832.4 L255.7,833.8 L255.8,835.2 L256.0,836.6 L256.1,838.0 L256.2,839.4 L256.4,840.8 L256.5,842.1 L256.6,843.5 L256.8,844.8 L256.9,846.2 L257.0,847.5 L257.2,848.8 L257.3,850.1 L257.5,851.4 L257.6,852.7 L257.7,853.9 L257.9,855.2 L258.0,856.4 L258.1,857.7 L258.3,858.9 L258.4,860.1 L258.5,861.3 L258.7,862.5 L258.8,863.7 L258.9,864.9 L259.1,866.0 L259.2,867.2 L259.3,868.3 L259.5,869.5 L259.6,870.6 L259.7,871.7 L259.9,872.8 L260.0,873.8 L260.1,874.9 L260.3,875.9 L260.4,877.0 L260.5,878.0 L260.7,879.0 L260.8,880.0 L260.9,881.0 L261.1,882.0 L261.2,883.0 L261.3,883.9 L261.5,884.8 L261.6,885.8 L261.7,886.7 L261.9,887.6 L262.0,888.4 L262.1,889.3 L262.3,890.2 L262.4,891.0 L262.5,891.8 L262.7,892.6 L262.8,893.4 L262.9,894.2 L263.1,895.0 L263.2,895.7 L263.3,896.5 L263.5,897.2 L263.6,897.9 L263.7,898.6 L263.9,899.3 L264.0,899.9 L264.2,900.6 L264.3,901.2 L264.4,901.8 L264.6,902.4 L264.7,903.0 L264.8,903.6 L265.0,904.1 L265.1,904.7 L265.2,905.2 L265.4,905.7 L265.5,906.2 L265.6,906.7 L265.8,907.2 L265.9,907.6 L266.0,908.1 L266.2,908.5 L266.3,908.9 L266.4,909.3 L266.6,909.6 L266.7,910.0 L266.8,910.3 L267.0,910.7 L267.1,911.0 L267.2,911.3 L267.4,911.5 L267.5,911.8 L267.6,912.0 L267.8,912.3 L267.9,912.5 L268.0,912.7 L268.2,912.9 L268.3,913.0 L268.4,913.2 L268.6,913.3 L268.7,913.4 L268.8,913.5 L269.0,913.6 L269.1,913.7 L269.2,913.7 L269.4,913.7 L269.5,913.8 L269.6,913.8 L269.8,913.8 L269.9,913.7 L270.0,913.7 L270.2,913.6 L270.3,913.5 L270.5,913.4 L270.6,913.3 L270.7,913.2 L270.9,913.1 L271.0,912.9 L271.1,912.7 L271.3,912.6 L271.4,912.3 L271.5,912.1 L271.7,911.9 L271.8,911.6 L271.9,911.4 L272.1,911.1 L272.2,910.8 L272.3,910.5 L272.5,910.1 L272.6,909.8 L272.7,909.4 L272.9,909.1 L273.0,908.7 L273.1,908.3 L273.3,907.8 L273.4,907.4 L273.5,906.9 L273.7,906.5 L273.8,906.0 L273.9,905.5 L274.1,905.0 L274.2,904.5 L274.3,903.9 L274.5,903.3 L274.6,902.8 L274.7,902.2 L274.9,901.6 L275.0,901.0 L275.1,900.3 L275.3,899.7 L275.4,899.0 L275.5,898.4 L275.7,897.7 L275.8,897.0 L275.9,896.3 L276.1,895.5 L276.2,894.8 L276.3,894.0 L276.5,893.2 L276.6,892.5 L276.8,891.7 L276.9,890.9 L277.0,890.0 L277.2,889.2 L277.3,888.3 L277.4,887.5 L277.6,886.6 L277.7,885.7 L277.8,884.8 L278.0,883.9 L278.1,883.0 L278.2,882.0 L278.4,881.1 L278.5,880.1 L278.6,879.1 L278.8,878.1 L278.9,877.1 L279.0,876.1 L279.2,875.1 L279.3,874.1 L279.4,873.0 L279.6,871.9 L279.7,870.9 L279.8,869.8 L280.0,868.7 L280.1,867.6 L280.2,866.5 L280.4,865.4 L280.5,864.2 L280.6,863.1 L280.8,861.9 L280.9,860.8 L281.0,859.6 L281.2,858.4 L281.3,857.2 L281.4,856.0 L281.6,854.8 L281.7,853.5 L281.8,852.3 L282.0,851.1 L282.1,849.8 L282.2,848.6 L282.4,847.3 L282.5,846.0 L282.6,844.7 L282.8,843.4 L282.9,842.1 L283.1,840.8 L283.2,839.5 L283.3,838.2 L283.5,836.8 L283.6,835.5 L283.7,834.1 L283.9,832.8 L284.0,831.4 L284.1,830.1 L284.3,828.7 L284.4,827.3 L284.5,825.9 L284.7,824.5 L284.8,823.1 L284.9,821.7 L285.1,820.3 L285.2,818.9 L285.3,817.4 L285.5,816.0 L285.6,814.6 L285.7,813.1 L285.9,811.7 L286.0,810.2 L286.1,808.8 L286.3,807.3 L286.4,805.9 L286.5,804.4 L286.7,802.9 L286.8,801.4 L286.9,800.0 L287.1,798.5 L287.2,797.0 L287.3,795.5 L287.5,794.0 L287.6,792.5 L287.7,791.0 L287.9,789.5 L288.0,788.0 L288.1,786.5 L288.3,785.0 L288.4,783.5 L288.5,782.0 L288.7,780.5 L288.8,779.0 L288.9,777.4 L289.1,775.9 L289.2,774.4 L289.4,772.9 L289.5,771.4 L289.6,769.8 L289.8,768.3 L289.9,766.8 L290.0,765.3 L290.2,763.8 L290.3,762.2 L290.4,760.7 L290.6,759.2 L290.7,757.7 L290.8,756.2 L291.0,754.7 L291.1,753.1 L291.2,751.6 L291.4,750.1 L291.5,748.6 L291.6,747.1 L291.8,745.6 L291.9,744.1 L292.0,742.6 L292.2,741.1 L292.3,739.6 L292.4,738.1 L292.6,736.6 L292.7,735.1 L292.8,733.6 L293.0,732.1 L293.1,730.7 L293.2,729.2 L293.4,727.7 L293.5,726.3 L293.6,724.8 L293.8,723.3 L293.9,721.9 L294.0,720.4 L294.2,719.0 L294.3,717.6 L294.4,716.1 L294.6,714.7 L294.7,713.3 L294.8,711.9 L295.0,710.5 L295.1,709.1 L295.2,707.7 L295.4,706.3 L295.5,704.9 L295.6,703.5 L295.8,702.1 L295.9,700.8 L296.1,699.4 L296.2,698.0 L296.3,696.7 L296.5,695.4 L296.6,694.0 L296.7,692.7 L296.9,691.4 L297.0,690.1 L297.1,688.8 L297.3,687.5 L297.4,686.2 L297.5,684.9 L297.7,683.7 L297.8,682.4 L297.9,681.2 L298.1,679.9 L298.2,678.7 L298.3,677.5 L298.5,676.3 L298.6,675.1 L298.7,673.9 L298.9,672.7 L299.0,671.5 L299.1,670.3 L299.3,669.2 L299.4,668.0 L299.5,666.9 L299.7,665.8 L299.8,664.7 L299.9,663.6 L300.1,662.5 L300.2,661.4 L300.3,660.3 L300.5,659.3 L300.6,658.2 L300.7,657.2 L300.9,656.2 L301.0,655.1 L301.1,654.1 L301.3,653.2 L301.4,652.2 L301.5,651.2 L301.7,650.3 L301.8,649.3 L301.9,648.4 L302.1,647.5 L302.2,646.6 L302.4,645.7 L302.5,644.8 L302.6,643.9 L302.8,643.1 L302.9,642.2 L303.0,641.4 L303.2,640.6 L303.3,639.8 L303.4,639.0 L303.6,638.2 L303.7,637.5 L303.8,636.7 L304.0,636.0 L304.1,635.2 L304.2,634.5 L304.4,633.8 L304.5,633.2 L304.6,632.5 L304.8,631.8 L304.9,631.2 L305.0,630.6 L305.2,630.0 L305.3,629.4 L305.4,628.8 L305.6,628.2 L305.7,627.7 L305.8,627.1 L306.0,626.6 L306.1,626.1 L306.2,625.6 L306.4,625.1 L306.5,624.6 L306.6,624.2 L306.8,623.7 L306.9,623.3 L307.0,622.9 L307.2,622.5 L307.3,622.1 L307.4,621.8 L307.6,621.4 L307.7,621.1 L307.8,620.8 L308.0,620.5 L308.1,620.2 L308.2,619.9 L308.4,619.7 L308.5,619.4 L308.7,619.2 L308.8,619.0 L308.9,618.8 L309.1,618.6 L309.2,618.4 L309.3,618.3 L309.5,618.1 L309.6,618.0 L309.7,617.9 L309.9,617.8 L310.0,617.7 L310.1,617.7 L310.3,617.6 L310.4,617.6 L310.5,617.6 L310.7,617.6 L310.8,617.6 L310.9,617.7 L311.1,617.7 L311.2,617.8 L311.3,617.8 L311.5,617.9 L311.6,618.0 L311.7,618.2 L311.9,618.3 L312.0,618.5 L312.1,618.6 L312.3,618.8 L312.4,619.0 L312.5,619.2 L312.7,619.5 L312.8,619.7 L312.9,620.0 L313.1,620.3 L313.2,620.6 L313.3,620.9 L313.5,621.2 L313.6,621.5 L313.7,621.9 L313.9,622.2 L314.0,622.6 L314.1,623.0 L314.3,623.4 L314.4,623.8 L314.5,624.3 L314.7,624.7 L314.8,625.2 L315.0,625.7 L315.1,626.2 L315.2,626.7 L315.4,627.2 L315.5,627.8 L315.6,628.3 L315.8,628.9 L315.9,629.5 L316.0,630.1 L316.2,630.7 L316.3,631.3 L316.4,631.9 L316.6,632.6 L316.7,633.3 L316.8,633.9 L317.0,634.6 L317.1,635.3 L317.2,636.1 L317.4,636.8 L317.5,637.5 L317.6,638.3 L317.8,639.1 L317.9,639.9 L318.0,640.7 L318.2,641.5 L318.3,642.3 L318.4,643.1 L318.6,644.0 L318.7,644.8 L318.8,645.7 L319.0,646.6 L319.1,647.5 L319.2,648.4 L319.4,649.3 L319.5,650.3 L319.6,651.2 L319.8,652.2 L319.9,653.1 L320.0,654.1 L320.2,655.1 L320.3,656.1 L320.4,657.1 L320.6,658.2 L320.7,659.2 L320.8,660.2 L321.0,661.3 L321.1,662.4 L321.2,663.4 L321.4,664.5 L321.5,665.6 L321.7,666.7 L321.8,667.9 L321.9,669.0 L322.1,670.1 L322.2,671.3 L322.3,672.4 L322.5,673.6 L322.6,674.8 L322.7,676.0 L322.9,677.2 L323.0,678.4 L323.1,679.6 L323.3,680.8 L323.4,682.0 L323.5,683.3 L323.7,684.5 L323.8,685.8 L323.9,687.0 L324.1,688.3 L324.2,689.6 L324.3,690.9 L324.5,692.1 L324.6,693.4 L324.7,694.7 L324.9,696.1 L325.0,697.4 L325.1,698.7 L325.3,700.0 L325.4,701.4 L325.5,702.7 L325.7,704.1 L325.8,705.4 L325.9,706.8 L326.1,708.2 L326.2,709.5 L326.3,710.9 L326.5,712.3 L326.6,713.7 L326.7,715.1 L326.9,716.5 L327.0,717.9 L327.1,719.3 L327.3,720.7 L327.4,722.1 L327.5,723.6 L327.7,725.0 L327.8,726.4 L328.0,727.9 L328.1,729.3 L328.2,730.7 L328.4,732.2 L328.5,733.6 L328.6,735.1 L328.8,736.5 L328.9,738.0 L329.0,739.4 L329.2,740.9 L329.3,742.4 L329.4,743.8 L329.6,745.3 L329.7,746.7 L329.8,748.2 L330.0,749.7 L330.1,751.1 L330.2,752.6 L330.4,754.1 L330.5,755.6 L330.6,757.0 L330.8,758.5 L330.9,760.0 L331.0,761.5 L331.2,762.9 L331.3,764.4 L331.4,765.9 L331.6,767.3 L331.7,768.8 L331.8,770.3 L332.0,771.7 L332.1,773.2 L332.2,774.7 L332.4,776.1 L332.5,777.6 L332.6,779.1 L332.8,780.5 L332.9,782.0 L333.0,783.4 L333.2,784.9 L333.3,786.3 L333.4,787.8 L333.6,789.2 L333.7,790.7 L333.8,792.1 L334.0,793.5 L334.1,794.9 L334.3,796.4 L334.4,797.8 L334.5,799.2 L334.7,800.6 L334.8,802.0 L334.9,803.4 L335.1,804.8 L335.2,806.2 L335.3,807.6 L335.5,809.0 L335.6,810.4 L335.7,811.8 L335.9,813.1 L336.0,814.5 L336.1,815.8 L336.3,817.2 L336.4,818.5 L336.5,819.9 L336.7,821.2 L336.8,822.5 L336.9,823.8 L337.1,825.2 L337.2,826.5 L337.3,827.8 L337.5,829.0 L337.6,830.3 L337.7,831.6 L337.9,832.9 L338.0,834.1 L338.1,835.4 L338.3,836.6 L338.4,837.8 L338.5,839.1 L338.7,840.3 L338.8,841.5 L338.9,842.7 L339.1,843.9 L339.2,845.1 L339.3,846.2 L339.5,847.4 L339.6,848.6 L339.7,849.7 L339.9,850.8 L340.0,852.0 L340.1,853.1 L340.3,854.2 L340.4,855.3 L340.6,856.4 L340.7,857.4 L340.8,858.5 L341.0,859.5 L341.1,860.6 L341.2,861.6 L341.4,862.6 L341.5,863.6 L341.6,864.6 L341.8,865.6 L341.9,866.6 L342.0,867.6 L342.2,868.5 L342.3,869.5 L342.4,870.4 L342.6,871.3 L342.7,872.2 L342.8,873.1 L343.0,874.0 L343.1,874.8 L343.2,875.7 L343.4,876.5 L343.5,877.4 L343.6,878.2 L343.8,879.0 L343.9,879.8 L344.0,880.6 L344.2,881.3 L344.3,882.1 L344.4,882.8 L344.6,883.5 L344.7,884.3 L344.8,885.0 L345.0,885.6 L345.1,886.3 L345.2,887.0 L345.4,887.6 L345.5,888.2 L345.6,888.9 L345.8,889.5 L345.9,890.1 L346.0,890.6 L346.2,891.2 L346.3,891.7 L346.4,892.3 L346.6,892.8 L346.7,893.3 L346.8,893.8 L347.0,894.2 L347.1,894.7 L347.3,895.2 L347.4,895.6 L347.5,896.0 L347.7,896.4 L347.8,896.8 L347.9,897.2 L348.1,897.5 L348.2,897.8 L348.3,898.2 L348.5,898.5 L348.6,898.8 L348.7,899.1 L348.9,899.3 L349.0,899.6 L349.1,899.8 L349.3,900.0 L349.4,900.2 L349.5,900.4 L349.7,900.6 L349.8,900.8 L349.9,900.9 L350.1,901.0 L350.2,901.1 L350.3,901.2 L350.5,901.3 L350.6,901.4 L350.7,901.4 L350.9,901.5 L351.0,901.5 L351.1,901.5 L351.3,901.5 L351.4,901.5 L351.5,901.4 L351.7,901.4 L351.8,901.3 L351.9,901.2 L352.1,901.1 L352.2,901.0 L352.3,900.8 L352.5,900.7 L352.6,900.5 L352.7,900.3 L352.9,900.1 L353.0,899.9 L353.1,899.7 L353.3,899.5 L353.4,899.2 L353.6,898.9 L353.7,898.6 L353.8,898.3 L354.0,898.0 L354.1,897.7 L354.2,897.3 L354.4,897.0 L354.5,896.6 L354.6,896.2 L354.8,895.8 L354.9,895.4 L355.0,894.9 L355.2,894.5 L355.3,894.0 L355.4,893.5 L355.6,893.0 L355.7,892.5 L355.8,892.0 L356.0,891.4 L356.1,890.9 L356.2,890.3 L356.4,889.7 L356.5,889.1 L356.6,888.5 L356.8,887.9 L356.9,887.3 L357.0,886.6 L357.2,885.9 L357.3,885.2 L357.4,884.5 L357.6,883.8 L357.7,883.1 L357.8,882.4 L358.0,881.6 L358.1,880.8 L358.2,880.1 L358.4,879.3 L358.5,878.5 L358.6,877.7 L358.8,876.8 L358.9,876.0 L359.0,875.1 L359.2,874.2 L359.3,873.4 L359.4,872.5 L359.6,871.6 L359.7,870.6 L359.9,869.7 L360.0,868.8 L360.1,867.8 L360.3,866.8 L360.4,865.8 L360.5,864.9 L360.7,863.8 L360.8,862.8 L360.9,861.8 L361.1,860.8 L361.2,859.7 L361.3,858.7 L361.5,857.6 L361.6,856.5 L361.7,855.4 L361.9,854.3 L362.0,853.2 L362.1,852.0 L362.3,850.9 L362.4,849.8 L362.5,848.6 L362.7,847.4 L362.8,846.3 L362.9,845.1 L363.1,843.9 L363.2,842.7 L363.3,841.5 L363.5,840.2 L363.6,839.0 L363.7,837.7 L363.9,836.5 L364.0,835.2 L364.1,834.0 L364.3,832.7 L364.4,831.4 L364.5,830.1 L364.7,828.8 L364.8,827.5 L364.9,826.2 L365.1,824.9 L365.2,823.5 L365.3,822.2 L365.5,820.8 L365.6,819.5 L365.7,818.1 L365.9,816.7 L366.0,815.4 L366.2,814.0 L366.3,812.6 L366.4,811.2 L366.6,809.8 L366.7,808.4 L366.8,807.0 L367.0,805.6 L367.1,804.2 L367.2,802.7 L367.4,801.3 L367.5,799.9 L367.6,798.4 L367.8,797.0 L367.9,795.5 L368.0,794.1 L368.2,792.6 L368.3,791.1 L368.4,789.7 L368.6,788.2 L368.7,786.7 L368.8,785.2 L369.0,783.8 L369.1,782.3 L369.2,780.8 L369.4,779.3 L369.5,777.8 L369.6,776.3 L369.8,774.8 L369.9,773.3 L370.0,771.8 L370.2,770.3 L370.3,768.8 L370.4,767.3 L370.6,765.8 L370.7,764.3 L370.8,762.8 L371.0,761.3 L371.1,759.7 L371.2,758.2 L371.4,756.7 L371.5,755.2 L371.6,753.7 L371.8,752.2 L371.9,750.7 L372.0,749.2 L372.2,747.7 L372.3,746.2 L372.5,744.6 L372.6,743.1 L372.7,741.6 L372.9,740.1 L373.0,738.6 L373.1,737.1 L373.3,735.6 L373.4,734.1 L373.5,732.6 L373.7,731.2 L373.8,729.7 L373.9,728.2 L374.1,726.7 L374.2,725.2 L374.3,723.7 L374.5,722.3 L374.6,720.8 L374.7,719.3 L374.9,717.9 L375.0,716.4 L375.1,715.0 L375.3,713.5 L375.4,712.1 L375.5,710.7 L375.7,709.2 L375.8,707.8 L375.9,706.4 L376.1,705.0 L376.2,703.5 L376.3,702.1 L376.5,700.7 L376.6,699.3 L376.7,698.0 L376.9,696.6 L377.0,695.2 L377.1,693.8 L377.3,692.5 L377.4,691.1 L377.5,689.8 L377.7,688.4 L377.8,687.1 L377.9,685.8 L378.1,684.5 L378.2,683.2 L378.3,681.9 L378.5,680.6 L378.6,679.3 L378.7,678.0 L378.9,676.8 L379.0,675.5 L379.2,674.2 L379.3,673.0 L379.4,671.8 L379.6,670.6 L379.7,669.3 L379.8,668.1 L380.0,667.0 L380.1,665.8 L380.2,664.6 L380.4,663.4 L380.5,662.3 L380.6,661.1 L380.8,660.0 L380.9,658.9 L381.0,657.8 L381.2,656.7 L381.3,655.6 L381.4,654.5 L381.6,653.5 L381.7,652.4 L381.8,651.4 L382.0,650.4 L382.1,649.3 L382.2,648.3 L382.4,647.3 L382.5,646.4 L382.6,645.4 L382.8,644.4 L382.9,643.5 L383.0,642.6 L383.2,641.6 L383.3,640.7 L383.4,639.8 L383.6,639.0 L383.7,638.1 L383.8,637.2 L384.0,636.4 L384.1,635.6 L384.2,634.8 L384.4,634.0 L384.5,633.2 L384.6,632.4 L384.8,631.7 L384.9,630.9 L385.0,630.2 L385.2,629.5 L385.3,628.8 L385.5,628.1 L385.6,627.4 L385.7,626.8 L385.9,626.1 L386.0,625.5 L386.1,624.9 L386.3,624.3 L386.4,623.7 L386.5,623.1 L386.7,622.6 L386.8,622.0 L386.9,621.5 L387.1,621.0 L387.2,620.5 L387.3,620.0 L387.5,619.6 L387.6,619.1 L387.7,618.7 L387.9,618.3 L388.0,617.9 L388.1,617.5 L388.3,617.1 L388.4,616.8 L388.5,616.5 L388.7,616.1 L388.8,615.8 L388.9,615.6 L389.1,615.3 L389.2,615.0 L389.3,614.8 L389.5,614.6 L389.6,614.4 L389.7,614.2 L389.9,614.0 L390.0,613.8 L390.1,613.7 L390.3,613.6 L390.4,613.5 L390.5,613.4 L390.7,613.3 L390.8,613.3 L390.9,613.2 L391.1,613.2 L391.2,613.2 L391.3,613.2 L391.5,613.2 L391.6,613.3 L391.8,613.3 L391.9,613.4 L392.0,613.5 L392.2,613.6 L392.3,613.7 L392.4,613.8 L392.6,614.0 L392.7,614.2 L392.8,614.4 L393.0,614.6 L393.1,614.8 L393.2,615.0 L393.4,615.3 L393.5,615.6 L393.6,615.9 L393.8,616.2 L393.9,616.5 L394.0,616.8 L394.2,617.2 L394.3,617.5 L394.4,617.9 L394.6,618.3 L394.7,618.8 L394.8,619.2 L395.0,619.6 L395.1,620.1 L395.2,620.6 L395.4,621.1 L395.5,621.6 L395.6,622.1 L395.8,622.7 L395.9,623.3 L396.0,623.8 L396.2,624.4 L396.3,625.0 L396.4,625.7 L396.6,626.3 L396.7,627.0 L396.8,627.6 L397.0,628.3 L397.1,629.0 L397.2,629.8 L397.4,630.5 L397.5,631.2 L397.6,632.0 L397.8,632.8 L397.9,633.6 L398.1,634.4 L398.2,635.2 L398.3,636.0 L398.5,636.9 L398.6,637.8 L398.7,638.6 L398.9,639.5 L399.0,640.4 L399.1,641.4 L399.3,642.3 L399.4,643.3 L399.5,644.2 L399.7,645.2 L399.8,646.2 L399.9,647.2 L400.1,648.2 L400.2,649.3 L400.3,650.3 L400.5,651.4 L400.6,652.4 L400.7,653.5 L400.9,654.6 L401.0,655.7 L401.1,656.9 L401.3,658.0 L401.4,659.1 L401.5,660.3 L401.7,661.5 L401.8,662.7 L401.9,663.8 L402.1,665.1 L402.2,666.3 L402.3,667.5 L402.5,668.7 L402.6,670.0 L402.7,671.3 L402.9,672.5 L403.0,673.8 L403.1,675.1 L403.3,676.4 L403.4,677.7 L403.5,679.1 L403.7,680.4 L403.8,681.8 L403.9,683.1 L404.1,684.5 L404.2,685.8 L404.3,687.2 L404.5,688.6 L404.6,690.0 L404.8,691.4 L404.9,692.9 L405.0,694.3 L405.2,695.7 L405.3,697.2 L405.4,698.6 L405.6,700.1 L405.7,701.6 L405.8,703.0 L406.0,704.5 L406.1,706.0 L406.2,707.5 L406.4,709.0 L406.5,710.5 L406.6,712.1 L406.8,713.6 L406.9,715.1 L407.0,716.7 L407.2,718.2 L407.3,719.8 L407.4,721.3 L407.6,722.9 L407.7,724.4 L407.8,726.0 L408.0,727.6 L408.1,729.2 L408.2,730.8 L408.4,732.3 L408.5,733.9 L408.6,735.5 L408.8,737.1 L408.9,738.7 L409.0,740.4 L409.2,742.0 L409.3,743.6 L409.4,745.2 L409.6,746.8 L409.7,748.5 L409.8,750.1 L410.0,751.7 L410.1,753.3 L410.2,755.0 L410.4,756.6 L410.5,758.3 L410.6,759.9 L410.8,761.5 L410.9,763.2 L411.1,764.8 L411.2,766.5 L411.3,768.1 L411.5,769.7 L411.6,771.4 L411.7,773.0 L411.9,774.7 L412.0,776.3 L412.1,778.0 L412.3,779.6 L412.4,781.2 L412.5,782.9 L412.7,784.5 L412.8,786.1 L412.9,787.8 L413.1,789.4 L413.2,791.0 L413.3,792.7 L413.5,794.3 L413.6,795.9 L413.7,797.5 L413.9,799.1 L414.0,800.8 L414.1,802.4 L414.3,804.0 L414.4,805.6 L414.5,807.2 L414.7,808.8 L414.8,810.4 L414.9,811.9 L415.1,813.5 L415.2,815.1 L415.3,816.7 L415.5,818.2 L415.6,819.8 L415.7,821.3 L415.9,822.9 L416.0,824.4 L416.1,826.0 L416.3,827.5 L416.4,829.0 L416.5,830.5 L416.7,832.0 L416.8,833.5 L416.9,835.0 L417.1,836.5 L417.2,838.0 L417.4,839.4 L417.5,840.9 L417.6,842.4 L417.8,843.8 L417.9,845.2 L418.0,846.7 L418.2,848.1 L418.3,849.5 L418.4,850.9 L418.6,852.3 L418.7,853.7 L418.8,855.1 L419.0,856.4 L419.1,857.8 L419.2,859.1 L419.4,860.4 L419.5,861.8 L419.6,863.1 L419.8,864.4 L419.9,865.7 L420.0,866.9 L420.2,868.2 L420.3,869.5 L420.4,870.7 L420.6,871.9 L420.7,873.2 L420.8,874.4 L421.0,875.6 L421.1,876.7 L421.2,877.9 L421.4,879.1 L421.5,880.2 L421.6,881.3 L421.8,882.5 L421.9,883.6 L422.0,884.7 L422.2,885.7 L422.3,886.8 L422.4,887.9 L422.6,888.9 L422.7,889.9 L422.8,890.9 L423.0,891.9 L423.1,892.9 L423.2,893.9 L423.4,894.8 L423.5,895.7 L423.7,896.7 L423.8,897.6 L423.9,898.5 L424.1,899.3 L424.2,900.2 L424.3,901.0 L424.5,901.9 L424.6,902.7 L424.7,903.5 L424.9,904.3 L425.0,905.0 L425.1,905.8 L425.3,906.5 L425.4,907.2 L425.5,907.9 L425.7,908.6 L425.8,909.3 L425.9,909.9 L426.1,910.6 L426.2,911.2 L426.3,911.8 L426.5,912.4 L426.6,912.9 L426.7,913.5 L426.9,914.0 L427.0,914.5 L427.1,915.0 L427.3,915.5 L427.4,916.0 L427.5,916.4 L427.7,916.8 L427.8,917.2 L427.9,917.6 L428.1,918.0 L428.2,918.3 L428.3,918.7 L428.5,919.0 L428.6,919.3 L428.7,919.6 L428.9,919.8 L429.0,920.1 L429.1,920.3 L429.3,920.5 L429.4,920.7 L429.5,920.9 L429.7,921.0 L429.8,921.2 L429.9,921.3 L430.1,921.4 L430.2,921.4 L430.4,921.5 L430.5,921.5 L430.6,921.6 L430.8,921.6 L430.9,921.5 L431.0,921.5 L431.2,921.5 L431.3,921.4 L431.4,921.3 L431.6,921.2 L431.7,921.1 L431.8,920.9 L432.0,920.7 L432.1,920.5 L432.2,920.3 L432.4,920.1 L432.5,919.9 L432.6,919.6 L432.8,919.3 L432.9,919.0 L433.0,918.7 L433.2,918.4 L433.3,918.0 L433.4,917.7 L433.6,917.3 L433.7,916.8 L433.8,916.4 L434.0,916.0 L434.1,915.5 L434.2,915.0 L434.4,914.5 L434.5,914.0 L434.6,913.4 L434.8,912.9 L434.9,912.3 L435.0,911.7 L435.2,911.1 L435.3,910.5 L435.4,909.8 L435.6,909.1 L435.7,908.5 L435.8,907.8 L436.0,907.0 L436.1,906.3 L436.2,905.5 L436.4,904.8 L436.5,904.0 L436.7,903.2 L436.8,902.3 L436.9,901.5 L437.1,900.6 L437.2,899.7 L437.3,898.8 L437.5,897.9 L437.6,897.0 L437.7,896.1 L437.9,895.1 L438.0,894.1 L438.1,893.1 L438.3,892.1 L438.4,891.1 L438.5,890.0 L438.7,889.0 L438.8,887.9 L438.9,886.8 L439.1,885.7 L439.2,884.6 L439.3,883.4 L439.5,882.3 L439.6,881.1 L439.7,879.9 L439.9,878.7 L440.0,877.5 L440.1,876.3 L440.3,875.0 L440.4,873.7 L440.5,872.5 L440.7,871.2 L440.8,869.9 L440.9,868.6 L441.1,867.2 L441.2,865.9 L441.3,864.5 L441.5,863.2 L441.6,861.8 L441.7,860.4 L441.9,859.0 L442.0,857.5 L442.1,856.1 L442.3,854.7 L442.4,853.2 L442.5,851.7 L442.7,850.2 L442.8,848.7 L443.0,847.2 L443.1,845.7 L443.2,844.2 L443.4,842.6 L443.5,841.1 L443.6,839.5 L443.8,838.0 L443.9,836.4 L444.0,834.8 L444.2,833.2 L444.3,831.6 L444.4,829.9 L444.6,828.3 L444.7,826.7 L444.8,825.0 L445.0,823.3 L445.1,821.7 L445.2,820.0 L445.4,818.3 L445.5,816.6 L445.6,814.9 L445.8,813.2 L445.9,811.5 L446.0,809.7 L446.2,808.0 L446.3,806.3 L446.4,804.5 L446.6,802.8 L446.7,801.0 L446.8,799.3 L447.0,797.5 L447.1,795.7 L447.2,793.9 L447.4,792.1 L447.5,790.3 L447.6,788.5 L447.8,786.7 L447.9,784.9 L448.0,783.1 L448.2,781.3 L448.3,779.5 L448.4,777.7 L448.6,775.8 L448.7,774.0 L448.8,772.2 L449.0,770.3 L449.1,768.5 L449.3,766.7 L449.4,764.8 L449.5,763.0 L449.7,761.1 L449.8,759.3 L449.9,757.4 L450.1,755.6 L450.2,753.7 L450.3,751.9 L450.5,750.0 L450.6,748.2 L450.7,746.3 L450.9,744.5 L451.0,742.6 L451.1,740.8 L451.3,738.9 L451.4,737.1 L451.5,735.2 L451.7,733.4 L451.8,731.6 L451.9,729.7 L452.1,727.9 L452.2,726.1 L452.3,724.2 L452.5,722.4 L452.6,720.6 L452.7,718.8 L452.9,716.9 L453.0,715.1 L453.1,713.3 L453.3,711.5 L453.4,709.7 L453.5,707.9 L453.7,706.1 L453.8,704.3 L453.9,702.6 L454.1,700.8 L454.2,699.0 L454.3,697.3 L454.5,695.5 L454.6,693.8 L454.7,692.0 L454.9,690.3 L455.0,688.6 L455.1,686.9 L455.3,685.1 L455.4,683.4 L455.6,681.7 L455.7,680.1 L455.8,678.4 L456.0,676.7 L456.1,675.1 L456.2,673.4 L456.4,671.8 L456.5,670.1 L456.6,668.5 L456.8,666.9 L456.9,665.3 L457.0,663.7 L457.2,662.1 L457.3,660.6 L457.4,659.0 L457.6,657.5 L457.7,656.0 L457.8,654.4 L458.0,652.9 L458.1,651.4 L458.2,649.9 L458.4,648.5 L458.5,647.0 L458.6,645.6 L458.8,644.1 L458.9,642.7 L459.0,641.3 L459.2,639.9 L459.3,638.6 L459.4,637.2 L459.6,635.8 L459.7,634.5 L459.8,633.2 L460.0,631.9 L460.1,630.6 L460.2,629.3 L460.4,628.1 L460.5,626.8 L460.6,625.6 L460.8,624.4 L460.9,623.2 L461.0,622.0 L461.2,620.8 L461.3,619.7 L461.4,618.6 L461.6,617.5 L461.7,616.4 L461.8,615.3 L462.0,614.2 L462.1,613.2 L462.3,612.2 L462.4,611.2 L462.5,610.2 L462.7,609.2 L462.8,608.2 L462.9,607.3 L463.1,606.4 L463.2,605.5 L463.3,604.6 L463.5,603.8 L463.6,602.9 L463.7,602.1 L463.9,601.3 L464.0,600.5 L464.1,599.8 L464.3,599.0 L464.4,598.3 L464.5,597.6 L464.7,596.9 L464.8,596.2 L464.9,595.6 L465.1,595.0 L465.2,594.4 L465.3,593.8 L465.5,593.2 L465.6,592.7 L465.7,592.2 L465.9,591.7 L466.0,591.2 L466.1,590.7 L466.3,590.3 L466.4,589.9 L466.5,589.5 L466.7,589.1 L466.8,588.8 L466.9,588.4 L467.1,588.1 L467.2,587.8 L467.3,587.6 L467.5,587.3 L467.6,587.1 L467.7,586.9 L467.9,586.7 L468.0,586.6 L468.1,586.4 L468.3,586.3 L468.4,586.2 L468.6,586.2 L468.7,586.1 L468.8,586.1 L469.0,586.1 L469.1,586.1 L469.2,586.1 L469.4,586.2 L469.5,586.3 L469.6,586.4 L469.8,586.5 L469.9,586.7 L470.0,586.9 L470.2,587.0 L470.3,587.3 L470.4,587.5 L470.6,587.8 L470.7,588.0 L470.8,588.4 L471.0,588.7 L471.1,589.0 L471.2,589.4 L471.4,589.8 L471.5,590.2 L471.6,590.6 L471.8,591.1 L471.9,591.6 L472.0,592.1 L472.2,592.6 L472.3,593.2 L472.4,593.7 L472.6,594.3 L472.7,594.9 L472.8,595.5 L473.0,596.2 L473.1,596.9 L473.2,597.6 L473.4,598.3 L473.5,599.0 L473.6,599.8 L473.8,600.5 L473.9,601.3 L474.0,602.2 L474.2,603.0 L474.3,603.9 L474.4,604.7 L474.6,605.6 L474.7,606.6 L474.9,607.5 L475.0,608.5 L475.1,609.4 L475.3,610.4 L475.4,611.5 L475.5,612.5 L475.7,613.5 L475.8,614.6 L475.9,615.7 L476.1,616.8 L476.2,618.0 L476.3,619.1 L476.5,620.3 L476.6,621.5 L476.7,622.7 L476.9,623.9 L477.0,625.1 L477.1,626.4 L477.3,627.7 L477.4,629.0 L477.5,630.3 L477.7,631.6 L477.8,632.9 L477.9,634.3 L478.1,635.7 L478.2,637.1 L478.3,638.5 L478.5,639.9 L478.6,641.3 L478.7,642.8 L478.9,644.3 L479.0,645.7 L479.1,647.2 L479.3,648.8 L479.4,650.3 L479.5,651.8 L479.7,653.4 L479.8,655.0 L479.9,656.5 L480.1,658.1 L480.2,659.8 L480.3,661.4 L480.5,663.0 L480.6,664.7 L480.7,666.3 L480.9,668.0 L481.0,669.7 L481.2,671.4 L481.3,673.1 L481.4,674.8 L481.6,676.5 L481.7,678.3 L481.8,680.0 L482.0,681.8 L482.1,683.6 L482.2,685.3 L482.4,687.1 L482.5,688.9 L482.6,690.7 L482.8,692.5 L482.9,694.4 L483.0,696.2 L483.2,698.0 L483.3,699.9 L483.4,701.7 L483.6,703.6 L483.7,705.5 L483.8,707.3 L484.0,709.2 L484.1,711.1 L484.2,713.0 L484.4,714.9 L484.5,716.8 L484.6,718.7 L484.8,720.6 L484.9,722.5 L485.0,724.5 L485.2,726.4 L485.3,728.3 L485.4,730.3 L485.6,732.2 L485.7,734.1 L485.8,736.1 L486.0,738.0 L486.1,739.9 L486.2,741.9 L486.4,743.8 L486.5,745.8 L486.6,747.7 L486.8,749.7 L486.9,751.6 L487.0,753.6 L487.2,755.5 L487.3,757.5 L487.4,759.4 L487.6,761.4 L487.7,763.3 L487.9,765.2 L488.0,767.2 L488.1,769.1 L488.3,771.0 L488.4,773.0 L488.5,774.9 L488.7,776.8 L488.8,778.7 L488.9,780.6 L489.1,782.6 L489.2,784.5 L489.3,786.4 L489.5,788.3 L489.6,790.1 L489.7,792.0 L489.9,793.9 L490.0,795.8 L490.1,797.6 L490.3,799.5 L490.4,801.3 L490.5,803.2 L490.7,805.0 L490.8,806.8 L490.9,808.6 L491.1,810.4 L491.2,812.2 L491.3,814.0 L491.5,815.8 L491.6,817.6 L491.7,819.3 L491.9,821.1 L492.0,822.8 L492.1,824.5 L492.3,826.2 L492.4,827.9 L492.5,829.6 L492.7,831.3 L492.8,833.0 L492.9,834.6 L493.1,836.3 L493.2,837.9 L493.3,839.5 L493.5,841.1 L493.6,842.7 L493.7,844.3 L493.9,845.8 L494.0,847.4 L494.2,848.9 L494.3,850.4 L494.4,851.9 L494.6,853.4 L494.7,854.9 L494.8,856.3 L495.0,857.8 L495.1,859.2 L495.2,860.6 L495.4,862.0 L495.5,863.3 L495.6,864.7 L495.8,866.0 L495.9,867.3 L496.0,868.6 L496.2,869.9 L496.3,871.2 L496.4,872.4 L496.6,873.7 L496.7,874.9 L496.8,876.1 L497.0,877.2 L497.1,878.4 L497.2,879.5 L497.4,880.6 L497.5,881.7 L497.6,882.8 L497.8,883.8 L497.9,884.9 L498.0,885.9 L498.2,886.9 L498.3,887.8 L498.4,888.8 L498.6,889.7 L498.7,890.6 L498.8,891.5 L499.0,892.4 L499.1,893.2 L499.2,894.0 L499.4,894.8 L499.5,895.6 L499.6,896.3 L499.8,897.1 L499.9,897.8 L500.0,898.5 L500.2,899.1 L500.3,899.8 L500.5,900.4 L500.6,901.0 L500.7,901.6 L500.9,902.1 L501.0,902.7 L501.1,903.2 L501.3,903.7 L501.4,904.1 L501.5,904.6 L501.7,905.0 L501.8,905.4 L501.9,905.7 L502.1,906.1 L502.2,906.4 L502.3,906.7 L502.5,907.0 L502.6,907.2 L502.7,907.5 L502.9,907.7 L503.0,907.9 L503.1,908.0 L503.3,908.2 L503.4,908.3 L503.5,908.4 L503.7,908.4 L503.8,908.5 L503.9,908.5 L504.1,908.5 L504.2,908.5 L504.3,908.4 L504.5,908.4 L504.6,908.3 L504.7,908.2 L504.9,908.0 L505.0,907.9 L505.1,907.7 L505.3,907.5 L505.4,907.2 L505.5,907.0 L505.7,906.7 L505.8,906.4 L505.9,906.1 L506.1,905.8 L506.2,905.4 L506.3,905.0 L506.5,904.6 L506.6,904.2 L506.8,903.8 L506.9,903.3 L507.0,902.8 L507.2,902.3 L507.3,901.8 L507.4,901.2 L507.6,900.6 L507.7,900.1 L507.8,899.4 L508.0,898.8 L508.1,898.2 L508.2,897.5 L508.4,896.8 L508.5,896.1 L508.6,895.4 L508.8,894.6 L508.9,893.9 L509.0,893.1 L509.2,892.3 L509.3,891.4 L509.4,890.6 L509.6,889.8 L509.7,888.9 L509.8,888.0 L510.0,887.1 L510.1,886.2 L510.2,885.2 L510.4,884.3 L510.5,883.3 L510.6,882.3 L510.8,881.3 L510.9,880.3 L511.0,879.3 L511.2,878.2 L511.3,877.2 L511.4,876.1 L511.6,875.0 L511.7,873.9 L511.8,872.8 L512.0,871.6 L512.1,870.5 L512.2,869.3 L512.4,868.2 L512.5,867.0 L512.6,865.8 L512.8,864.6 L512.9,863.4 L513.0,862.2 L513.2,860.9 L513.3,859.7 L513.5,858.4 L513.6,857.2 L513.7,855.9 L513.9,854.6 L514.0,853.3 L514.1,852.0 L514.3,850.7 L514.4,849.4 L514.5,848.1 L514.7,846.8 L514.8,845.4 L514.9,844.1 L515.1,842.7 L515.2,841.4 L515.3,840.0 L515.5,838.7 L515.6,837.3 L515.7,835.9 L515.9,834.5 L516.0,833.2 L516.1,831.8 L516.3,830.4 L516.4,829.0 L516.5,827.6 L516.7,826.2 L516.8,824.8 L516.9,823.4 L517.1,822.0 L517.2,820.6 L517.3,819.2 L517.5,817.8 L517.6,816.4 L517.7,815.0 L517.9,813.6 L518.0,812.3 L518.1,810.9 L518.3,809.5 L518.4,808.1 L518.5,806.7 L518.7,805.3 L518.8,803.9 L518.9,802.6 L519.1,801.2 L519.2,799.8 L519.3,798.5 L519.5,797.1 L519.6,795.7 L519.8,794.4 L519.9,793.1 L520.0,791.7 L520.2,790.4 L520.3,789.1 L520.4,787.8 L520.6,786.5 L520.7,785.2 L520.8,783.9 L521.0,782.6 L521.1,781.3 L521.2,780.1 L521.4,778.8 L521.5,777.6 L521.6,776.3 L521.8,775.1 L521.9,773.9 L522.0,772.7 L522.2,771.5 L522.3,770.3 L522.4,769.1 L522.6,768.0 L522.7,766.8 L522.8,765.7 L523.0,764.6 L523.1,763.5 L523.2,762.4 L523.4,761.3 L523.5,760.2 L523.6,759.2 L523.8,758.1 L523.9,757.1 L524.0,756.1 L524.2,755.1 L524.3,754.1 L524.4,753.1 L524.6,752.2 L524.7,751.2 L524.8,750.3 L525.0,749.4 L525.1,748.5 L525.2,747.6 L525.4,746.8 L525.5,745.9 L525.6,745.1 L525.8,744.3 L525.9,743.5 L526.1,742.8 L526.2,742.0 L526.3,741.3 L526.5,740.5 L526.6,739.8 L526.7,739.1 L526.9,738.5 L527.0,737.8 L527.1,737.2 L527.3,736.6 L527.4,736.0 L527.5,735.4 L527.7,734.8 L527.8,734.3 L527.9,733.8 L528.1,733.3 L528.2,732.8 L528.3,732.3 L528.5,731.9 L528.6,731.5 L528.7,731.1 L528.9,730.7 L529.0,730.3 L529.1,729.9 L529.3,729.6 L529.4,729.3 L529.5,729.0 L529.7,728.7 L529.8,728.5 L529.9,728.2 L530.1,728.0 L530.2,727.8 L530.3,727.6 L530.5,727.4 L530.6,727.3 L530.7,727.2 L530.9,727.1 L531.0,727.0 L531.1,726.9 L531.3,726.9 L531.4,726.8 L531.5,726.8 L531.7,726.8 L531.8,726.8 L531.9,726.9 L532.1,726.9 L532.2,727.0 L532.4,727.1 L532.5,727.2 L532.6,727.3 L532.8,727.4 L532.9,727.6 L533.0,727.8 L533.2,728.0 L533.3,728.2 L533.4,728.4 L533.6,728.6 L533.7,728.9 L533.8,729.2 L534.0,729.5 L534.1,729.8 L534.2,730.1 L534.4,730.4 L534.5,730.8 L534.6,731.1 L534.8,731.5 L534.9,731.9 L535.0,732.3 L535.2,732.7 L535.3,733.1 L535.4,733.6 L535.6,734.0 L535.7,734.5 L535.8,735.0 L536.0,735.5 L536.1,736.0 L536.2,736.5 L536.4,737.0 L536.5,737.5 L536.6,738.1 L536.8,738.7 L536.9,739.2 L537.0,739.8 L537.2,740.4 L537.3,741.0 L537.4,741.6 L537.6,742.2 L537.7,742.8 L537.8,743.5 L538.0,744.1 L538.1,744.7 L538.2,745.4 L538.4,746.1 L538.5,746.7 L538.7,747.4 L538.8,748.1 L538.9,748.7 L539.1,749.4 L539.2,750.1 L539.3,750.8 L539.5,751.5 L539.6,752.2 L539.7,752.9 L539.9,753.7 L540.0,754.4 L540.1,755.1 L540.3,755.8 L540.4,756.5 L540.5,757.2 L540.7,758.0 L540.8,758.7 L540.9,759.4 L541.1,760.1 L541.2,760.9 L541.3,761.6 L541.5,762.3 L541.6,763.0 L541.7,763.7 L541.9,764.5 L542.0,765.2 L542.1,765.9 L542.3,766.6 L542.4,767.3 L542.5,768.0 L542.7,768.8 L542.8,769.5 L542.9,770.2 L543.1,770.9 L543.2,771.6 L543.3,772.3 L543.5,772.9 L543.6,773.6 L543.7,774.3 L543.9,775.0 L544.0,775.7 L544.1,776.3 L544.3,777.0 L544.4,777.7 L544.5,778.3 L544.7,779.0 L544.8,779.6 L544.9,780.3 L545.1,780.9 L545.2,781.5 L545.4,782.2 L545.5,782.8 L545.6,783.4 L545.8,784.0 L545.9,784.6 L546.0,785.2 L546.2,785.8 L546.3,786.4 L546.4,786.9 L546.6,787.5 L546.7,788.0 L546.8,788.6 L547.0,789.1 L547.1,789.7 L547.2,790.2 L547.4,790.7 L547.5,791.2 L547.6,791.7 L547.8,792.2 L547.9,792.7 L548.0,793.2 L548.2,793.6 L548.3,794.1 L548.4,794.6 L548.6,795.0 L548.7,795.4 L548.8,795.8 L549.0,796.2 L549.1,796.6 L549.2,797.0 L549.4,797.4 L549.5,797.8 L549.6,798.1 L549.8,798.5 L549.9,798.8 L550.0,799.1 L550.2,799.5 L550.3,799.8 L550.4,800.1 L550.6,800.3 L550.7,800.6 L550.8,800.9 L551.0,801.1 L551.1,801.3 L551.2,801.6 L551.4,801.8 L551.5,802.0 L551.7,802.2 L551.8,802.3 L551.9,802.5 L552.1,802.7 L552.2,802.8 L552.3,802.9 L552.5,803.0 L552.6,803.1 L552.7,803.2 L552.9,803.3 L553.0,803.4 L553.1,803.4 L553.3,803.5 L553.4,803.5 L553.5,803.5 L553.7,803.5 L553.8,803.5 L553.9,803.5 L554.1,803.4 L554.2,803.4 L554.3,803.3 L554.5,803.2 L554.6,803.1 L554.7,803.0 L554.9,802.9 L555.0,802.8 L555.1,802.6 L555.3,802.5 L555.4,802.3 L555.5,802.1 L555.7,801.9 L555.8,801.7 L555.9,801.5 L556.1,801.2 L556.2,801.0 L556.3,800.7 L556.5,800.4 L556.6,800.1 L556.7,799.8 L556.9,799.5 L557.0,799.2 L557.1,798.8 L557.3,798.4 L557.4,798.1 L557.5,797.7 L557.7,797.3 L557.8,796.9 L558.0,796.4 L558.1,796.0 L558.2,795.5 L558.4,795.1 L558.5,794.6 L558.6,794.1 L558.8,793.6 L558.9,793.1 L559.0,792.5 L559.2,792.0 L559.3,791.4 L559.4,790.9 L559.6,790.3 L559.7,789.7 L559.8,789.1 L560.0,788.4 L560.1,787.8 L560.2,787.1 L560.4,786.5 L560.5,785.8 L560.6,785.1 L560.8,784.4 L560.9,783.7 L561.0,783.0 L561.2,782.3 L561.3,781.5 L561.4,780.8 L561.6,780.0 L561.7,779.2 L561.8,778.4 L562.0,777.6 L562.1,776.8 L562.2,776.0 L562.4,775.2 L562.5,774.3 L562.6,773.4 L562.8,772.6 L562.9,771.7 L563.0,770.8 L563.2,769.9 L563.3,769.0 L563.4,768.1 L563.6,767.1 L563.7,766.2 L563.8,765.3 L564.0,764.3 L564.1,763.3 L564.3,762.3 L564.4,761.4 L564.5,760.4 L564.7,759.4 L564.8,758.3 L564.9,757.3 L565.1,756.3 L565.2,755.2 L565.3,754.2 L565.5,753.1 L565.6,752.1 L565.7,751.0 L565.9,749.9 L566.0,748.8 L566.1,747.7 L566.3,746.6 L566.4,745.5 L566.5,744.4 L566.7,743.3 L566.8,742.1 L566.9,741.0 L567.1,739.9 L567.2,738.7 L567.3,737.6 L567.5,736.4 L567.6,735.2 L567.7,734.1 L567.9,732.9 L568.0,731.7 L568.1,730.5 L568.3,729.3 L568.4,728.1 L568.5,726.9 L568.7,725.7 L568.8,724.5 L568.9,723.3 L569.1,722.1 L569.2,720.8 L569.3,719.6 L569.5,718.4 L569.6,717.2 L569.7,715.9 L569.9,714.7 L570.0,713.4 L570.1,712.2 L570.3,711.0 L570.4,709.7 L570.5,708.5 L570.7,707.2 L570.8,706.0 L571.0,704.7 L571.1,703.5 L571.2,702.2 L571.4,701.0 L571.5,699.7 L571.6,698.4 L571.8,697.2 L571.9,695.9 L572.0,694.7 L572.2,693.4 L572.3,692.2 L572.4,690.9 L572.6,689.7 L572.7,688.4 L572.8,687.2 L573.0,685.9 L573.1,684.7 L573.2,683.4 L573.4,682.2 L573.5,680.9 L573.6,679.7 L573.8,678.5 L573.9,677.2 L574.0,676.0 L574.2,674.8 L574.3,673.5 L574.4,672.3 L574.6,671.1 L574.7,669.9 L574.8,668.7 L575.0,667.5 L575.1,666.3 L575.2,665.1 L575.4,663.9 L575.5,662.7 L575.6,661.5 L575.8,660.4 L575.9,659.2 L576.0,658.0 L576.2,656.9 L576.3,655.7 L576.4,654.6 L576.6,653.4 L576.7,652.3 L576.8,651.2 L577.0,650.1 L577.1,649.0 L577.3,647.9 L577.4,646.8 L577.5,645.7 L577.7,644.6 L577.8,643.5 L577.9,642.4 L578.1,641.4 L578.2,640.3 L578.3,639.3 L578.5,638.3 L578.6,637.3 L578.7,636.2 L578.9,635.2 L579.0,634.2 L579.1,633.3 L579.3,632.3 L579.4,631.3 L579.5,630.4 L579.7,629.4 L579.8,628.5 L579.9,627.6 L580.1,626.6 L580.2,625.7 L580.3,624.9 L580.5,624.0 L580.6,623.1 L580.7,622.2 L580.9,621.4 L581.0,620.6 L581.1,619.7 L581.3,618.9 L581.4,618.1 L581.5,617.3 L581.7,616.6 L581.8,615.8 L581.9,615.1 L582.1,614.3 L582.2,613.6 L582.3,612.9 L582.5,612.2 L582.6,611.5 L582.7,610.8 L582.9,610.2 L583.0,609.5 L583.1,608.9 L583.3,608.3 L583.4,607.7 L583.6,607.1 L583.7,606.5 L583.8,605.9 L584.0,605.4 L584.1,604.8 L584.2,604.3 L584.4,603.8 L584.5,603.3 L584.6,602.8 L584.8,602.4 L584.9,601.9 L585.0,601.5 L585.2,601.1 L585.3,600.7 L585.4,600.3 L585.6,599.9 L585.7,599.6 L585.8,599.2 L586.0,598.9 L586.1,598.6 L586.2,598.3 L586.4,598.0 L586.5,597.7 L586.6,597.5 L586.8,597.3 L586.9,597.0 L587.0,596.8 L587.2,596.7 L587.3,596.5 L587.4,596.3 L587.6,596.2 L587.7,596.1 L587.8,596.0 L588.0,595.9 L588.1,595.8 L588.2,595.8 L588.4,595.7 L588.5,595.7 L588.6,595.7 L588.8,595.7 L588.9,595.7 L589.0,595.8 L589.2,595.8 L589.3,595.9 L589.4,596.0 L589.6,596.1 L589.7,596.2 L589.9,596.4 L590.0,596.5 L590.1,596.7 L590.3,596.9 L590.4,597.1 L590.5,597.3 L590.7,597.6 L590.8,597.8 L590.9,598.1 L591.1,598.4 L591.2,598.7 L591.3,599.0 L591.5,599.4 L591.6,599.7 L591.7,600.1 L591.9,600.5 L592.0,600.9 L592.1,601.3 L592.3,601.7 L592.4,602.2 L592.5,602.7 L592.7,603.2 L592.8,603.7 L592.9,604.2 L593.1,604.7 L593.2,605.3 L593.3,605.8 L593.5,606.4 L593.6,607.0 L593.7,607.6 L593.9,608.3 L594.0,608.9 L594.1,609.6 L594.3,610.3 L594.4,611.0 L594.5,611.7 L594.7,612.4 L594.8,613.1 L594.9,613.9 L595.1,614.7 L595.2,615.5 L595.3,616.3 L595.5,617.1 L595.6,617.9 L595.7,618.8 L595.9,619.6 L596.0,620.5 L596.1,621.4 L596.3,622.3 L596.4,623.2 L596.6,624.2 L596.7,625.1 L596.8,626.1 L597.0,627.1 L597.1,628.1 L597.2,629.1 L597.4,630.1 L597.5,631.1 L597.6,632.2 L597.8,633.2 L597.9,634.3 L598.0,635.4 L598.2,636.5 L598.3,637.6 L598.4,638.8 L598.6,639.9 L598.7,641.1 L598.8,642.2 L599.0,643.4 L599.1,644.6 L599.2,645.8 L599.4,647.0 L599.5,648.3 L599.6,649.5 L599.8,650.8 L599.9,652.0 L600.0,653.3 L600.2,654.6 L600.3,655.9 L600.4,657.2 L600.6,658.5 L600.7,659.9 L600.8,661.2 L601.0,662.6 L601.1,663.9 L601.2,665.3 L601.4,666.7 L601.5,668.1 L601.6,669.5 L601.8,670.9 L601.9,672.3 L602.0,673.8 L602.2,675.2 L602.3,676.7 L602.4,678.1 L602.6,679.6 L602.7,681.1 L602.9,682.6 L603.0,684.1 L603.1,685.6 L603.3,687.1 L603.4,688.6 L603.5,690.2 L603.7,691.7 L603.8,693.2 L603.9,694.8 L604.1,696.3 L604.2,697.9 L604.3,699.5 L604.5,701.1 L604.6,702.7 L604.7,704.3 L604.9,705.9 L605.0,707.5 L605.1,709.1 L605.3,710.7 L605.4,712.3 L605.5,713.9 L605.7,715.6 L605.8,717.2 L605.9,718.9 L606.1,720.5 L606.2,722.2 L606.3,723.8 L606.5,725.5 L606.6,727.1 L606.7,728.8 L606.9,730.5 L607.0,732.2 L607.1,733.8 L607.3,735.5 L607.4,737.2 L607.5,738.9 L607.7,740.6 L607.8,742.3 L607.9,744.0 L608.1,745.7 L608.2,747.4 L608.3,749.1 L608.5,750.8 L608.6,752.5 L608.7,754.2 L608.9,755.9 L609.0,757.6 L609.2,759.3 L609.3,761.0 L609.4,762.7 L609.6,764.4 L609.7,766.1 L609.8,767.8 L610.0,769.5 L610.1,771.3 L610.2,773.0 L610.4,774.7 L610.5,776.4 L610.6,778.1 L610.8,779.8 L610.9,781.5 L611.0,783.2 L611.2,784.9 L611.3,786.5 L611.4,788.2 L611.6,789.9 L611.7,791.6 L611.8,793.3 L612.0,795.0 L612.1,796.6 L612.2,798.3 L612.4,800.0 L612.5,801.6 L612.6,803.3 L612.8,805.0 L612.9,806.6 L613.0,808.3 L613.2,809.9 L613.3,811.5 L613.4,813.2 L613.6,814.8 L613.7,816.4 L613.8,818.0 L614.0,819.6 L614.1,821.2 L614.2,822.8 L614.4,824.4 L614.5,826.0 L614.6,827.6 L614.8,829.2 L614.9,830.7 L615.0,832.3 L615.2,833.8 L615.3,835.4 L615.5,836.9 L615.6,838.4 L615.7,840.0 L615.9,841.5 L616.0,843.0 L616.1,844.5 L616.3,846.0 L616.4,847.4 L616.5,848.9 L616.7,850.4 L616.8,851.8 L616.9,853.2 L617.1,854.7 L617.2,856.1 L617.3,857.5 L617.5,858.9 L617.6,860.3 L617.7,861.7 L617.9,863.1 L618.0,864.4 L618.1,865.8 L618.3,867.1 L618.4,868.4 L618.5,869.8 L618.7,871.1 L618.8,872.4 L618.9,873.7 L619.1,874.9 L619.2,876.2 L619.3,877.4 L619.5,878.7 L619.6,879.9 L619.7,881.1 L619.9,882.3 L620.0,883.5 L620.1,884.7 L620.3,885.8 L620.4,887.0 L620.5,888.1 L620.7,889.3 L620.8,890.4 L620.9,891.5 L621.1,892.5 L621.2,893.6 L621.3,894.7 L621.5,895.7 L621.6,896.7 L621.7,897.8 L621.9,898.8 L622.0,899.8 L622.2,900.7 L622.3,901.7 L622.4,902.6 L622.6,903.6 L622.7,904.5 L622.8,905.4 L623.0,906.3 L623.1,907.1 L623.2,908.0 L623.4,908.8 L623.5,909.7 L623.6,910.5 L623.8,911.3 L623.9,912.1 L624.0,912.8 L624.2,913.6 L624.3,914.3 L624.4,915.0 L624.6,915.7 L624.7,916.4 L624.8,917.1 L625.0,917.7 L625.1,918.4 L625.2,919.0 L625.4,919.6 L625.5,920.2 L625.6,920.8 L625.8,921.3 L625.9,921.9 L626.0,922.4 L626.2,922.9 L626.3,923.4 L626.4,923.9 L626.6,924.3 L626.7,924.8 L626.8,925.2 L627.0,925.6 L627.1,926.0 L627.2,926.4 L627.4,926.7 L627.5,927.1 L627.6,927.4 L627.8,927.7 L627.9,928.0 L628.0,928.3 L628.2,928.5 L628.3,928.8 L628.5,929.0 L628.6,929.2 L628.7,929.4 L628.9,929.6 L629.0,929.7 L629.1,929.9 L629.3,930.0 L629.4,930.1 L629.5,930.2 L629.7,930.2 L629.8,930.3 L629.9,930.3 L630.1,930.3 L630.2,930.3 L630.3,930.3 L630.5,930.3 L630.6,930.2 L630.7,930.2 L630.9,930.1 L631.0,930.0 L631.1,929.9 L631.3,929.7 L631.4,929.6 L631.5,929.4 L631.7,929.2 L631.8,929.0 L631.9,928.8 L632.1,928.5 L632.2,928.3 L632.3,928.0 L632.5,927.7 L632.6,927.4 L632.7,927.1 L632.9,926.8 L633.0,926.4 L633.1,926.0 L633.3,925.6 L633.4,925.2 L633.5,924.8 L633.7,924.4 L633.8,923.9 L633.9,923.5 L634.1,923.0 L634.2,922.5 L634.3,921.9 L634.5,921.4 L634.6,920.9 L634.8,920.3 L634.9,919.7 L635.0,919.1 L635.2,918.5 L635.3,917.9 L635.4,917.2 L635.6,916.6 L635.7,915.9 L635.8,915.2 L636.0,914.5 L636.1,913.8 L636.2,913.0 L636.4,912.3 L636.5,911.5 L636.6,910.7 L636.8,909.9 L636.9,909.1 L637.0,908.3 L637.2,907.4 L637.3,906.6 L637.4,905.7 L637.6,904.8 L637.7,903.9 L637.8,903.0 L638.0,902.1 L638.1,901.1 L638.2,900.2 L638.4,899.2 L638.5,898.2 L638.6,897.2 L638.8,896.2 L638.9,895.2 L639.0,894.2 L639.2,893.1 L639.3,892.1 L639.4,891.0 L639.6,889.9 L639.7,888.8 L639.8,887.7 L640.0,886.6 L640.1,885.4 L640.2,884.3 L640.4,883.1 L640.5,881.9 L640.6,880.8 L640.8,879.6 L640.9,878.3 L641.1,877.1 L641.2,875.9 L641.3,874.7 L641.5,873.4 L641.6,872.1 L641.7,870.9 L641.9,869.6 L642.0,868.3 L642.1,867.0 L642.3,865.7 L642.4,864.3 L642.5,863.0 L642.7,861.7 L642.8,860.3 L642.9,859.0 L643.1,857.6 L643.2,856.2 L643.3,854.8 L643.5,853.4 L643.6,852.0 L643.7,850.6 L643.9,849.2 L644.0,847.7 L644.1,846.3 L644.3,844.8 L644.4,843.4 L644.5,841.9 L644.7,840.4 L644.8,839.0 L644.9,837.5 L645.1,836.0 L645.2,834.5 L645.3,833.0 L645.5,831.5 L645.6,829.9 L645.7,828.4 L645.9,826.9 L646.0,825.3 L646.1,823.8 L646.3,822.3 L646.4,820.7 L646.5,819.1 L646.7,817.6 L646.8,816.0 L646.9,814.4 L647.1,812.9 L647.2,811.3 L647.4,809.7 L647.5,808.1 L647.6,806.5 L647.8,804.9 L647.9,803.3 L648.0,801.7 L648.2,800.1 L648.3,798.5 L648.4,796.8 L648.6,795.2 L648.7,793.6 L648.8,792.0 L649.0,790.4 L649.1,788.7 L649.2,787.1 L649.4,785.5 L649.5,783.8 L649.6,782.2 L649.8,780.6 L649.9,778.9 L650.0,777.3 L650.2,775.6 L650.3,774.0 L650.4,772.4 L650.6,770.7 L650.7,769.1 L650.8,767.4 L651.0,765.8 L651.1,764.2 L651.2,762.5 L651.4,760.9 L651.5,759.3 L651.6,757.6 L651.8,756.0 L651.9,754.4 L652.0,752.7 L652.2,751.1 L652.3,749.5 L652.4,747.8 L652.6,746.2 L652.7,744.6 L652.8,743.0 L653.0,741.4 L653.1,739.8 L653.2,738.1 L653.4,736.5 L653.5,734.9 L653.6,733.3 L653.8,731.7 L653.9,730.2 L654.1,728.6 L654.2,727.0 L654.3,725.4 L654.5,723.8 L654.6,722.3 L654.7,720.7 L654.9,719.1 L655.0,717.6 L655.1,716.0 L655.3,714.5 L655.4,713.0 L655.5,711.4 L655.7,709.9 L655.8,708.4 L655.9,706.9 L656.1,705.4 L656.2,703.9 L656.3,702.4 L656.5,700.9 L656.6,699.4 L656.7,697.9 L656.9,696.5 L657.0,695.0 L657.1,693.6 L657.3,692.1 L657.4,690.7 L657.5,689.3 L657.7,687.9 L657.8,686.5 L657.9,685.1 L658.1,683.7 L658.2,682.3 L658.3,680.9 L658.5,679.5 L658.6,678.2 L658.7,676.8 L658.9,675.5 L659.0,674.2 L659.1,672.9 L659.3,671.6 L659.4,670.3 L659.5,669.0 L659.7,667.7 L659.8,666.4 L659.9,665.2 L660.1,663.9 L660.2,662.7 L660.4,661.5 L660.5,660.3 L660.6,659.1 L660.8,657.9 L660.9,656.7 L661.0,655.5 L661.2,654.4 L661.3,653.2 L661.4,652.1 L661.6,651.0 L661.7,649.9 L661.8,648.8 L662.0,647.7 L662.1,646.6 L662.2,645.6 L662.4,644.5 L662.5,643.5 L662.6,642.5 L662.8,641.5 L662.9,640.5 L663.0,639.5 L663.2,638.5 L663.3,637.6 L663.4,636.6 L663.6,635.7 L663.7,634.8 L663.8,633.9 L664.0,633.0 L664.1,632.1 L664.2,631.3 L664.4,630.4 L664.5,629.6 L664.6,628.8 L664.8,628.0 L664.9,627.2 L665.0,626.4 L665.2,625.7 L665.3,624.9 L665.4,624.2 L665.6,623.5 L665.7,622.8 L665.8,622.1 L666.0,621.4 L666.1,620.8 L666.2,620.1 L666.4,619.5 L666.5,618.9 L666.7,618.3 L666.8,617.7 L666.9,617.1 L667.1,616.6 L667.2,616.0 L667.3,615.5 L667.5,615.0 L667.6,614.5 L667.7,614.1 L667.9,613.6 L668.0,613.2 L668.1,612.7 L668.3,612.3 L668.4,611.9 L668.5,611.5 L668.7,611.2 L668.8,610.8 L668.9,610.5 L669.1,610.2 L669.2,609.9 L669.3,609.6 L669.5,609.3 L669.6,609.1 L669.7,608.8 L669.9,608.6 L670.0,608.4 L670.1,608.2 L670.3,608.1 L670.4,607.9 L670.5,607.8 L670.7,607.6 L670.8,607.5 L670.9,607.4 L671.1,607.4 L671.2,607.3 L671.3,607.3 L671.5,607.2 L671.6,607.2 L671.7,607.2 L671.9,607.3 L672.0,607.3 L672.1,607.3 L672.3,607.4 L672.4,607.5 L672.5,607.6 L672.7,607.7 L672.8,607.9 L673.0,608.0 L673.1,608.2 L673.2,608.3 L673.4,608.5 L673.5,608.8 L673.6,609.0 L673.8,609.2 L673.9,609.5 L674.0,609.8 L674.2,610.1 L674.3,610.4 L674.4,610.7 L674.6,611.0 L674.7,611.4 L674.8,611.8 L675.0,612.1 L675.1,612.5 L675.2,613.0 L675.4,613.4 L675.5,613.8 L675.6,614.3 L675.8,614.8 L675.9,615.3 L676.0,615.8 L676.2,616.3 L676.3,616.8 L676.4,617.4 L676.6,617.9 L676.7,618.5 L676.8,619.1 L677.0,619.7 L677.1,620.3 L677.2,621.0 L677.4,621.6 L677.5,622.3 L677.6,623.0 L677.8,623.7 L677.9,624.4 L678.0,625.1 L678.2,625.8 L678.3,626.6 L678.4,627.4 L678.6,628.1 L678.7,628.9 L678.8,629.7 L679.0,630.6 L679.1,631.4 L679.2,632.2 L679.4,633.1 L679.5,634.0 L679.7,634.9 L679.8,635.7 L679.9,636.7 L680.1,637.6 L680.2,638.5 L680.3,639.5 L680.5,640.4 L680.6,641.4 L680.7,642.4 L680.9,643.4 L681.0,644.4 L681.1,645.4 L681.3,646.4 L681.4,647.5 L681.5,648.5 L681.7,649.6 L681.8,650.7 L681.9,651.8 L682.1,652.9 L682.2,654.0 L682.3,655.1 L682.5,656.2 L682.6,657.4 L682.7,658.5 L682.9,659.7 L683.0,660.8 L683.1,662.0 L683.3,663.2 L683.4,664.4 L683.5,665.6 L683.7,666.8 L683.8,668.1 L683.9,669.3 L684.1,670.6 L684.2,671.8 L684.3,673.1 L684.5,674.4 L684.6,675.6 L684.7,676.9 L684.9,678.2 L685.0,679.5 L685.1,680.8 L685.3,682.2 L685.4,683.5 L685.5,684.8 L685.7,686.2 L685.8,687.5 L686.0,688.9 L686.1,690.3 L686.2,691.6 L686.4,693.0 L686.5,694.4 L686.6,695.8 L686.8,697.2 L686.9,698.6 L687.0,700.0 L687.2,701.4 L687.3,702.8 L687.4,704.3 L687.6,705.7 L687.7,707.1 L687.8,708.6 L688.0,710.0 L688.1,711.5 L688.2,712.9 L688.4,714.4 L688.5,715.9 L688.6,717.3 L688.8,718.8 L688.9,720.3 L689.0,721.8 L689.2,723.3 L689.3,724.7 L689.4,726.2 L689.6,727.7 L689.7,729.2 L689.8,730.7 L690.0,732.2 L690.1,733.7 L690.2,735.2 L690.4,736.8 L690.5,738.3 L690.6,739.8 L690.8,741.3 L690.9,742.8 L691.0,744.3 L691.2,745.8 L691.3,747.4 L691.4,748.9 L691.6,750.4 L691.7,751.9 L691.8,753.4 L692.0,755.0 L692.1,756.5 L692.3,758.0 L692.4,759.5 L692.5,761.0 L692.7,762.6 L692.8,764.1 L692.9,765.6 L693.1,767.1 L693.2,768.6 L693.3,770.1 L693.5,771.6 L693.6,773.2 L693.7,774.7 L693.9,776.2 L694.0,777.7 L694.1,779.2 L694.3,780.7 L694.4,782.2 L694.5,783.7 L694.7,785.1 L694.8,786.6 L694.9,788.1 L695.1,789.6 L695.2,791.1 L695.3,792.5 L695.5,794.0 L695.6,795.5 L695.7,796.9 L695.9,798.4 L696.0,799.8 L696.1,801.3 L696.3,802.7 L696.4,804.2 L696.5,805.6 L696.7,807.0 L696.8,808.4 L696.9,809.8 L697.1,811.2 L697.2,812.6 L697.3,814.0 L697.5,815.4 L697.6,816.8 L697.7,818.2 L697.9,819.6 L698.0,820.9 L698.1,822.3 L698.3,823.6 L698.4,825.0 L698.6,826.3 L698.7,827.6 L698.8,829.0 L699.0,830.3 L699.1,831.6 L699.2,832.9 L699.4,834.2 L699.5,835.4 L699.6,836.7 L699.8,838.0 L699.9,839.2 L700.0,840.5 L700.2,841.7 L700.3,842.9 L700.4,844.1 L700.6,845.3 L700.7,846.5 L700.8,847.7 L701.0,848.9 L701.1,850.1 L701.2,851.2 L701.4,852.4 L701.5,853.5 L701.6,854.7 L701.8,855.8 L701.9,856.9 L702.0,858.0 L702.2,859.1 L702.3,860.1 L702.4,861.2 L702.6,862.3 L702.7,863.3 L702.8,864.3 L703.0,865.3 L703.1,866.4 L703.2,867.4 L703.4,868.3 L703.5,869.3 L703.6,870.3 L703.8,871.2 L703.9,872.2 L704.0,873.1 L704.2,874.0 L704.3,874.9 L704.4,875.8 L704.6,876.6 L704.7,877.5 L704.8,878.4 L705.0,879.2 L705.1,880.0 L705.3,880.8 L705.4,881.6 L705.5,882.4 L705.7,883.2 L705.8,883.9 L705.9,884.7 L706.1,885.4 L706.2,886.1 L706.3,886.8 L706.5,887.5 L706.6,888.2 L706.7,888.8 L706.9,889.5 L707.0,890.1 L707.1,890.7 L707.3,891.3 L707.4,891.9 L707.5,892.5 L707.7,893.1 L707.8,893.6 L707.9,894.1 L708.1,894.7 L708.2,895.2 L708.3,895.7 L708.5,896.1 L708.6,896.6 L708.7,897.0 L708.9,897.5 L709.0,897.9 L709.1,898.3 L709.3,898.7 L709.4,899.0 L709.5,899.4 L709.7,899.7 L709.8,900.1 L709.9,900.4 L710.1,900.7 L710.2,901.0 L710.3,901.2 L710.5,901.5 L710.6,901.7 L710.7,901.9 L710.9,902.1 L711.0,902.3 L711.1,902.5 L711.3,902.7 L711.4,902.8 L711.6,902.9 L711.7,903.0 L711.8,903.1 L712.0,903.2 L712.1,903.3 L712.2,903.3 L712.4,903.4 L712.5,903.4 L712.6,903.4 L712.8,903.4 L712.9,903.4 L713.0,903.3 L713.2,903.3 L713.3,903.2 L713.4,903.1 L713.6,903.0 L713.7,902.9 L713.8,902.8 L714.0,902.6 L714.1,902.4 L714.2,902.3 L714.4,902.1 L714.5,901.9 L714.6,901.6 L714.8,901.4 L714.9,901.2 L715.0,900.9 L715.2,900.6 L715.3,900.3 L715.4,900.0 L715.6,899.7 L715.7,899.3 L715.8,899.0 L716.0,898.6 L716.1,898.2 L716.2,897.8 L716.4,897.4 L716.5,896.9 L716.6,896.5 L716.8,896.0 L716.9,895.6 L717.0,895.1 L717.2,894.6 L717.3,894.0 L717.4,893.5 L717.6,893.0 L717.7,892.4 L717.9,891.8 L718.0,891.2 L718.1,890.6 L718.3,890.0 L718.4,889.4 L718.5,888.7 L718.7,888.1 L718.8,887.4 L718.9,886.7 L719.1,886.0 L719.2,885.3 L719.3,884.6 L719.5,883.8 L719.6,883.1 L719.7,882.3 L719.9,881.5 L720.0,880.7 L720.1,879.9 L720.3,879.1 L720.4,878.3 L720.5,877.4 L720.7,876.6 L720.8,875.7 L720.9,874.8 L721.1,873.9 L721.2,873.0 L721.3,872.1 L721.5,871.2 L721.6,870.3 L721.7,869.3 L721.9,868.3 L722.0,867.4 L722.1,866.4 L722.3,865.4 L722.4,864.4 L722.5,863.4 L722.7,862.3 L722.8,861.3 L722.9,860.2 L723.1,859.2 L723.2,858.1 L723.3,857.0 L723.5,855.9 L723.6,854.8 L723.7,853.7 L723.9,852.6 L724.0,851.4 L724.2,850.3 L724.3,849.1 L724.4,848.0 L724.6,846.8 L724.7,845.6 L724.8,844.4 L725.0,843.2 L725.1,842.0 L725.2,840.8 L725.4,839.6 L725.5,838.4 L725.6,837.1 L725.8,835.9 L725.9,834.6 L726.0,833.3 L726.2,832.1 L726.3,830.8 L726.4,829.5 L726.6,828.2 L726.7,826.9 L726.8,825.6 L727.0,824.3 L727.1,823.0 L727.2,821.6 L727.4,820.3 L727.5,818.9 L727.6,817.6 L727.8,816.2 L727.9,814.9 L728.0,813.5 L728.2,812.1 L728.3,810.8 L728.4,809.4 L728.6,808.0 L728.7,806.6 L728.8,805.2 L729.0,803.8 L729.1,802.4 L729.2,801.0 L729.4,799.6 L729.5,798.1 L729.6,796.7 L729.8,795.3 L729.9,793.9 L730.0,792.4 L730.2,791.0 L730.3,789.5 L730.5,788.1 L730.6,786.7 L730.7,785.2 L730.9,783.7 L731.0,782.3 L731.1,780.8 L731.3,779.4 L731.4,777.9 L731.5,776.5 L731.7,775.0 L731.8,773.5 L731.9,772.1 L732.1,770.6 L732.2,769.1 L732.3,767.6 L732.5,766.2 L732.6,764.7 L732.7,763.2 L732.9,761.8 L733.0,760.3 L733.1,758.8 L733.3,757.3 L733.4,755.9 L733.5,754.4 L733.7,752.9 L733.8,751.5 L733.9,750.0 L734.1,748.5 L734.2,747.1 L734.3,745.6 L734.5,744.1 L734.6,742.7 L734.7,741.2 L734.9,739.8 L735.0,738.3 L735.1,736.8 L735.3,735.4 L735.4,734.0 L735.5,732.5 L735.7,731.1 L735.8,729.6 L735.9,728.2 L736.1,726.8 L736.2,725.3 L736.3,723.9 L736.5,722.5 L736.6,721.1 L736.7,719.7 L736.9,718.3 L737.0,716.9 L737.2,715.5 L737.3,714.1 L737.4,712.7 L737.6,711.3 L737.7,709.9 L737.8,708.6 L738.0,707.2 L738.1,705.8 L738.2,704.5 L738.4,703.1 L738.5,701.8 L738.6,700.5 L738.8,699.1 L738.9,697.8 L739.0,696.5 L739.2,695.2 L739.3,693.9 L739.4,692.6 L739.6,691.3 L739.7,690.0 L739.8,688.8 L740.0,687.5 L740.1,686.3 L740.2,685.0 L740.4,683.8 L740.5,682.5 L740.6,681.3 L740.8,680.1 L740.9,678.9 L741.0,677.7 L741.2,676.5 L741.3,675.3 L741.4,674.2 L741.6,673.0 L741.7,671.9 L741.8,670.7 L742.0,669.6 L742.1,668.5 L742.2,667.4 L742.4,666.3 L742.5,665.2 L742.6,664.1 L742.8,663.0 L742.9,662.0 L743.0,660.9 L743.2,659.9 L743.3,658.9 L743.5,657.9 L743.6,656.9 L743.7,655.9 L743.9,654.9 L744.0,653.9 L744.1,653.0 L744.3,652.0 L744.4,651.1 L744.5,650.2 L744.7,649.2 L744.8,648.3 L744.9,647.5 L745.1,646.6 L745.2,645.7 L745.3,644.9 L745.5,644.0 L745.6,643.2 L745.7,642.4 L745.9,641.6 L746.0,640.8 L746.1,640.0 L746.3,639.3 L746.4,638.5 L746.5,637.8 L746.7,637.1 L746.8,636.4 L746.9,635.7 L747.1,635.0 L747.2,634.4 L747.3,633.7 L747.5,633.1 L747.6,632.4 L747.7,631.8 L747.9,631.2 L748.0,630.7 L748.1,630.1 L748.3,629.5 L748.4,629.0 L748.5,628.5 L748.7,628.0 L748.8,627.5 L748.9,627.0 L749.1,626.5 L749.2,626.1 L749.3,625.6 L749.5,625.2 L749.6,624.8 L749.8,624.4 L749.9,624.0 L750.0,623.7 L750.2,623.3 L750.3,623.0 L750.4,622.7 L750.6,622.4 L750.7,622.1 L750.8,621.8 L751.0,621.5 L751.1,621.3 L751.2,621.1 L751.4,620.9 L751.5,620.7 L751.6,620.5 L751.8,620.3 L751.9,620.2 L752.0,620.0 L752.2,619.9 L752.3,619.8 L752.4,619.7 L752.6,619.6 L752.7,619.6 L752.8,619.5 L753.0,619.5 L753.1,619.5 L753.2,619.5 L753.4,619.5 L753.5,619.6 L753.6,619.6 L753.8,619.7 L753.9,619.8 L754.0,619.9 L754.2,620.0 L754.3,620.1 L754.4,620.2 L754.6,620.4 L754.7,620.6 L754.8,620.8 L755.0,621.0 L755.1,621.2 L755.2,621.4 L755.4,621.7 L755.5,621.9 L755.6,622.2 L755.8,622.5 L755.9,622.8 L756.1,623.1 L756.2,623.5 L756.3,623.8 L756.5,624.2 L756.6,624.6 L756.7,625.0 L756.9,625.4 L757.0,625.8 L757.1,626.3 L757.3,626.8 L757.4,627.2 L757.5,627.7 L757.7,628.2 L757.8,628.7 L757.9,629.3 L758.1,629.8 L758.2,630.4 L758.3,631.0 L758.5,631.6 L758.6,632.2 L758.7,632.8 L758.9,633.4 L759.0,634.1 L759.1,634.7 L759.3,635.4 L759.4,636.1 L759.5,636.8 L759.7,637.5 L759.8,638.3 L759.9,639.0 L760.1,639.8 L760.2,640.5 L760.3,641.3 L760.5,642.1 L760.6,642.9 L760.7,643.8 L760.9,644.6 L761.0,645.5 L761.1,646.3 L761.3,647.2 L761.4,648.1 L761.5,649.0 L761.7,649.9 L761.8,650.8 L761.9,651.8 L762.1,652.7 L762.2,653.7 L762.3,654.7 L762.5,655.6 L762.6,656.6 L762.8,657.7 L762.9,658.7 L763.0,659.7 L763.2,660.8 L763.3,661.8 L763.4,662.9 L763.6,664.0 L763.7,665.1 L763.8,666.2 L764.0,667.3 L764.1,668.4 L764.2,669.5 L764.4,670.7 L764.5,671.8 L764.6,673.0 L764.8,674.2 L764.9,675.3 L765.0,676.5 L765.2,677.7 L765.3,678.9 L765.4,680.2 L765.6,681.4 L765.7,682.6 L765.8,683.9 L766.0,685.1 L766.1,686.4 L766.2,687.7 L766.4,689.0 L766.5,690.2 L766.6,691.5 L766.8,692.8 L766.9,694.2 L767.0,695.5 L767.2,696.8 L767.3,698.2 L767.4,699.5 L767.6,700.8 L767.7,702.2 L767.8,703.6 L768.0,704.9 L768.1,706.3 L768.2,707.7 L768.4,709.1 L768.5,710.5 L768.6,711.9 L768.8,713.3 L768.9,714.7 L769.1,716.1 L769.2,717.6 L769.3,719.0 L769.5,720.4 L769.6,721.9 L769.7,723.3 L769.9,724.8 L770.0,726.2 L770.1,727.7 L770.3,729.1 L770.4,730.6 L770.5,732.1 L770.7,733.5 L770.8,735.0 L770.9,736.5 L771.1,738.0 L771.2,739.5 L771.3,741.0 L771.5,742.5 L771.6,743.9 L771.7,745.4 L771.9,746.9 L772.0,748.4 L772.1,749.9 L772.3,751.4 L772.4,753.0 L772.5,754.5 L772.7,756.0 L772.8,757.5 L772.9,759.0 L773.1,760.5 L773.2,762.0 L773.3,763.5 L773.5,765.0 L773.6,766.5 L773.7,768.1 L773.9,769.6 L774.0,771.1 L774.1,772.6 L774.3,774.1 L774.4,775.6 L774.5,777.1 L774.7,778.6 L774.8,780.1 L774.9,781.6 L775.1,783.1 L775.2,784.6 L775.4,786.1 L775.5,787.6 L775.6,789.1 L775.8,790.6 L775.9,792.1 L776.0,793.6 L776.2,795.0 L776.3,796.5 L776.4,798.0 L776.6,799.5 L776.7,800.9 L776.8,802.4 L777.0,803.8 L777.1,805.3 L777.2,806.7 L777.4,808.2 L777.5,809.6 L777.6,811.1 L777.8,812.5 L777.9,813.9 L778.0,815.3 L778.2,816.8 L778.3,818.2 L778.4,819.6 L778.6,821.0 L778.7,822.3 L778.8,823.7 L779.0,825.1 L779.1,826.5 L779.2,827.8 L779.4,829.2 L779.5,830.5 L779.6,831.9 L779.8,833.2 L779.9,834.6 L780.0,835.9 L780.2,837.2 L780.3,838.5 L780.4,839.8 L780.6,841.1 L780.7,842.3 L780.8,843.6 L781.0,844.9 L781.1,846.1 L781.2,847.4 L781.4,848.6 L781.5,849.8 L781.7,851.0 L781.8,852.3 L781.9,853.5 L782.1,854.6 L782.2,855.8 L782.3,857.0 L782.5,858.1 L782.6,859.3 L782.7,860.4 L782.9,861.5 L783.0,862.7 L783.1,863.8 L783.3,864.8 L783.4,865.9 L783.5,867.0 L783.7,868.1 L783.8,869.1 L783.9,870.1 L784.1,871.2 L784.2,872.2 L784.3,873.2 L784.5,874.2 L784.6,875.1 L784.7,876.1 L784.9,877.0 L785.0,878.0 L785.1,878.9 L785.3,879.8 L785.4,880.7 L785.5,881.6 L785.7,882.5 L785.8,883.3 L785.9,884.2 L786.1,885.0 L786.2,885.8 L786.3,886.6 L786.5,887.4 L786.6,888.2 L786.7,889.0 L786.9,889.7 L787.0,890.5 L787.1,891.2 L787.3,891.9 L787.4,892.6 L787.5,893.3 L787.7,893.9 L787.8,894.6 L787.9,895.2 L788.1,895.8 L788.2,896.4 L788.4,897.0 L788.5,897.6 L788.6,898.1 L788.8,898.7 L788.9,899.2 L789.0,899.7 L789.2,900.2 L789.3,900.7 L789.4,901.2 L789.6,901.6 L789.7,902.1 L789.8,902.5 L790.0,902.9 L790.1,903.3 L790.2,903.7 L790.4,904.0 L790.5,904.4 L790.6,904.7 L790.8,905.0 L790.9,905.3 L791.0,905.6 L791.2,905.8 L791.3,906.1 L791.4,906.3 L791.6,906.5 L791.7,906.7 L791.8,906.9 L792.0,907.1 L792.1,907.2 L792.2,907.4 L792.4,907.5 L792.5,907.6 L792.6,907.7 L792.8,907.7 L792.9,907.8 L793.0,907.8 L793.2,907.8 L793.3,907.8 L793.4,907.8 L793.6,907.8 L793.7,907.7 L793.8,907.7 L794.0,907.6 L794.1,907.5 L794.2,907.4 L794.4,907.2 L794.5,907.1 L794.7,906.9 L794.8,906.7 L794.9,906.5 L795.1,906.3 L795.2,906.1 L795.3,905.8 L795.5,905.6 L795.6,905.3 L795.7,905.0 L795.9,904.7 L796.0,904.4 L796.1,904.0 L796.3,903.6 L796.4,903.3 L796.5,902.9 L796.7,902.5 L796.8,902.0 L796.9,901.6 L797.1,901.1 L797.2,900.6 L797.3,900.2 L797.5,899.6 L797.6,899.1 L797.7,898.6 L797.9,898.0 L798.0,897.5 L798.1,896.9 L798.3,896.3 L798.4,895.6 L798.5,895.0 L798.7,894.4 L798.8,893.7 L798.9,893.0 L799.1,892.3 L799.2,891.6 L799.3,890.9 L799.5,890.1 L799.6,889.4 L799.7,888.6 L799.9,887.8 L800.0,887.0 L800.1,886.2 L800.3,885.4 L800.4,884.5 L800.5,883.7 L800.7,882.8 L800.8,881.9 L801.0,881.0 L801.1,880.1 L801.2,879.2 L801.4,878.2 L801.5,877.3 L801.6,876.3 L801.8,875.3 L801.9,874.3 L802.0,873.3 L802.2,872.3 L802.3,871.2 L802.4,870.2 L802.6,869.1 L802.7,868.0 L802.8,866.9 L803.0,865.8 L803.1,864.7 L803.2,863.6 L803.4,862.4 L803.5,861.3 L803.6,860.1 L803.8,858.9 L803.9,857.8 L804.0,856.6 L804.2,855.3 L804.3,854.1 L804.4,852.9 L804.6,851.6 L804.7,850.4 L804.8,849.1 L805.0,847.8 L805.1,846.5 L805.2,845.2 L805.4,843.9 L805.5,842.6 L805.6,841.3 L805.8,839.9 L805.9,838.6 L806.0,837.2 L806.2,835.8 L806.3,834.5 L806.4,833.1 L806.6,831.7 L806.7,830.3 L806.8,828.8 L807.0,827.4 L807.1,826.0 L807.3,824.5 L807.4,823.1 L807.5,821.6 L807.7,820.2 L807.8,818.7 L807.9,817.2 L808.1,815.7 L808.2,814.2 L808.3,812.7 L808.5,811.2 L808.6,809.7 L808.7,808.2 L808.9,806.6 L809.0,805.1 L809.1,803.6 L809.3,802.0 L809.4,800.5 L809.5,798.9 L809.7,797.3 L809.8,795.8 L809.9,794.2 L810.1,792.6 L810.2,791.0 L810.3,789.5 L810.5,787.9 L810.6,786.3 L810.7,784.7 L810.9,783.1 L811.0,781.4 L811.1,779.8 L811.3,778.2 L811.4,776.6 L811.5,775.0 L811.7,773.4 L811.8,771.7 L811.9,770.1 L812.1,768.5 L812.2,766.8 L812.3,765.2 L812.5,763.6 L812.6,761.9 L812.7,760.3 L812.9,758.6 L813.0,757.0 L813.1,755.4 L813.3,753.7 L813.4,752.1 L813.6,750.4 L813.7,748.8 L813.8,747.1 L814.0,745.5 L814.1,743.9 L814.2,742.2 L814.4,740.6 L814.5,738.9 L814.6,737.3 L814.8,735.7 L814.9,734.0 L815.0,732.4 L815.2,730.8 L815.3,729.1 L815.4,727.5 L815.6,725.9 L815.7,724.3 L815.8,722.7 L816.0,721.0 L816.1,719.4 L816.2,717.8 L816.4,716.2 L816.5,714.6 L816.6,713.0 L816.8,711.4 L816.9,709.9 L817.0,708.3 L817.2,706.7 L817.3,705.1 L817.4,703.6 L817.6,702.0 L817.7,700.4 L817.8,698.9 L818.0,697.4 L818.1,695.8 L818.2,694.3 L818.4,692.8 L818.5,691.2 L818.6,689.7 L818.8,688.2 L818.9,686.7 L819.0,685.2 L819.2,683.8 L819.3,682.3 L819.4,680.8 L819.6,679.4 L819.7,677.9 L819.8,676.5 L820.0,675.0 L820.1,673.6 L820.3,672.2 L820.4,670.8 L820.5,669.4 L820.7,668.0 L820.8,666.6 L820.9,665.3 L821.1,663.9 L821.2,662.6 L821.3,661.2 L821.5,659.9 L821.6,658.6 L821.7,657.3 L821.9,656.0 L822.0,654.7 L822.1,653.4 L822.3,652.2 L822.4,650.9 L822.5,649.7 L822.7,648.5 L822.8,647.2 L822.9,646.0 L823.1,644.9 L823.2,643.7 L823.3,642.5 L823.5,641.4 L823.6,640.2 L823.7,639.1 L823.9,638.0 L824.0,636.9 L824.1,635.8 L824.3,634.7 L824.4,633.7 L824.5,632.6 L824.7,631.6 L824.8,630.6 L824.9,629.6 L825.1,628.6 L825.2,627.6 L825.3,626.7 L825.5,625.7 L825.6,624.8 L825.7,623.9 L825.9,623.0 L826.0,622.1 L826.1,621.2 L826.3,620.4 L826.4,619.5 L826.6,618.7 L826.7,617.9 L826.8,617.1 L827.0,616.3 L827.1,615.6 L827.2,614.9 L827.4,614.1 L827.5,613.4 L827.6,612.7 L827.8,612.1 L827.9,611.4 L828.0,610.7 L828.2,610.1 L828.3,609.5 L828.4,608.9 L828.6,608.4 L828.7,607.8 L828.8,607.3 L829.0,606.7 L829.1,606.2 L829.2,605.7 L829.4,605.3 L829.5,604.8 L829.6,604.4 L829.8,604.0 L829.9,603.6 L830.0,603.2 L830.2,602.8 L830.3,602.5 L830.4,602.2 L830.6,601.9 L830.7,601.6 L830.8,601.3 L831.0,601.0 L831.1,600.8 L831.2,600.6 L831.4,600.4 L831.5,600.2 L831.6,600.1 L831.8,599.9 L831.9,599.8 L832.0,599.7 L832.2,599.6 L832.3,599.5 L832.4,599.5 L832.6,599.4 L832.7,599.4 L832.9,599.4 L833.0,599.5 L833.1,599.5 L833.3,599.6 L833.4,599.7 L833.5,599.8 L833.7,599.9 L833.8,600.0 L833.9,600.2 L834.1,600.4 L834.2,600.6 L834.3,600.8 L834.5,601.0 L834.6,601.3 L834.7,601.5 L834.9,601.8 L835.0,602.1 L835.1,602.4 L835.3,602.8 L835.4,603.2 L835.5,603.5 L835.7,603.9 L835.8,604.4 L835.9,604.8 L836.1,605.3 L836.2,605.7 L836.3,606.2 L836.5,606.7 L836.6,607.3 L836.7,607.8 L836.9,608.4 L837.0,609.0 L837.1,609.6 L837.3,610.2 L837.4,610.9 L837.5,611.5 L837.7,612.2 L837.8,612.9 L837.9,613.6 L838.1,614.3 L838.2,615.1 L838.3,615.8 L838.5,616.6 L838.6,617.4 L838.7,618.3 L838.9,619.1 L839.0,619.9 L839.2,620.8 L839.3,621.7 L839.4,622.6 L839.6,623.5 L839.7,624.5 L839.8,625.4 L840.0,626.4 L840.1,627.4 L840.2,628.4 L840.4,629.4 L840.5,630.4 L840.6,631.5 L840.8,632.6 L840.9,633.7 L841.0,634.8 L841.2,635.9 L841.3,637.0 L841.4,638.2 L841.6,639.3 L841.7,640.5 L841.8,641.7 L842.0,642.9 L842.1,644.1 L842.2,645.4 L842.4,646.6 L842.5,647.9 L842.6,649.2 L842.8,650.5 L842.9,651.8 L843.0,653.1 L843.2,654.4 L843.3,655.8 L843.4,657.2 L843.6,658.5 L843.7,659.9 L843.8,661.3 L844.0,662.7 L844.1,664.2 L844.2,665.6 L844.4,667.1 L844.5,668.5 L844.6,670.0 L844.8,671.5 L844.9,673.0 L845.0,674.5 L845.2,676.0 L845.3,677.6 L845.4,679.1 L845.6,680.7 L845.7,682.3 L845.9,683.8 L846.0,685.4 L846.1,687.0 L846.3,688.6 L846.4,690.3 L846.5,691.9 L846.7,693.5 L846.8,695.2 L846.9,696.8 L847.1,698.5 L847.2,700.2 L847.3,701.9 L847.5,703.5 L847.6,705.2 L847.7,707.0 L847.9,708.7 L848.0,710.4 L848.1,712.1 L848.3,713.9 L848.4,715.6 L848.5,717.3 L848.7,719.1 L848.8,720.9 L848.9,722.6 L849.1,724.4 L849.2,726.2 L849.3,728.0 L849.5,729.8 L849.6,731.6 L849.7,733.4 L849.9,735.2 L850.0,737.0 L850.1,738.8 L850.3,740.6 L850.4,742.4 L850.5,744.3 L850.7,746.1 L850.8,747.9 L850.9,749.7 L851.1,751.6 L851.2,753.4 L851.3,755.3 L851.5,757.1 L851.6,758.9 L851.7,760.8 L851.9,762.6 L852.0,764.5 L852.2,766.3 L852.3,768.2 L852.4,770.0 L852.6,771.9 L852.7,773.7 L852.8,775.6 L853.0,777.4 L853.1,779.3 L853.2,781.1 L853.4,783.0 L853.5,784.8 L853.6,786.7 L853.8,788.5 L853.9,790.4 L854.0,792.2 L854.2,794.0 L854.3,795.9 L854.4,797.7 L854.6,799.5 L854.7,801.3 L854.8,803.2 L855.0,805.0 L855.1,806.8 L855.2,808.6 L855.4,810.4 L855.5,812.2 L855.6,814.0 L855.8,815.8 L855.9,817.5 L856.0,819.3 L856.2,821.1 L856.3,822.9 L856.4,824.6 L856.6,826.4 L856.7,828.1 L856.8,829.8 L857.0,831.6 L857.1,833.3 L857.2,835.0 L857.4,836.7 L857.5,838.4 L857.6,840.1 L857.8,841.8 L857.9,843.5 L858.0,845.1 L858.2,846.8 L858.3,848.4 L858.5,850.0 L858.6,851.7 L858.7,853.3 L858.9,854.9 L859.0,856.5 L859.1,858.1 L859.3,859.6 L859.4,861.2 L859.5,862.7 L859.7,864.3 L859.8,865.8 L859.9,867.3 L860.1,868.8 L860.2,870.3 L860.3,871.8 L860.5,873.3 L860.6,874.7 L860.7,876.1 L860.9,877.6 L861.0,879.0 L861.1,880.4 L861.3,881.8 L861.4,883.1 L861.5,884.5 L861.7,885.8 L861.8,887.2 L861.9,888.5 L862.1,889.8 L862.2,891.0 L862.3,892.3 L862.5,893.6 L862.6,894.8 L862.7,896.0 L862.9,897.2 L863.0,898.4 L863.1,899.6 L863.3,900.7 L863.4,901.9 L863.5,903.0 L863.7,904.1 L863.8,905.2 L863.9,906.2 L864.1,907.3 L864.2,908.3 L864.3,909.3 L864.5,910.3 L864.6,911.3 L864.8,912.3 L864.9,913.2 L865.0,914.1 L865.2,915.1 L865.3,915.9 L865.4,916.8 L865.6,917.7 L865.7,918.5 L865.8,919.3 L866.0,920.1 L866.1,920.9 L866.2,921.6 L866.4,922.4 L866.5,923.1 L866.6,923.8 L866.8,924.4 L866.9,925.1 L867.0,925.7 L867.2,926.3 L867.3,926.9 L867.4,927.5 L867.6,928.0 L867.7,928.6 L867.8,929.1 L868.0,929.6 L868.1,930.0 L868.2,930.5 L868.4,930.9 L868.5,931.3 L868.6,931.7 L868.8,932.1 L868.9,932.4 L869.0,932.7 L869.2,933.0 L869.3,933.3 L869.4,933.6 L869.6,933.8 L869.7,934.0 L869.8,934.2 L870.0,934.4 L870.1,934.5 L870.2,934.6 L870.4,934.7 L870.5,934.8 L870.6,934.9 L870.8,934.9 L870.9,934.9 L871.0,934.9 L871.2,934.9 L871.3,934.8 L871.5,934.8 L871.6,934.7 L871.7,934.5 L871.9,934.4 L872.0,934.2 L872.1,934.1 L872.3,933.8 L872.4,933.6 L872.5,933.4 L872.7,933.1 L872.8,932.8 L872.9,932.5 L873.1,932.1 L873.2,931.8 L873.3,931.4 L873.5,931.0 L873.6,930.6 L873.7,930.1 L873.9,929.7 L874.0,929.2 L874.1,928.7 L874.3,928.1 L874.4,927.6 L874.5,927.0 L874.7,926.4 L874.8,925.8 L874.9,925.1 L875.1,924.5 L875.2,923.8 L875.3,923.1 L875.5,922.4 L875.6,921.6 L875.7,920.8 L875.9,920.1 L876.0,919.2 L876.1,918.4 L876.3,917.6 L876.4,916.7 L876.5,915.8 L876.7,914.9 L876.8,914.0 L876.9,913.0 L877.1,912.1 L877.2,911.1 L877.3,910.1 L877.5,909.0 L877.6,908.0 L877.8,906.9 L877.9,905.8 L878.0,904.7 L878.2,903.6 L878.3,902.5 L878.4,901.3 L878.6,900.1 L878.7,898.9 L878.8,897.7 L879.0,896.5 L879.1,895.2 L879.2,894.0 L879.4,892.7 L879.5,891.4 L879.6,890.1 L879.8,888.7 L879.9,887.4 L880.0,886.0 L880.2,884.6 L880.3,883.2 L880.4,881.8 L880.6,880.4 L880.7,878.9 L880.8,877.5 L881.0,876.0 L881.1,874.5 L881.2,873.0 L881.4,871.5 L881.5,869.9 L881.6,868.4 L881.8,866.8 L881.9,865.3 L882.0,863.7 L882.2,862.1 L882.3,860.4 L882.4,858.8 L882.6,857.2 L882.7,855.5 L882.8,853.8 L883.0,852.2 L883.1,850.5 L883.2,848.8 L883.4,847.1 L883.5,845.3 L883.6,843.6 L883.8,841.9 L883.9,840.1 L884.1,838.3 L884.2,836.6 L884.3,834.8 L884.5,833.0 L884.6,831.2 L884.7,829.4 L884.9,827.5 L885.0,825.7 L885.1,823.9 L885.3,822.0 L885.4,820.2 L885.5,818.3 L885.7,816.5 L885.8,814.6 L885.9,812.7 L886.1,810.8 L886.2,808.9 L886.3,807.0 L886.5,805.1 L886.6,803.2 L886.7,801.3 L886.9,799.4 L887.0,797.5 L887.1,795.6 L887.3,793.6 L887.4,791.7 L887.5,789.8 L887.7,787.8 L887.8,785.9 L887.9,784.0 L888.1,782.0 L888.2,780.1 L888.3,778.1 L888.5,776.2 L888.6,774.2 L888.7,772.3 L888.9,770.3 L889.0,768.4 L889.1,766.5 L889.3,764.5 L889.4,762.6 L889.5,760.6 L889.7,758.7 L889.8,756.7 L889.9,754.8 L890.1,752.9 L890.2,750.9 L890.4,749.0 L890.5,747.1 L890.6,745.1 L890.8,743.2 L890.9,741.3 L891.0,739.4 L891.2,737.5 L891.3,735.6 L891.4,733.7 L891.6,731.8 L891.7,729.9 L891.8,728.0 L892.0,726.2 L892.1,724.3 L892.2,722.4 L892.4,720.6 L892.5,718.8 L892.6,716.9 L892.8,715.1 L892.9,713.3 L893.0,711.5 L893.2,709.7 L893.3,707.9 L893.4,706.1 L893.6,704.3 L893.7,702.6 L893.8,700.8 L894.0,699.1 L894.1,697.3 L894.2,695.6 L894.4,693.9 L894.5,692.2 L894.6,690.5 L894.8,688.8 L894.9,687.2 L895.0,685.5 L895.2,683.9 L895.3,682.3 L895.4,680.7 L895.6,679.1 L895.7,677.5 L895.8,675.9 L896.0,674.4 L896.1,672.9 L896.2,671.3 L896.4,669.8 L896.5,668.3 L896.7,666.9 L896.8,665.4 L896.9,664.0 L897.1,662.5 L897.2,661.1 L897.3,659.7 L897.5,658.3 L897.6,657.0 L897.7,655.6 L897.9,654.3 L898.0,653.0 L898.1,651.7 L898.3,650.4 L898.4,649.2 L898.5,648.0 L898.7,646.7 L898.8,645.5 L898.9,644.4 L899.1,643.2 L899.2,642.1 L899.3,640.9 L899.5,639.8 L899.6,638.8 L899.7,637.7 L899.9,636.7 L900.0,635.6 L900.1,634.6 L900.3,633.7 L900.4,632.7 L900.5,631.8 L900.7,630.8 L900.8,629.9 L900.9,629.1 L901.1,628.2 L901.2,627.4 L901.3,626.6 L901.5,625.8 L901.6,625.0 L901.7,624.3 L901.9,623.6 L902.0,622.9 L902.1,622.2 L902.3,621.5 L902.4,620.9 L902.5,620.3 L902.7,619.7 L902.8,619.1 L902.9,618.6 L903.1,618.1 L903.2,617.6 L903.4,617.1 L903.5,616.7 L903.6,616.2 L903.8,615.8 L903.9,615.4 L904.0,615.1 L904.2,614.7 L904.3,614.4 L904.4,614.1 L904.6,613.9 L904.7,613.6 L904.8,613.4 L905.0,613.2 L905.1,613.1 L905.2,612.9 L905.4,612.8 L905.5,612.7 L905.6,612.6 L905.8,612.5 L905.9,612.5 L906.0,612.5 L906.2,612.5 L906.3,612.5 L906.4,612.6 L906.6,612.7 L906.7,612.8 L906.8,612.9 L907.0,613.1 L907.1,613.2 L907.2,613.4 L907.4,613.6 L907.5,613.9 L907.6,614.1 L907.8,614.4 L907.9,614.7 L908.0,615.1 L908.2,615.4 L908.3,615.8 L908.4,616.2 L908.6,616.6 L908.7,617.0 L908.8,617.5 L909.0,618.0 L909.1,618.4 L909.2,619.0 L909.4,619.5 L909.5,620.1 L909.7,620.6 L909.8,621.3 L909.9,621.9 L910.1,622.5 L910.2,623.2 L910.3,623.9 L910.5,624.6 L910.6,625.3 L910.7,626.0 L910.9,626.8 L911.0,627.5 L911.1,628.3 L911.3,629.1 L911.4,630.0 L911.5,630.8 L911.7,631.7 L911.8,632.6 L911.9,633.5 L912.1,634.4 L912.2,635.3 L912.3,636.2 L912.5,637.2 L912.6,638.2 L912.7,639.2 L912.9,640.2 L913.0,641.2 L913.1,642.3 L913.3,643.3 L913.4,644.4 L913.5,645.5 L913.7,646.6 L913.8,647.7 L913.9,648.8 L914.1,649.9 L914.2,651.1 L914.3,652.2 L914.5,653.4 L914.6,654.6 L914.7,655.8 L914.9,657.0 L915.0,658.2 L915.1,659.5 L915.3,660.7 L915.4,661.9 L915.5,663.2 L915.7,664.5 L915.8,665.7 L916.0,667.0 L916.1,668.3 L916.2,669.6 L916.4,670.9 L916.5,672.3 L916.6,673.6 L916.8,674.9 L916.9,676.3 L917.0,677.6 L917.2,678.9 L917.3,680.3 L917.4,681.7 L917.6,683.0 L917.7,684.4 L917.8,685.8 L918.0,687.2 L918.1,688.5 L918.2,689.9 L918.4,691.3 L918.5,692.7 L918.6,694.1 L918.8,695.5 L918.9,696.9 L919.0,698.3 L919.2,699.7 L919.3,701.1 L919.4,702.5 L919.6,703.9 L919.7,705.3 L919.8,706.7 L920.0,708.1 L920.1,709.4 L920.2,710.8 L920.4,712.2 L920.5,713.6 L920.6,715.0 L920.8,716.4 L920.9,717.8 L921.0,719.1 L921.2,720.5 L921.3,721.9 L921.4,723.2 L921.6,724.6 L921.7,725.9 L921.8,727.3 L922.0,728.6 L922.1,729.9 L922.3,731.3 L922.4,732.6 L922.5,733.9 L922.7,735.2 L922.8,736.5 L922.9,737.8 L923.1,739.1 L923.2,740.3 L923.3,741.6 L923.5,742.8 L923.6,744.1 L923.7,745.3 L923.9,746.5 L924.0,747.7 L924.1,748.9 L924.3,750.1 L924.4,751.3 L924.5,752.5 L924.7,753.6 L924.8,754.7 L924.9,755.9 L925.1,757.0 L925.2,758.1 L925.3,759.2 L925.5,760.3 L925.6,761.3 L925.7,762.4 L925.9,763.4 L926.0,764.4 L926.1,765.4 L926.3,766.4 L926.4,767.4 L926.5,768.4 L926.7,769.3 L926.8,770.2 L926.9,771.1 L927.1,772.0 L927.2,772.9 L927.3,773.8 L927.5,774.6 L927.6,775.5 L927.7,776.3 L927.9,777.1 L928.0,777.9 L928.1,778.6 L928.3,779.4 L928.4,780.1 L928.5,780.8 L928.7,781.5 L928.8,782.2 L929.0,782.9 L929.1,783.5 L929.2,784.1 L929.4,784.7 L929.5,785.3 L929.6,785.9 L929.8,786.4 L929.9,787.0 L930.0,787.5 L930.2,788.0 L930.3,788.4 L930.4,788.9 L930.6,789.3 L930.7,789.7 L930.8,790.1 L931.0,790.5 L931.1,790.9 L931.2,791.2 L931.4,791.6 L931.5,791.9 L931.6,792.1 L931.8,792.4 L931.9,792.7 L932.0,792.9 L932.2,793.1 L932.3,793.3 L932.4,793.5 L932.6,793.6 L932.7,793.8 L932.8,793.9 L933.0,794.0 L933.1,794.1 L933.2,794.1 L933.4,794.2 L933.5,794.2 L933.6,794.2 L933.8,794.2 L933.9,794.2 L934.0,794.1 L934.2,794.1 L934.3,794.0 L934.4,793.9 L934.6,793.8 L934.7,793.6 L934.8,793.5 L935.0,793.3 L935.1,793.1 L935.3,792.9 L935.4,792.7 L935.5,792.5 L935.7,792.2 L935.8,792.0 L935.9,791.7 L936.1,791.4 L936.2,791.1 L936.3,790.8 L936.5,790.4 L936.6,790.1 L936.7,789.7 L936.9,789.3 L937.0,788.9 L937.1,788.5 L937.3,788.1 L937.4,787.7 L937.5,787.2 L937.7,786.7 L937.8,786.3 L937.9,785.8 L938.1,785.3 L938.2,784.8 L938.3,784.3 L938.5,783.7 L938.6,783.2 L938.7,782.6 L938.9,782.1 L939.0,781.5 L939.1,780.9 L939.3,780.3 L939.4,779.7 L939.5,779.1 L939.7,778.5 L939.8,777.9 L939.9,777.2 L940.1,776.6 L940.2,775.9 L940.3,775.3 L940.5,774.6 L940.6,773.9 L940.7,773.3 L940.9,772.6 L941.0,771.9 L941.1,771.2 L941.3,770.5 L941.4,769.8 L941.6,769.1 L941.7,768.4 L941.8,767.7 L942.0,767.0 L942.1,766.3 L942.2,765.6 L942.4,764.8 L942.5,764.1 L942.6,763.4 L942.8,762.7 L942.9,761.9 L943.0,761.2 L943.2,760.5"/>
<path class="da" d="M139.1,760.5 139.6,757.6 140.0,755.4M141.4,748.0 141.9,745.3 142.5,742.5 142.5,742.2M143.9,734.8 144.3,732.5 144.9,729.6 145.0,729.0M146.4,721.6 146.9,719.1 147.4,716.4 147.5,715.8M149.0,708.4 149.4,706.2 150.0,703.5 150.1,702.6M151.7,695.2 152.1,693.1 152.6,690.6 152.9,689.4M154.5,682.0 154.9,680.1 155.5,677.7 155.8,676.2M157.5,668.8 158.0,666.8 158.5,664.5 158.9,663.0M160.8,655.6 161.2,654.0 161.8,652.0 162.3,650.0 162.3,649.8M164.4,642.4 165.0,640.6 165.5,638.9 166.0,637.2 166.2,636.6M168.7,629.2 169.1,627.9 169.7,626.4 170.2,624.9 170.7,623.5 170.8,623.4M173.8,616.0 174.2,615.0 174.8,613.8 175.3,612.7 175.8,611.6 176.4,610.5 176.5,610.2M180.7,602.8 181.2,602.0 181.7,601.2 182.3,600.4 182.8,599.6 183.3,598.9 183.9,598.2 184.4,597.5 184.8,597.0M192.0,590.3 192.4,590.0 193.0,589.7 193.5,589.4 194.1,589.0 194.6,588.7 195.1,588.5 195.7,588.2 196.2,588.0 196.7,587.7 197.3,587.5 197.8,587.3M205.2,585.8 205.7,585.8 206.3,585.8 206.8,585.8 207.3,585.8 207.9,585.8 208.4,585.8 208.9,585.9 209.5,585.9 210.0,585.9 210.5,586.0 211.0,586.0M218.4,587.5 218.8,587.6 219.4,587.7 219.9,587.9 220.5,588.0 221.0,588.2 221.5,588.4 222.1,588.5 222.6,588.7 223.1,588.9 223.7,589.0 224.2,589.2M231.6,591.9 232.0,592.1 232.5,592.3 233.1,592.5 233.6,592.7 234.1,592.9 234.7,593.2 235.2,593.4 235.7,593.6 236.3,593.8 236.8,594.0 237.3,594.3 237.4,594.3M244.8,597.4 245.3,597.6 245.8,597.8 246.3,598.0 246.9,598.2 247.4,598.5 247.9,598.7 248.5,598.9 249.0,599.1 249.5,599.4 250.1,599.6 250.6,599.8M258.0,602.8 258.4,603.0 258.9,603.2 259.5,603.4 260.0,603.6 260.5,603.8 261.1,604.0 261.6,604.2 262.1,604.4 262.7,604.6 263.2,604.8 263.7,605.0 263.8,605.0M271.2,607.7 271.7,607.9 272.2,608.1 272.7,608.2 273.3,608.4 273.8,608.6 274.3,608.8 274.9,609.0 275.4,609.1 275.9,609.3 276.5,609.5 277.0,609.6M284.4,611.9 284.8,612.0 285.3,612.1 285.9,612.3 286.4,612.4 286.9,612.6 287.5,612.7 288.0,612.9 288.5,613.0 289.1,613.2 289.6,613.3 290.2,613.4 290.2,613.4M297.6,615.2 298.1,615.3 298.6,615.4 299.1,615.5 299.7,615.6 300.2,615.7 300.7,615.9 301.3,616.0 301.8,616.1 302.4,616.2 302.9,616.3 303.4,616.4M310.8,617.6 311.2,617.7 311.7,617.8 312.3,617.8 312.8,617.9 313.3,618.0 313.9,618.1 314.4,618.1 315.0,618.2 315.5,618.3 316.0,618.3 316.6,618.4 316.6,618.4M324.0,619.2 324.5,619.2 325.0,619.2 325.5,619.3 326.1,619.3 326.6,619.3 327.1,619.4 327.7,619.4 328.2,619.5 328.8,619.5 329.3,619.5 329.8,619.5M337.2,619.8 337.6,619.8 338.1,619.8 338.7,619.8 339.2,619.8 339.7,619.8 340.3,619.8 340.8,619.8 341.4,619.8 341.9,619.8 342.4,619.8 343.0,619.8 343.0,619.8M350.4,619.5 350.9,619.5 351.4,619.5 351.9,619.5 352.5,619.4 353.0,619.4 353.6,619.4 354.1,619.3 354.6,619.3 355.2,619.2 355.7,619.2 356.2,619.2M363.6,618.4 364.0,618.4 364.5,618.3 365.1,618.2 365.6,618.2 366.2,618.1 366.7,618.0 367.2,617.9 367.8,617.9 368.3,617.8 368.8,617.7 369.4,617.6 369.4,617.6M376.8,616.4 377.3,616.3 377.8,616.2 378.3,616.1 378.9,616.0 379.4,615.9 380.0,615.8 380.5,615.6 381.0,615.5 381.6,615.4 382.1,615.3 382.6,615.2M390.0,613.5 390.4,613.4 390.9,613.2 391.5,613.1 392.0,612.9 392.6,612.8 393.1,612.6 393.6,612.5 394.2,612.4 394.7,612.2 395.2,612.1 395.8,611.9 395.8,611.9M403.2,609.7 403.7,609.5 404.2,609.3 404.8,609.2 405.3,609.0 405.8,608.8 406.4,608.6 406.9,608.4 407.4,608.3 408.0,608.1 408.5,607.9 409.0,607.7M416.4,605.1 416.8,604.9 417.4,604.7 417.9,604.5 418.4,604.3 419.0,604.1 419.5,603.9 420.0,603.7 420.6,603.5 421.1,603.2 421.6,603.0 422.2,602.8 422.2,602.8M429.6,599.8 430.1,599.6 430.6,599.4 431.2,599.2 431.7,598.9 432.2,598.7 432.8,598.5 433.3,598.3 433.8,598.0 434.4,597.8 434.9,597.6 435.4,597.4M442.8,594.3 443.2,594.1 443.8,593.9 444.3,593.7 444.8,593.5 445.4,593.2 445.9,593.0 446.4,592.8 447.0,592.6 447.5,592.4 448.0,592.2 448.6,591.9 448.6,591.9M456.0,589.2 456.5,589.1 457.0,588.9 457.6,588.7 458.1,588.5 458.6,588.4 459.2,588.2 459.7,588.1 460.2,587.9 460.8,587.7 461.3,587.6 461.8,587.5M469.2,586.0 469.6,586.0 470.2,585.9 470.7,585.9 471.2,585.9 471.8,585.8 472.3,585.8 472.8,585.8 473.4,585.8 473.9,585.8 474.4,585.8 475.0,585.8M482.4,587.3 482.9,587.5 483.4,587.7 484.0,587.9 484.5,588.2 485.0,588.4 485.6,588.7 486.1,589.0 486.6,589.3 487.2,589.6 487.7,590.0 488.2,590.3M495.3,596.9 495.8,597.5 496.3,598.1 496.8,598.8 497.4,599.6 497.9,600.3 498.4,601.1 499.0,601.9 499.5,602.7 499.5,602.7M503.7,610.1 504.2,611.2 504.7,612.3 505.3,613.4 505.8,614.6 506.3,615.8 506.4,615.9M509.4,623.3 510.0,624.7 510.5,626.2 511.0,627.7 511.5,629.1M514.0,636.5 514.5,638.2 515.1,640.0 515.6,641.8 515.8,642.3M517.9,649.7 518.3,651.2 518.8,653.2 519.3,655.3 519.4,655.5M521.3,662.9 521.8,664.8 522.3,667.0 522.7,668.7M524.4,676.1 524.8,678.0 525.4,680.4 525.7,681.9M527.3,689.3 527.8,691.5 528.3,694.1 528.5,695.1M530.1,702.5 530.5,704.5 531.0,707.2 531.2,708.3M532.7,715.7 533.2,718.1 533.7,720.9 533.8,721.5M535.2,728.9 535.7,731.4 536.2,734.2 536.3,734.7M537.7,742.1 538.2,745.0 538.8,747.9 538.8,747.9M540.2,755.3 540.7,758.0 541.2,760.9 541.2,761.1M542.6,768.5 543.1,771.0 543.6,773.9 543.7,774.3M545.1,781.7 545.5,783.9 546.0,786.8 546.2,787.5M547.6,794.9 548.0,797.3 548.6,800.1 548.7,800.7M550.1,808.1 550.6,810.4 551.1,813.1 551.3,813.9M552.8,821.3 553.3,823.7 553.8,826.3 554.0,827.1M555.5,834.5 556.1,837.0 556.6,839.4 556.8,840.3M558.5,847.7 559.0,850.0 559.6,852.3 559.9,853.5M561.7,860.9 562.1,862.6 562.6,864.7 563.2,866.7M565.2,874.1 565.6,875.6 566.1,877.4 566.7,879.2 566.9,879.9M569.2,887.3 569.6,888.6 570.1,890.2 570.7,891.8 571.2,893.1M573.9,900.5 574.4,901.8 575.0,903.0 575.5,904.3 576.0,905.5 576.4,906.3M580.1,913.7 580.5,914.5 581.0,915.4 581.5,916.3 582.1,917.2 582.6,918.1 583.1,918.9 583.6,919.5M589.5,926.9 590.0,927.4 590.5,927.9 591.1,928.4 591.6,928.8 592.1,929.3 592.7,929.7 593.2,930.1 593.7,930.5 594.3,930.8 594.8,931.2 595.3,931.5M602.7,934.5 603.3,934.6 603.8,934.7 604.3,934.8 604.9,934.9 605.4,935.0 605.9,935.0 606.5,935.1 607.0,935.1 607.5,935.2 608.1,935.2 608.5,935.2M615.9,934.5 616.4,934.4 616.9,934.3 617.5,934.2 618.0,934.1 618.5,934.0 619.1,933.9 619.6,933.7 620.1,933.6 620.7,933.5 621.2,933.3 621.7,933.2M629.1,930.8 629.7,930.6 630.2,930.4 630.7,930.2 631.3,930.0 631.8,929.8 632.3,929.6 632.9,929.4 633.4,929.2 633.9,928.9 634.5,928.7 634.9,928.6M642.3,925.5 642.8,925.3 643.3,925.1 643.9,924.9 644.4,924.6 644.9,924.4 645.5,924.2 646.0,924.0 646.5,923.7 647.1,923.5 647.6,923.3 648.1,923.1M655.5,920.0 656.1,919.8 656.6,919.6 657.1,919.4 657.7,919.1 658.2,918.9 658.7,918.7 659.3,918.5 659.8,918.3 660.4,918.1 660.9,917.9 661.3,917.7M668.7,914.9 669.2,914.7 669.7,914.5 670.3,914.3 670.8,914.1 671.3,913.9 671.9,913.8 672.4,913.6 673.0,913.4 673.5,913.2 674.0,913.0 674.5,912.8M681.9,910.4 682.5,910.3 683.0,910.1 683.5,910.0 684.1,909.8 684.6,909.6 685.1,909.5 685.7,909.3 686.2,909.2 686.8,909.0 687.3,908.9 687.7,908.7M695.1,906.8 695.6,906.7 696.1,906.6 696.7,906.5 697.2,906.3 697.7,906.2 698.3,906.1 698.8,906.0 699.4,905.9 699.9,905.7 700.4,905.6 700.9,905.5M708.3,904.1 708.9,904.0 709.4,903.9 709.9,903.8 710.5,903.7 711.0,903.7 711.6,903.6 712.1,903.5 712.6,903.4 713.2,903.3 713.7,903.3 714.1,903.2M721.5,902.3 722.0,902.2 722.5,902.2 723.1,902.1 723.6,902.1 724.2,902.0 724.7,902.0 725.2,901.9 725.8,901.9 726.3,901.8 726.8,901.8 727.3,901.7M734.7,901.3 735.3,901.3 735.8,901.3 736.3,901.3 736.9,901.3 737.4,901.2 738.0,901.2 738.5,901.2 739.0,901.2 739.6,901.2 740.1,901.2 740.5,901.2M747.9,901.3 748.4,901.3 748.9,901.3 749.5,901.3 750.0,901.3 750.6,901.4 751.1,901.4 751.6,901.4 752.2,901.4 752.7,901.5 753.2,901.5 753.7,901.5M761.1,902.1 761.7,902.2 762.2,902.2 762.8,902.3 763.3,902.3 763.8,902.4 764.4,902.4 764.9,902.5 765.4,902.6 766.0,902.6 766.5,902.7 766.9,902.8M774.3,903.8 774.8,903.9 775.4,904.0 775.9,904.1 776.4,904.2 777.0,904.3 777.5,904.4 778.0,904.5 778.6,904.6 779.1,904.7 779.6,904.8 780.1,904.9M787.5,906.5 787.9,906.5 788.5,906.7 789.0,906.8 789.6,906.9 790.1,907.1 790.6,907.2 791.2,907.3 791.7,907.5 792.2,907.6 792.8,907.7 793.3,907.9 793.3,907.9M800.7,910.0 801.2,910.1 801.8,910.3 802.3,910.4 802.8,910.6 803.4,910.8 803.9,910.9 804.4,911.1 805.0,911.3 805.5,911.4 806.0,911.6 806.5,911.8M813.9,914.3 814.4,914.4 814.9,914.6 815.4,914.8 816.0,915.0 816.5,915.2 817.0,915.4 817.6,915.6 818.1,915.8 818.6,916.0 819.2,916.2 819.7,916.4 819.7,916.4M827.1,919.4 827.6,919.5 828.2,919.8 828.7,920.0 829.2,920.2 829.8,920.4 830.3,920.6 830.8,920.9 831.4,921.1 831.9,921.3 832.4,921.5 832.9,921.7M840.3,924.8 840.8,925.0 841.3,925.2 841.8,925.5 842.4,925.7 842.9,925.9 843.4,926.1 844.0,926.4 844.5,926.6 845.0,926.8 845.6,927.0 846.1,927.2 846.1,927.3M853.5,930.2 854.0,930.4 854.6,930.6 855.1,930.8 855.6,930.9 856.2,931.1 856.7,931.3 857.2,931.5 857.8,931.7 858.3,931.9 858.9,932.1 859.3,932.2M866.7,934.2 867.2,934.3 867.7,934.4 868.2,934.5 868.8,934.6 869.3,934.7 869.8,934.8 870.4,934.9 870.9,934.9 871.5,935.0 872.0,935.0 872.5,935.1 872.5,935.1M879.9,934.8 880.4,934.8 881.0,934.7 881.5,934.5 882.0,934.4 882.6,934.3 883.1,934.1 883.6,934.0 884.2,933.8 884.7,933.6 885.3,933.4 885.7,933.2M893.1,928.4 893.6,928.1 894.1,927.6 894.6,927.0 895.2,926.5 895.7,925.9 896.2,925.4 896.8,924.7 897.3,924.1 897.9,923.5 898.4,922.8 898.4,922.7M903.3,915.3 903.8,914.6 904.3,913.6 904.8,912.6 905.4,911.6 905.9,910.5 906.4,909.5M909.7,902.1 910.2,900.9 910.7,899.6 911.3,898.2 911.8,896.8 912.0,896.3M914.6,888.9 915.0,887.6 915.5,886.0 916.1,884.3 916.4,883.1M918.6,875.7 919.2,873.9 919.7,872.0 920.2,870.0 920.3,869.9M922.2,862.5 922.7,860.8 923.2,858.6 923.7,856.7M925.4,849.3 925.9,847.4 926.4,845.1 926.8,843.5M928.4,836.1 928.8,834.2 929.4,831.7 929.6,830.3M931.2,822.9 931.6,820.8 932.2,818.1 932.4,817.1M933.8,809.7 934.3,807.4 934.8,804.6 935.0,803.9M936.4,796.5 936.9,794.2 937.4,791.4 937.5,790.7M938.9,783.3 939.4,780.7 939.9,777.8 940.0,777.5M941.4,770.1 941.8,767.7 942.4,764.8 942.4,764.3"/>
<path class="da" d="M139.1,760.5 139.6,763.4 140.0,765.6M141.4,773.0 141.9,775.7 142.5,778.5 142.5,778.8M143.9,786.2 144.3,788.5 144.9,791.4 145.0,792.0M146.4,799.4 146.9,801.9 147.4,804.6 147.5,805.2M149.0,812.6 149.4,814.8 150.0,817.5 150.1,818.4M151.7,825.8 152.1,827.9 152.6,830.4 152.9,831.6M154.5,839.0 154.9,840.9 155.5,843.3 155.8,844.8M157.5,852.2 158.0,854.2 158.5,856.5 158.9,858.0M160.8,865.4 161.2,867.0 161.8,869.0 162.3,871.0 162.3,871.2M164.4,878.6 165.0,880.4 165.5,882.1 166.0,883.8 166.2,884.4M168.7,891.8 169.1,893.1 169.7,894.6 170.2,896.1 170.7,897.5 170.8,897.6M173.8,905.0 174.2,906.0 174.8,907.2 175.3,908.3 175.8,909.4 176.4,910.5 176.5,910.8M180.7,918.2 181.2,919.0 181.7,919.8 182.3,920.6 182.8,921.4 183.3,922.1 183.9,922.8 184.4,923.5 184.8,924.0M192.0,930.7 192.4,931.0 193.0,931.3 193.5,931.6 194.1,932.0 194.6,932.3 195.1,932.5 195.7,932.8 196.2,933.0 196.7,933.3 197.3,933.5 197.8,933.7M205.2,935.2 205.7,935.2 206.3,935.2 206.8,935.2 207.3,935.2 207.9,935.2 208.4,935.2 208.9,935.1 209.5,935.1 210.0,935.1 210.5,935.0 211.0,935.0M218.4,933.5 218.8,933.4 219.4,933.3 219.9,933.1 220.5,933.0 221.0,932.8 221.5,932.6 222.1,932.5 222.6,932.3 223.1,932.1 223.7,932.0 224.2,931.8M231.6,929.1 232.0,928.9 232.5,928.7 233.1,928.5 233.6,928.3 234.1,928.1 234.7,927.8 235.2,927.6 235.7,927.4 236.3,927.2 236.8,927.0 237.3,926.7 237.4,926.7M244.8,923.6 245.3,923.4 245.8,923.2 246.3,923.0 246.9,922.8 247.4,922.5 247.9,922.3 248.5,922.1 249.0,921.9 249.5,921.6 250.1,921.4 250.6,921.2M258.0,918.2 258.4,918.0 258.9,917.8 259.5,917.6 260.0,917.4 260.5,917.2 261.1,917.0 261.6,916.8 262.1,916.6 262.7,916.4 263.2,916.2 263.7,916.0 263.8,916.0M271.2,913.3 271.7,913.1 272.2,912.9 272.7,912.8 273.3,912.6 273.8,912.4 274.3,912.2 274.9,912.0 275.4,911.9 275.9,911.7 276.5,911.5 277.0,911.4M284.4,909.1 284.8,909.0 285.3,908.9 285.9,908.7 286.4,908.6 286.9,908.4 287.5,908.3 288.0,908.1 288.5,908.0 289.1,907.8 289.6,907.7 290.2,907.6 290.2,907.6M297.6,905.8 298.1,905.7 298.6,905.6 299.1,905.5 299.7,905.4 300.2,905.3 300.7,905.1 301.3,905.0 301.8,904.9 302.4,904.8 302.9,904.7 303.4,904.6M310.8,903.4 311.2,903.3 311.7,903.2 312.3,903.2 312.8,903.1 313.3,903.0 313.9,902.9 314.4,902.9 315.0,902.8 315.5,902.7 316.0,902.7 316.6,902.6 316.6,902.6M324.0,901.8 324.5,901.8 325.0,901.8 325.5,901.7 326.1,901.7 326.6,901.7 327.1,901.6 327.7,901.6 328.2,901.5 328.8,901.5 329.3,901.5 329.8,901.5M337.2,901.2 337.6,901.2 338.1,901.2 338.7,901.2 339.2,901.2 339.7,901.2 340.3,901.2 340.8,901.2 341.4,901.2 341.9,901.2 342.4,901.2 343.0,901.2 343.0,901.2M350.4,901.5 350.9,901.5 351.4,901.5 351.9,901.5 352.5,901.6 353.0,901.6 353.6,901.6 354.1,901.7 354.6,901.7 355.2,901.8 355.7,901.8 356.2,901.8M363.6,902.6 364.0,902.6 364.5,902.7 365.1,902.8 365.6,902.8 366.2,902.9 366.7,903.0 367.2,903.1 367.8,903.1 368.3,903.2 368.8,903.3 369.4,903.4 369.4,903.4M376.8,904.6 377.3,904.7 377.8,904.8 378.3,904.9 378.9,905.0 379.4,905.1 380.0,905.2 380.5,905.4 381.0,905.5 381.6,905.6 382.1,905.7 382.6,905.8M390.0,907.5 390.4,907.6 390.9,907.8 391.5,907.9 392.0,908.1 392.6,908.2 393.1,908.4 393.6,908.5 394.2,908.6 394.7,908.8 395.2,908.9 395.8,909.1 395.8,909.1M403.2,911.3 403.7,911.5 404.2,911.7 404.8,911.8 405.3,912.0 405.8,912.2 406.4,912.4 406.9,912.6 407.4,912.7 408.0,912.9 408.5,913.1 409.0,913.3M416.4,915.9 416.8,916.1 417.4,916.3 417.9,916.5 418.4,916.7 419.0,916.9 419.5,917.1 420.0,917.3 420.6,917.5 421.1,917.8 421.6,918.0 422.2,918.2 422.2,918.2M429.6,921.2 430.1,921.4 430.6,921.6 431.2,921.8 431.7,922.1 432.2,922.3 432.8,922.5 433.3,922.7 433.8,923.0 434.4,923.2 434.9,923.4 435.4,923.6M442.8,926.7 443.2,926.9 443.8,927.1 444.3,927.3 444.8,927.5 445.4,927.8 445.9,928.0 446.4,928.2 447.0,928.4 447.5,928.6 448.0,928.8 448.6,929.1 448.6,929.1M456.0,931.8 456.5,931.9 457.0,932.1 457.6,932.3 458.1,932.5 458.6,932.6 459.2,932.8 459.7,932.9 460.2,933.1 460.8,933.3 461.3,933.4 461.8,933.5M469.2,935.0 469.6,935.0 470.2,935.1 470.7,935.1 471.2,935.1 471.8,935.2 472.3,935.2 472.8,935.2 473.4,935.2 473.9,935.2 474.4,935.2 475.0,935.2M482.4,933.7 482.9,933.5 483.4,933.3 484.0,933.1 484.5,932.8 485.0,932.6 485.6,932.3 486.1,932.0 486.6,931.7 487.2,931.4 487.7,931.0 488.2,930.7M495.3,924.1 495.8,923.5 496.3,922.9 496.8,922.2 497.4,921.4 497.9,920.7 498.4,919.9 499.0,919.1 499.5,918.3 499.5,918.3M503.7,910.9 504.2,909.8 504.7,908.7 505.3,907.6 505.8,906.4 506.3,905.2 506.4,905.1M509.4,897.7 510.0,896.3 510.5,894.8 511.0,893.3 511.5,891.9M514.0,884.5 514.5,882.8 515.1,881.0 515.6,879.2 515.8,878.7M517.9,871.3 518.3,869.8 518.8,867.8 519.3,865.7 519.4,865.5M521.3,858.1 521.8,856.2 522.3,854.0 522.7,852.3M524.4,844.9 524.8,843.0 525.4,840.6 525.7,839.1M527.3,831.7 527.8,829.5 528.3,826.9 528.5,825.9M530.1,818.5 530.5,816.5 531.0,813.8 531.2,812.7M532.7,805.3 533.2,802.9 533.7,800.1 533.8,799.5M535.2,792.1 535.7,789.6 536.2,786.8 536.3,786.3M537.7,778.9 538.2,776.0 538.8,773.1 538.8,773.1M540.2,765.7 540.7,763.0 541.2,760.1 541.2,759.9M542.6,752.5 543.1,750.0 543.6,747.1 543.7,746.7M545.1,739.3 545.5,737.1 546.0,734.2 546.2,733.5M547.6,726.1 548.0,723.7 548.6,720.9 548.7,720.3M550.1,712.9 550.6,710.6 551.1,707.9 551.3,707.1M552.8,699.7 553.3,697.3 553.8,694.7 554.0,693.9M555.5,686.5 556.1,684.0 556.6,681.6 556.8,680.7M558.5,673.3 559.0,671.0 559.6,668.7 559.9,667.5M561.7,660.1 562.1,658.4 562.6,656.3 563.2,654.3M565.2,646.9 565.6,645.4 566.1,643.6 566.7,641.8 566.9,641.1M569.2,633.7 569.6,632.4 570.1,630.8 570.7,629.2 571.2,627.9M573.9,620.5 574.4,619.2 575.0,618.0 575.5,616.7 576.0,615.5 576.4,614.7M580.1,607.3 580.5,606.5 581.0,605.6 581.5,604.7 582.1,603.8 582.6,602.9 583.1,602.1 583.6,601.5M589.5,594.1 590.0,593.6 590.5,593.1 591.1,592.6 591.6,592.2 592.1,591.7 592.7,591.3 593.2,590.9 593.7,590.5 594.3,590.2 594.8,589.8 595.3,589.5M602.7,586.5 603.3,586.4 603.8,586.3 604.3,586.2 604.9,586.1 605.4,586.0 605.9,586.0 606.5,585.9 607.0,585.9 607.5,585.8 608.1,585.8 608.5,585.8M615.9,586.5 616.4,586.6 616.9,586.7 617.5,586.8 618.0,586.9 618.5,587.0 619.1,587.1 619.6,587.3 620.1,587.4 620.7,587.5 621.2,587.7 621.7,587.8M629.1,590.2 629.7,590.4 630.2,590.6 630.7,590.8 631.3,591.0 631.8,591.2 632.3,591.4 632.9,591.6 633.4,591.8 633.9,592.1 634.5,592.3 634.9,592.4M642.3,595.5 642.8,595.7 643.3,595.9 643.9,596.1 644.4,596.4 644.9,596.6 645.5,596.8 646.0,597.0 646.5,597.3 647.1,597.5 647.6,597.7 648.1,597.9M655.5,601.0 656.1,601.2 656.6,601.4 657.1,601.6 657.7,601.9 658.2,602.1 658.7,602.3 659.3,602.5 659.8,602.7 660.4,602.9 660.9,603.1 661.3,603.3M668.7,606.1 669.2,606.3 669.7,606.5 670.3,606.7 670.8,606.9 671.3,607.1 671.9,607.2 672.4,607.4 673.0,607.6 673.5,607.8 674.0,608.0 674.5,608.2M681.9,610.6 682.5,610.7 683.0,610.9 683.5,611.0 684.1,611.2 684.6,611.4 685.1,611.5 685.7,611.7 686.2,611.8 686.8,612.0 687.3,612.1 687.7,612.3M695.1,614.2 695.6,614.3 696.1,614.4 696.7,614.5 697.2,614.7 697.7,614.8 698.3,614.9 698.8,615.0 699.4,615.1 699.9,615.3 700.4,615.4 700.9,615.5M708.3,616.9 708.9,617.0 709.4,617.1 709.9,617.2 710.5,617.3 711.0,617.3 711.6,617.4 712.1,617.5 712.6,617.6 713.2,617.7 713.7,617.7 714.1,617.8M721.5,618.7 722.0,618.8 722.5,618.8 723.1,618.9 723.6,618.9 724.2,619.0 724.7,619.0 725.2,619.1 725.8,619.1 726.3,619.2 726.8,619.2 727.3,619.3M734.7,619.7 735.3,619.7 735.8,619.7 736.3,619.7 736.9,619.7 737.4,619.8 738.0,619.8 738.5,619.8 739.0,619.8 739.6,619.8 740.1,619.8 740.5,619.8M747.9,619.7 748.4,619.7 748.9,619.7 749.5,619.7 750.0,619.7 750.6,619.6 751.1,619.6 751.6,619.6 752.2,619.6 752.7,619.5 753.2,619.5 753.7,619.5M761.1,618.9 761.7,618.8 762.2,618.8 762.8,618.7 763.3,618.7 763.8,618.6 764.4,618.6 764.9,618.5 765.4,618.4 766.0,618.4 766.5,618.3 766.9,618.2M774.3,617.2 774.8,617.1 775.4,617.0 775.9,616.9 776.4,616.8 777.0,616.7 777.5,616.6 778.0,616.5 778.6,616.4 779.1,616.3 779.6,616.2 780.1,616.1M787.5,614.5 787.9,614.5 788.5,614.3 789.0,614.2 789.6,614.1 790.1,613.9 790.6,613.8 791.2,613.7 791.7,613.5 792.2,613.4 792.8,613.3 793.3,613.1 793.3,613.1M800.7,611.0 801.2,610.9 801.8,610.7 802.3,610.6 802.8,610.4 803.4,610.2 803.9,610.1 804.4,609.9 805.0,609.7 805.5,609.6 806.0,609.4 806.5,609.2M813.9,606.7 814.4,606.6 814.9,606.4 815.4,606.2 816.0,606.0 816.5,605.8 817.0,605.6 817.6,605.4 818.1,605.2 818.6,605.0 819.2,604.8 819.7,604.6 819.7,604.6M827.1,601.6 827.6,601.5 828.2,601.2 828.7,601.0 829.2,600.8 829.8,600.6 830.3,600.4 830.8,600.1 831.4,599.9 831.9,599.7 832.4,599.5 832.9,599.3M840.3,596.2 840.8,596.0 841.3,595.8 841.8,595.5 842.4,595.3 842.9,595.1 843.4,594.9 844.0,594.6 844.5,594.4 845.0,594.2 845.6,594.0 846.1,593.8 846.1,593.7M853.5,590.8 854.0,590.6 854.6,590.4 855.1,590.2 855.6,590.1 856.2,589.9 856.7,589.7 857.2,589.5 857.8,589.3 858.3,589.1 858.9,588.9 859.3,588.8M866.7,586.8 867.2,586.7 867.7,586.6 868.2,586.5 868.8,586.4 869.3,586.3 869.8,586.2 870.4,586.1 870.9,586.1 871.5,586.0 872.0,586.0 872.5,585.9 872.5,585.9M879.9,586.2 880.4,586.2 881.0,586.3 881.5,586.5 882.0,586.6 882.6,586.7 883.1,586.9 883.6,587.0 884.2,587.2 884.7,587.4 885.3,587.6 885.7,587.8M893.1,592.6 893.6,592.9 894.1,593.4 894.6,594.0 895.2,594.5 895.7,595.1 896.2,595.6 896.8,596.3 897.3,596.9 897.9,597.5 898.4,598.2 898.4,598.3M903.3,605.7 903.8,606.4 904.3,607.4 904.8,608.4 905.4,609.4 905.9,610.5 906.4,611.5M909.7,618.9 910.2,620.1 910.7,621.4 911.3,622.8 911.8,624.2 912.0,624.7M914.6,632.1 915.0,633.4 915.5,635.0 916.1,636.7 916.4,637.9M918.6,645.3 919.2,647.1 919.7,649.0 920.2,651.0 920.3,651.1M922.2,658.5 922.7,660.2 923.2,662.4 923.7,664.3M925.4,671.7 925.9,673.6 926.4,675.9 926.8,677.5M928.4,684.9 928.8,686.8 929.4,689.3 929.6,690.7M931.2,698.1 931.6,700.2 932.2,702.9 932.4,703.9M933.8,711.3 934.3,713.6 934.8,716.4 935.0,717.1M936.4,724.5 936.9,726.8 937.4,729.6 937.5,730.3M938.9,737.7 939.4,740.3 939.9,743.2 940.0,743.5M941.4,750.9 941.8,753.3 942.4,756.2 942.4,756.7"/>
<text class="n" transform="translate(134.20,403.60) scale(1,1.080)">0</text>
<text class="n" transform="translate(390.90,403.90) scale(1,1.080)">2</text>
<text class="n" transform="translate(647.60,403.90) scale(1,1.080)">4</text>
<text class="n" transform="translate(904.30,404.00) scale(1,1.080)">6</text>
<text class="n" transform="translate(124.30,32.80) scale(1,1.080)" text-anchor="end">2</text>
<text class="n" transform="translate(124.30,119.90) scale(1,1.080)" text-anchor="end">1</text>
<text class="n" transform="translate(124.30,206.60) scale(1,1.080)" text-anchor="end">0</text>
<text class="n" transform="translate(124.30,295.90) scale(1,1.080)" text-anchor="end">1</text>
<text class="n" stroke="#000" stroke-width="0.5" transform="translate(86.00,295.90) scale(1,1.080)">–</text>
<text class="n" transform="translate(124.30,382.50) scale(1,1.080)" text-anchor="end">2</text>
<text class="n" stroke="#000" stroke-width="0.5" transform="translate(86.00,382.50) scale(1,1.080)">–</text>
<text class="n" transform="translate(139.40,969.50) scale(1,1.080)">0</text>
<text class="n" transform="translate(395.34,970.20) scale(1,1.080)">2</text>
<text class="n" transform="translate(651.28,970.00) scale(1,1.080)">4</text>
<text class="n" transform="translate(907.22,970.00) scale(1,1.080)">6</text>
<text class="n" transform="translate(126.20,599.60) scale(1,1.080)" text-anchor="end">1</text>
<text class="n" transform="translate(126.20,686.40) scale(1,1.080)" text-anchor="end">0.5</text>
<text class="n" transform="translate(126.20,774.10) scale(1,1.080)" text-anchor="end">0</text>
<text class="n" transform="translate(126.20,862.20) scale(1,1.080)" text-anchor="end">0.5</text>
<text class="n" stroke="#000" stroke-width="0.5" transform="translate(68.00,862.20) scale(1,1.080)">–</text>
<text class="n" transform="translate(126.20,949.50) scale(1,1.080)" text-anchor="end">1</text>
<text class="n" stroke="#000" stroke-width="0.5" transform="translate(89.50,949.50) scale(1,1.080)">–</text>
<text class="s" style="font-size:44.4px" transform="translate(43.4,382.4) rotate(-90)">Normalised voltage</text>
<text class="s" style="font-size:44.4px" transform="translate(31.8,935.4) rotate(-90)">Normalised voltage</text>
<text class="s" style="font-size:44.4px" x="534.2" y="458.7" text-anchor="middle">Time</text>
<text class="s" style="font-size:45.5px" x="535.55" y="529.6" text-anchor="middle">(a)</text>
<text class="s" style="font-size:44.4px" x="539.65" y="1036.3" text-anchor="middle">Time</text>
<text class="s" style="font-size:45.5px" x="544.15" y="1099.5" text-anchor="middle">(b)</text>
</svg>
</body></html>
